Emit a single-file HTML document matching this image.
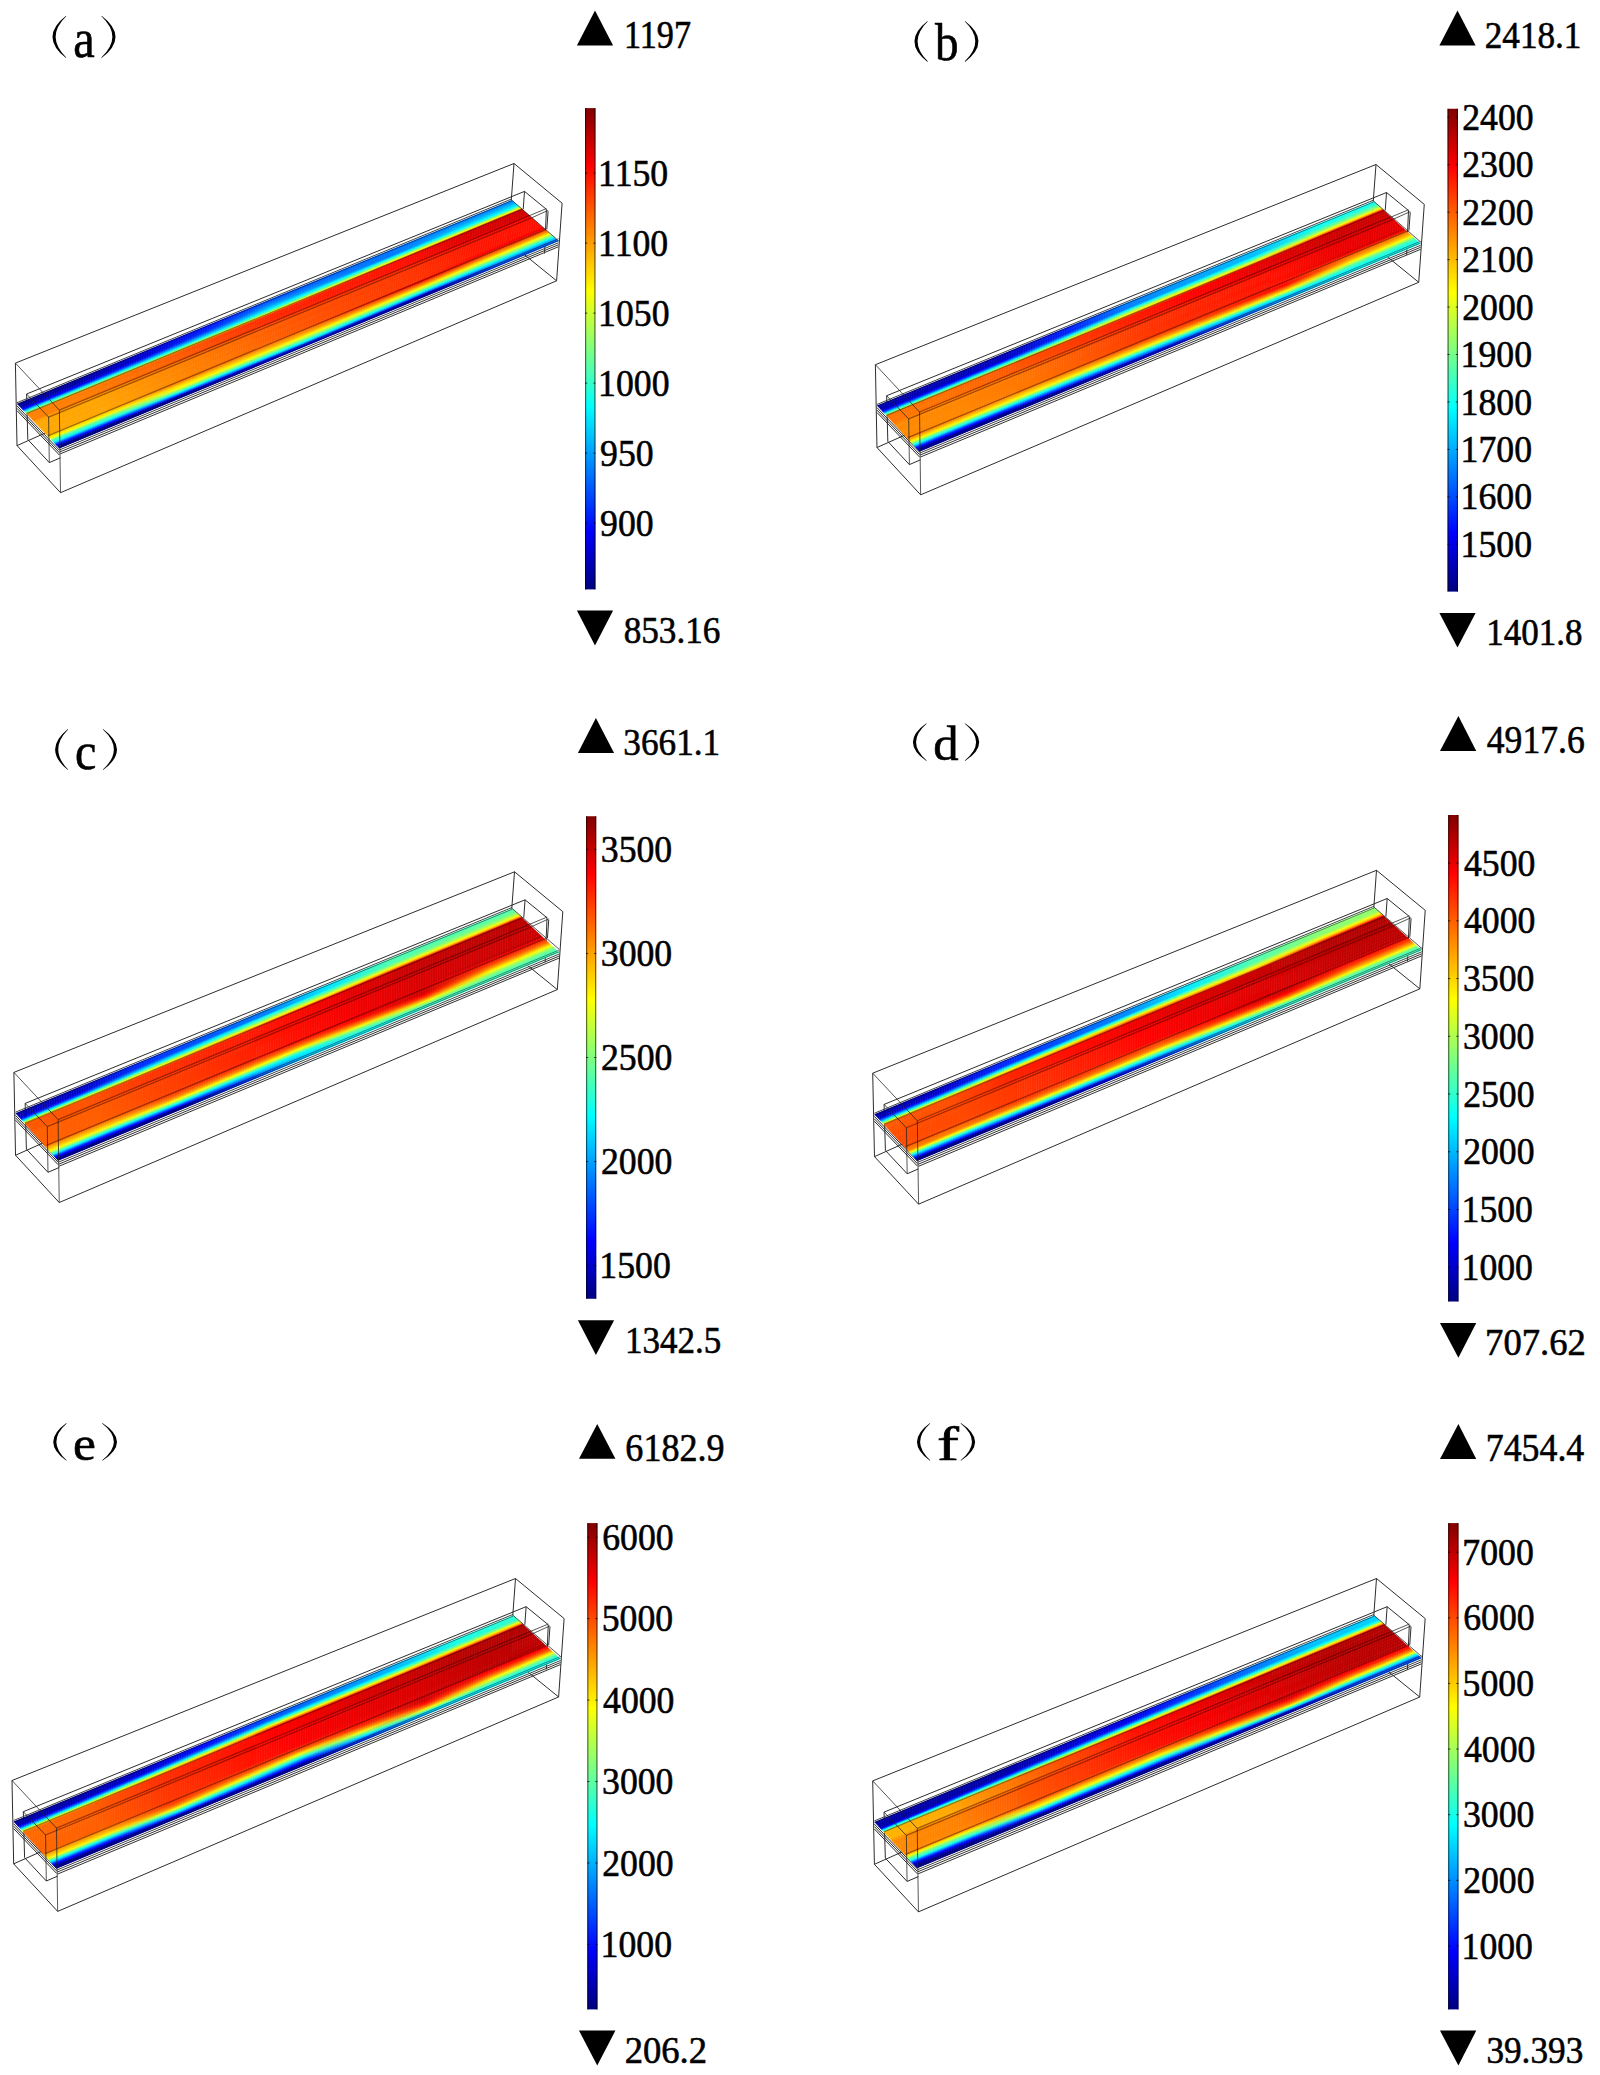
<!DOCTYPE html>
<html><head><meta charset="utf-8"><style>
html,body{margin:0;padding:0;background:#fff;}
svg{display:block;}
text{font-family:"Liberation Serif",serif;fill:#000;stroke:#000;stroke-width:0.6px;}
</style></head><body>
<svg xmlns="http://www.w3.org/2000/svg" width="1600" height="2075" viewBox="0 0 1600 2075">
<defs><linearGradient id="jetv" x1="0" y1="1" x2="0" y2="0"><stop offset="0" stop-color="#000080"/><stop offset="0.12" stop-color="#0000ff"/><stop offset="0.38" stop-color="#00ffff"/><stop offset="0.62" stop-color="#ffff00"/><stop offset="0.88" stop-color="#ff0000"/><stop offset="1" stop-color="#800000"/></linearGradient>
<linearGradient id="ga0" gradientUnits="userSpaceOnUse" x1="17.33" y1="404.05" x2="511.97" y2="200.32"><stop offset="0" stop-color="#000094"/><stop offset="0.12" stop-color="#00009e"/><stop offset="0.25" stop-color="#0000d1"/><stop offset="0.38" stop-color="#0010ff"/><stop offset="0.5" stop-color="#004eff"/><stop offset="0.62" stop-color="#0062ff"/><stop offset="0.75" stop-color="#0075ff"/><stop offset="0.88" stop-color="#007fff"/><stop offset="1" stop-color="#0081ff"/></linearGradient>
<linearGradient id="ga1" gradientUnits="userSpaceOnUse" x1="17.99" y1="404.75" x2="512.7" y2="200.97"><stop offset="0" stop-color="#000096"/><stop offset="0.12" stop-color="#0000a0"/><stop offset="0.25" stop-color="#0000d1"/><stop offset="0.38" stop-color="#0013ff"/><stop offset="0.5" stop-color="#0055ff"/><stop offset="0.62" stop-color="#0065ff"/><stop offset="0.75" stop-color="#0075ff"/><stop offset="0.88" stop-color="#0085ff"/><stop offset="1" stop-color="#0088ff"/></linearGradient>
<linearGradient id="ga2" gradientUnits="userSpaceOnUse" x1="18.66" y1="405.45" x2="513.44" y2="201.61"><stop offset="0" stop-color="#00009a"/><stop offset="0.12" stop-color="#0000a3"/><stop offset="0.25" stop-color="#0000d1"/><stop offset="0.38" stop-color="#0018ff"/><stop offset="0.5" stop-color="#005fff"/><stop offset="0.62" stop-color="#006aff"/><stop offset="0.75" stop-color="#0075ff"/><stop offset="0.88" stop-color="#008eff"/><stop offset="1" stop-color="#0092ff"/></linearGradient>
<linearGradient id="ga3" gradientUnits="userSpaceOnUse" x1="19.32" y1="406.15" x2="514.17" y2="202.26"><stop offset="0" stop-color="#00009e"/><stop offset="0.12" stop-color="#0000a6"/><stop offset="0.25" stop-color="#0000d1"/><stop offset="0.38" stop-color="#001fff"/><stop offset="0.5" stop-color="#006cff"/><stop offset="0.62" stop-color="#0070ff"/><stop offset="0.75" stop-color="#0075ff"/><stop offset="0.88" stop-color="#0099ff"/><stop offset="1" stop-color="#00a0ff"/></linearGradient>
<linearGradient id="ga4" gradientUnits="userSpaceOnUse" x1="19.98" y1="406.85" x2="514.9" y2="202.9"><stop offset="0" stop-color="#0000a2"/><stop offset="0.12" stop-color="#0000aa"/><stop offset="0.25" stop-color="#0000d1"/><stop offset="0.38" stop-color="#0027ff"/><stop offset="0.5" stop-color="#007bff"/><stop offset="0.62" stop-color="#0078ff"/><stop offset="0.75" stop-color="#0075ff"/><stop offset="0.88" stop-color="#00a6ff"/><stop offset="1" stop-color="#00b0ff"/></linearGradient>
<linearGradient id="ga5" gradientUnits="userSpaceOnUse" x1="20.64" y1="407.55" x2="515.64" y2="203.55"><stop offset="0" stop-color="#0000a8"/><stop offset="0.12" stop-color="#0000af"/><stop offset="0.25" stop-color="#0000d1"/><stop offset="0.38" stop-color="#002fff"/><stop offset="0.5" stop-color="#008dff"/><stop offset="0.62" stop-color="#0081ff"/><stop offset="0.75" stop-color="#0075ff"/><stop offset="0.88" stop-color="#00b6ff"/><stop offset="1" stop-color="#00c2ff"/></linearGradient>
<linearGradient id="ga6" gradientUnits="userSpaceOnUse" x1="21.31" y1="408.25" x2="516.37" y2="204.19"><stop offset="0" stop-color="#0000c8"/><stop offset="0.12" stop-color="#0000cd"/><stop offset="0.25" stop-color="#0000e1"/><stop offset="0.38" stop-color="#0041ff"/><stop offset="0.5" stop-color="#00a0ff"/><stop offset="0.62" stop-color="#008bff"/><stop offset="0.75" stop-color="#0075ff"/><stop offset="0.88" stop-color="#00c6ff"/><stop offset="1" stop-color="#00d6ff"/></linearGradient>
<linearGradient id="ga7" gradientUnits="userSpaceOnUse" x1="21.97" y1="408.95" x2="517.11" y2="204.84"><stop offset="0" stop-color="#0000ee"/><stop offset="0.12" stop-color="#0000f5"/><stop offset="0.25" stop-color="#001dff"/><stop offset="0.38" stop-color="#006aff"/><stop offset="0.5" stop-color="#00b6ff"/><stop offset="0.62" stop-color="#00b1ff"/><stop offset="0.75" stop-color="#00acff"/><stop offset="0.88" stop-color="#00dfff"/><stop offset="1" stop-color="#00e9ff"/></linearGradient>
<linearGradient id="ga8" gradientUnits="userSpaceOnUse" x1="22.63" y1="409.65" x2="517.84" y2="205.49"><stop offset="0" stop-color="#0017ff"/><stop offset="0.12" stop-color="#0022ff"/><stop offset="0.25" stop-color="#005aff"/><stop offset="0.38" stop-color="#0094ff"/><stop offset="0.5" stop-color="#00cdff"/><stop offset="0.62" stop-color="#00dcff"/><stop offset="0.75" stop-color="#00eaff"/><stop offset="0.88" stop-color="#00faff"/><stop offset="1" stop-color="#00feff"/></linearGradient>
<linearGradient id="ga9" gradientUnits="userSpaceOnUse" x1="23.29" y1="410.35" x2="518.58" y2="206.13"><stop offset="0" stop-color="#006cff"/><stop offset="0.12" stop-color="#0073ff"/><stop offset="0.25" stop-color="#0092ff"/><stop offset="0.38" stop-color="#00bcff"/><stop offset="0.5" stop-color="#00e6ff"/><stop offset="0.62" stop-color="#09fff6"/><stop offset="0.75" stop-color="#2affd5"/><stop offset="0.88" stop-color="#37ffc8"/><stop offset="1" stop-color="#3affc5"/></linearGradient>
<linearGradient id="ga10" gradientUnits="userSpaceOnUse" x1="23.96" y1="411.05" x2="519.31" y2="206.78"><stop offset="0" stop-color="#00cbff"/><stop offset="0.12" stop-color="#00cbff"/><stop offset="0.25" stop-color="#00cdff"/><stop offset="0.38" stop-color="#00e8ff"/><stop offset="0.5" stop-color="#05fffa"/><stop offset="0.62" stop-color="#38ffc7"/><stop offset="0.75" stop-color="#6bff94"/><stop offset="0.88" stop-color="#78ff87"/><stop offset="1" stop-color="#7bff84"/></linearGradient>
<linearGradient id="ga11" gradientUnits="userSpaceOnUse" x1="24.62" y1="411.75" x2="520.05" y2="207.42"><stop offset="0" stop-color="#1affe5"/><stop offset="0.12" stop-color="#18ffe7"/><stop offset="0.25" stop-color="#0efff1"/><stop offset="0.38" stop-color="#2affd5"/><stop offset="0.5" stop-color="#45ffba"/><stop offset="0.62" stop-color="#7bff84"/><stop offset="0.75" stop-color="#b0ff4f"/><stop offset="0.88" stop-color="#beff41"/><stop offset="1" stop-color="#c0ff3f"/></linearGradient>
<linearGradient id="ga12" gradientUnits="userSpaceOnUse" x1="25.28" y1="412.45" x2="520.78" y2="208.07"><stop offset="0" stop-color="#55ffaa"/><stop offset="0.12" stop-color="#55ffaa"/><stop offset="0.25" stop-color="#59ffa6"/><stop offset="0.38" stop-color="#72ff8d"/><stop offset="0.5" stop-color="#8bff74"/><stop offset="0.62" stop-color="#c2ff3d"/><stop offset="0.75" stop-color="#f9ff06"/><stop offset="0.88" stop-color="#fff500"/><stop offset="1" stop-color="#fff200"/></linearGradient>
<linearGradient id="ga13" gradientUnits="userSpaceOnUse" x1="25.94" y1="413.15" x2="521.51" y2="208.71"><stop offset="0" stop-color="#98ff67"/><stop offset="0.12" stop-color="#99ff66"/><stop offset="0.25" stop-color="#9fff60"/><stop offset="0.38" stop-color="#c2ff3d"/><stop offset="0.5" stop-color="#e5ff1a"/><stop offset="0.62" stop-color="#ffea00"/><stop offset="0.75" stop-color="#ffbb00"/><stop offset="0.88" stop-color="#ff9300"/><stop offset="1" stop-color="#ff8c00"/></linearGradient>
<linearGradient id="ga14" gradientUnits="userSpaceOnUse" x1="26.61" y1="413.85" x2="522.25" y2="209.36"><stop offset="0" stop-color="#ffb200"/><stop offset="0.12" stop-color="#ffb300"/><stop offset="0.25" stop-color="#ffb800"/><stop offset="0.38" stop-color="#ffb700"/><stop offset="0.5" stop-color="#ffb600"/><stop offset="0.62" stop-color="#ff6300"/><stop offset="0.75" stop-color="#ff0f00"/><stop offset="0.88" stop-color="#db0000"/><stop offset="1" stop-color="#d10000"/></linearGradient>
<linearGradient id="ga15" gradientUnits="userSpaceOnUse" x1="27.27" y1="414.55" x2="522.98" y2="210"><stop offset="0" stop-color="#ff8000"/><stop offset="0.12" stop-color="#ff7b00"/><stop offset="0.25" stop-color="#ff6600"/><stop offset="0.38" stop-color="#ff4600"/><stop offset="0.5" stop-color="#ff2600"/><stop offset="0.62" stop-color="#ff1b00"/><stop offset="0.75" stop-color="#ff0f00"/><stop offset="0.88" stop-color="#db0000"/><stop offset="1" stop-color="#d10000"/></linearGradient>
<linearGradient id="ga16" gradientUnits="userSpaceOnUse" x1="27.93" y1="415.25" x2="523.72" y2="210.65"><stop offset="0" stop-color="#ff8000"/><stop offset="0.12" stop-color="#ff7b00"/><stop offset="0.25" stop-color="#ff6600"/><stop offset="0.38" stop-color="#ff4600"/><stop offset="0.5" stop-color="#ff2600"/><stop offset="0.62" stop-color="#ff1b00"/><stop offset="0.75" stop-color="#ff0f00"/><stop offset="0.88" stop-color="#db0000"/><stop offset="1" stop-color="#d10000"/></linearGradient>
<linearGradient id="ga17" gradientUnits="userSpaceOnUse" x1="28.59" y1="415.95" x2="524.45" y2="211.29"><stop offset="0" stop-color="#ff8000"/><stop offset="0.12" stop-color="#ff7b00"/><stop offset="0.25" stop-color="#ff6600"/><stop offset="0.38" stop-color="#ff4600"/><stop offset="0.5" stop-color="#ff2600"/><stop offset="0.62" stop-color="#ff1b00"/><stop offset="0.75" stop-color="#ff0f00"/><stop offset="0.88" stop-color="#db0000"/><stop offset="1" stop-color="#d10000"/></linearGradient>
<linearGradient id="ga18" gradientUnits="userSpaceOnUse" x1="29.26" y1="416.65" x2="525.19" y2="211.94"><stop offset="0" stop-color="#ff8000"/><stop offset="0.12" stop-color="#ff7b00"/><stop offset="0.25" stop-color="#ff6600"/><stop offset="0.38" stop-color="#ff4600"/><stop offset="0.5" stop-color="#ff2600"/><stop offset="0.62" stop-color="#ff1b00"/><stop offset="0.75" stop-color="#ff0f00"/><stop offset="0.88" stop-color="#db0000"/><stop offset="1" stop-color="#d10000"/></linearGradient>
<linearGradient id="ga19" gradientUnits="userSpaceOnUse" x1="29.92" y1="417.35" x2="525.92" y2="212.58"><stop offset="0" stop-color="#ff8000"/><stop offset="0.12" stop-color="#ff7b00"/><stop offset="0.25" stop-color="#ff6600"/><stop offset="0.38" stop-color="#ff4600"/><stop offset="0.5" stop-color="#ff2600"/><stop offset="0.62" stop-color="#ff1b00"/><stop offset="0.75" stop-color="#ff0f00"/><stop offset="0.88" stop-color="#db0000"/><stop offset="1" stop-color="#d10000"/></linearGradient>
<linearGradient id="ga20" gradientUnits="userSpaceOnUse" x1="30.58" y1="418.05" x2="526.65" y2="213.23"><stop offset="0" stop-color="#ff8000"/><stop offset="0.12" stop-color="#ff7b00"/><stop offset="0.25" stop-color="#ff6600"/><stop offset="0.38" stop-color="#ff4600"/><stop offset="0.5" stop-color="#ff2600"/><stop offset="0.62" stop-color="#ff1b00"/><stop offset="0.75" stop-color="#ff0f00"/><stop offset="0.88" stop-color="#db0000"/><stop offset="1" stop-color="#d10000"/></linearGradient>
<linearGradient id="ga21" gradientUnits="userSpaceOnUse" x1="31.24" y1="418.75" x2="527.39" y2="213.87"><stop offset="0" stop-color="#ff8000"/><stop offset="0.12" stop-color="#ff7b00"/><stop offset="0.25" stop-color="#ff6600"/><stop offset="0.38" stop-color="#ff4600"/><stop offset="0.5" stop-color="#ff2600"/><stop offset="0.62" stop-color="#ff1b00"/><stop offset="0.75" stop-color="#ff0f00"/><stop offset="0.88" stop-color="#db0000"/><stop offset="1" stop-color="#d10000"/></linearGradient>
<linearGradient id="ga22" gradientUnits="userSpaceOnUse" x1="31.91" y1="419.45" x2="528.12" y2="214.52"><stop offset="0" stop-color="#ff8000"/><stop offset="0.12" stop-color="#ff7b00"/><stop offset="0.25" stop-color="#ff6600"/><stop offset="0.38" stop-color="#ff4600"/><stop offset="0.5" stop-color="#ff2600"/><stop offset="0.62" stop-color="#ff1b00"/><stop offset="0.75" stop-color="#ff0f00"/><stop offset="0.88" stop-color="#e40000"/><stop offset="1" stop-color="#dc0000"/></linearGradient>
<linearGradient id="ga23" gradientUnits="userSpaceOnUse" x1="32.57" y1="420.15" x2="528.86" y2="215.16"><stop offset="0" stop-color="#ff8000"/><stop offset="0.12" stop-color="#ff7c00"/><stop offset="0.25" stop-color="#ff6800"/><stop offset="0.38" stop-color="#ff4700"/><stop offset="0.5" stop-color="#ff2600"/><stop offset="0.62" stop-color="#ff1e00"/><stop offset="0.75" stop-color="#ff1600"/><stop offset="0.88" stop-color="#f00000"/><stop offset="1" stop-color="#e80000"/></linearGradient>
<linearGradient id="ga24" gradientUnits="userSpaceOnUse" x1="33.23" y1="420.85" x2="529.59" y2="215.81"><stop offset="0" stop-color="#ff8a00"/><stop offset="0.12" stop-color="#ff8600"/><stop offset="0.25" stop-color="#ff6f00"/><stop offset="0.38" stop-color="#ff5100"/><stop offset="0.5" stop-color="#ff3300"/><stop offset="0.62" stop-color="#ff2800"/><stop offset="0.75" stop-color="#ff1d00"/><stop offset="0.88" stop-color="#fb0000"/><stop offset="1" stop-color="#f40000"/></linearGradient>
<linearGradient id="ga25" gradientUnits="userSpaceOnUse" x1="33.89" y1="421.55" x2="530.33" y2="216.46"><stop offset="0" stop-color="#ff9500"/><stop offset="0.12" stop-color="#ff9000"/><stop offset="0.25" stop-color="#ff7700"/><stop offset="0.38" stop-color="#ff5b00"/><stop offset="0.5" stop-color="#ff4000"/><stop offset="0.62" stop-color="#ff3200"/><stop offset="0.75" stop-color="#ff2400"/><stop offset="0.88" stop-color="#ff0700"/><stop offset="1" stop-color="#ff0100"/></linearGradient>
<linearGradient id="ga26" gradientUnits="userSpaceOnUse" x1="34.56" y1="422.25" x2="531.06" y2="217.1"><stop offset="0" stop-color="#ffa000"/><stop offset="0.12" stop-color="#ff9a00"/><stop offset="0.25" stop-color="#ff7f00"/><stop offset="0.38" stop-color="#ff6600"/><stop offset="0.5" stop-color="#ff4c00"/><stop offset="0.62" stop-color="#ff3c00"/><stop offset="0.75" stop-color="#ff2b00"/><stop offset="0.88" stop-color="#ff1200"/><stop offset="1" stop-color="#ff0d00"/></linearGradient>
<linearGradient id="ga27" gradientUnits="userSpaceOnUse" x1="35.22" y1="422.95" x2="531.8" y2="217.75"><stop offset="0" stop-color="#ffa800"/><stop offset="0.12" stop-color="#ffa300"/><stop offset="0.25" stop-color="#ff8600"/><stop offset="0.38" stop-color="#ff6f00"/><stop offset="0.5" stop-color="#ff5700"/><stop offset="0.62" stop-color="#ff4400"/><stop offset="0.75" stop-color="#ff3200"/><stop offset="0.88" stop-color="#ff1500"/><stop offset="1" stop-color="#ff0f00"/></linearGradient>
<linearGradient id="ga28" gradientUnits="userSpaceOnUse" x1="35.88" y1="423.65" x2="532.53" y2="218.39"><stop offset="0" stop-color="#ffa800"/><stop offset="0.12" stop-color="#ffa300"/><stop offset="0.25" stop-color="#ff8a00"/><stop offset="0.38" stop-color="#ff7000"/><stop offset="0.5" stop-color="#ff5700"/><stop offset="0.62" stop-color="#ff4500"/><stop offset="0.75" stop-color="#ff3300"/><stop offset="0.88" stop-color="#ff1500"/><stop offset="1" stop-color="#ff0f00"/></linearGradient>
<linearGradient id="ga29" gradientUnits="userSpaceOnUse" x1="36.54" y1="424.35" x2="533.26" y2="219.04"><stop offset="0" stop-color="#ffa800"/><stop offset="0.12" stop-color="#ffa300"/><stop offset="0.25" stop-color="#ff8a00"/><stop offset="0.38" stop-color="#ff7000"/><stop offset="0.5" stop-color="#ff5700"/><stop offset="0.62" stop-color="#ff4500"/><stop offset="0.75" stop-color="#ff3300"/><stop offset="0.88" stop-color="#ff1500"/><stop offset="1" stop-color="#ff0f00"/></linearGradient>
<linearGradient id="ga30" gradientUnits="userSpaceOnUse" x1="37.21" y1="425.05" x2="534" y2="219.68"><stop offset="0" stop-color="#ffa800"/><stop offset="0.12" stop-color="#ffa300"/><stop offset="0.25" stop-color="#ff8a00"/><stop offset="0.38" stop-color="#ff7000"/><stop offset="0.5" stop-color="#ff5700"/><stop offset="0.62" stop-color="#ff4500"/><stop offset="0.75" stop-color="#ff3300"/><stop offset="0.88" stop-color="#ff1500"/><stop offset="1" stop-color="#ff0f00"/></linearGradient>
<linearGradient id="ga31" gradientUnits="userSpaceOnUse" x1="37.87" y1="425.75" x2="534.73" y2="220.33"><stop offset="0" stop-color="#ffa800"/><stop offset="0.12" stop-color="#ffa300"/><stop offset="0.25" stop-color="#ff8a00"/><stop offset="0.38" stop-color="#ff7000"/><stop offset="0.5" stop-color="#ff5700"/><stop offset="0.62" stop-color="#ff4500"/><stop offset="0.75" stop-color="#ff3300"/><stop offset="0.88" stop-color="#ff1500"/><stop offset="1" stop-color="#ff0f00"/></linearGradient>
<linearGradient id="ga32" gradientUnits="userSpaceOnUse" x1="38.53" y1="426.45" x2="535.47" y2="220.97"><stop offset="0" stop-color="#ffa800"/><stop offset="0.12" stop-color="#ffa300"/><stop offset="0.25" stop-color="#ff8a00"/><stop offset="0.38" stop-color="#ff7000"/><stop offset="0.5" stop-color="#ff5700"/><stop offset="0.62" stop-color="#ff4500"/><stop offset="0.75" stop-color="#ff3300"/><stop offset="0.88" stop-color="#ff1500"/><stop offset="1" stop-color="#ff0f00"/></linearGradient>
<linearGradient id="ga33" gradientUnits="userSpaceOnUse" x1="39.19" y1="427.15" x2="536.2" y2="221.62"><stop offset="0" stop-color="#ffa800"/><stop offset="0.12" stop-color="#ffa300"/><stop offset="0.25" stop-color="#ff8a00"/><stop offset="0.38" stop-color="#ff7000"/><stop offset="0.5" stop-color="#ff5700"/><stop offset="0.62" stop-color="#ff4500"/><stop offset="0.75" stop-color="#ff3300"/><stop offset="0.88" stop-color="#ff1500"/><stop offset="1" stop-color="#ff0f00"/></linearGradient>
<linearGradient id="ga34" gradientUnits="userSpaceOnUse" x1="39.86" y1="427.85" x2="536.94" y2="222.26"><stop offset="0" stop-color="#ffa800"/><stop offset="0.12" stop-color="#ffa300"/><stop offset="0.25" stop-color="#ff8a00"/><stop offset="0.38" stop-color="#ff7000"/><stop offset="0.5" stop-color="#ff5700"/><stop offset="0.62" stop-color="#ff4500"/><stop offset="0.75" stop-color="#ff3300"/><stop offset="0.88" stop-color="#ff1500"/><stop offset="1" stop-color="#ff0f00"/></linearGradient>
<linearGradient id="ga35" gradientUnits="userSpaceOnUse" x1="40.52" y1="428.55" x2="537.67" y2="222.91"><stop offset="0" stop-color="#ffa800"/><stop offset="0.12" stop-color="#ffa300"/><stop offset="0.25" stop-color="#ff8a00"/><stop offset="0.38" stop-color="#ff7000"/><stop offset="0.5" stop-color="#ff5700"/><stop offset="0.62" stop-color="#ff4500"/><stop offset="0.75" stop-color="#ff3300"/><stop offset="0.88" stop-color="#ff1500"/><stop offset="1" stop-color="#ff0f00"/></linearGradient>
<linearGradient id="ga36" gradientUnits="userSpaceOnUse" x1="41.18" y1="429.25" x2="538.4" y2="223.55"><stop offset="0" stop-color="#ffa800"/><stop offset="0.12" stop-color="#ffa300"/><stop offset="0.25" stop-color="#ff8a00"/><stop offset="0.38" stop-color="#ff7000"/><stop offset="0.5" stop-color="#ff5700"/><stop offset="0.62" stop-color="#ff4500"/><stop offset="0.75" stop-color="#ff3300"/><stop offset="0.88" stop-color="#ff1500"/><stop offset="1" stop-color="#ff0f00"/></linearGradient>
<linearGradient id="ga37" gradientUnits="userSpaceOnUse" x1="41.84" y1="429.95" x2="539.14" y2="224.2"><stop offset="0" stop-color="#ffa800"/><stop offset="0.12" stop-color="#ffa300"/><stop offset="0.25" stop-color="#ff8a00"/><stop offset="0.38" stop-color="#ff7000"/><stop offset="0.5" stop-color="#ff5700"/><stop offset="0.62" stop-color="#ff4500"/><stop offset="0.75" stop-color="#ff3300"/><stop offset="0.88" stop-color="#ff1500"/><stop offset="1" stop-color="#ff0f00"/></linearGradient>
<linearGradient id="ga38" gradientUnits="userSpaceOnUse" x1="42.51" y1="430.65" x2="539.87" y2="224.84"><stop offset="0" stop-color="#ffa800"/><stop offset="0.12" stop-color="#ffa300"/><stop offset="0.25" stop-color="#ff8a00"/><stop offset="0.38" stop-color="#ff7000"/><stop offset="0.5" stop-color="#ff5700"/><stop offset="0.62" stop-color="#ff4500"/><stop offset="0.75" stop-color="#ff3300"/><stop offset="0.88" stop-color="#ff1500"/><stop offset="1" stop-color="#ff0f00"/></linearGradient>
<linearGradient id="ga39" gradientUnits="userSpaceOnUse" x1="43.17" y1="431.35" x2="540.61" y2="225.49"><stop offset="0" stop-color="#ffa800"/><stop offset="0.12" stop-color="#ffa300"/><stop offset="0.25" stop-color="#ff8a00"/><stop offset="0.38" stop-color="#ff7000"/><stop offset="0.5" stop-color="#ff5700"/><stop offset="0.62" stop-color="#ff4500"/><stop offset="0.75" stop-color="#ff3300"/><stop offset="0.88" stop-color="#ff1500"/><stop offset="1" stop-color="#ff0f00"/></linearGradient>
<linearGradient id="ga40" gradientUnits="userSpaceOnUse" x1="43.83" y1="432.05" x2="541.34" y2="226.14"><stop offset="0" stop-color="#ffa800"/><stop offset="0.12" stop-color="#ffa300"/><stop offset="0.25" stop-color="#ff8a00"/><stop offset="0.38" stop-color="#ff7000"/><stop offset="0.5" stop-color="#ff5700"/><stop offset="0.62" stop-color="#ff4500"/><stop offset="0.75" stop-color="#ff3300"/><stop offset="0.88" stop-color="#ff1500"/><stop offset="1" stop-color="#ff0f00"/></linearGradient>
<linearGradient id="ga41" gradientUnits="userSpaceOnUse" x1="44.49" y1="432.75" x2="542.08" y2="226.78"><stop offset="0" stop-color="#ffa800"/><stop offset="0.12" stop-color="#ffa300"/><stop offset="0.25" stop-color="#ff8a00"/><stop offset="0.38" stop-color="#ff7000"/><stop offset="0.5" stop-color="#ff5700"/><stop offset="0.62" stop-color="#ff4500"/><stop offset="0.75" stop-color="#ff3300"/><stop offset="0.88" stop-color="#ff1500"/><stop offset="1" stop-color="#ff0f00"/></linearGradient>
<linearGradient id="ga42" gradientUnits="userSpaceOnUse" x1="45.16" y1="433.45" x2="542.81" y2="227.43"><stop offset="0" stop-color="#ffa800"/><stop offset="0.12" stop-color="#ffa300"/><stop offset="0.25" stop-color="#ff8a00"/><stop offset="0.38" stop-color="#ff7000"/><stop offset="0.5" stop-color="#ff5700"/><stop offset="0.62" stop-color="#ff4500"/><stop offset="0.75" stop-color="#ff3300"/><stop offset="0.88" stop-color="#ff0d00"/><stop offset="1" stop-color="#ff0600"/></linearGradient>
<linearGradient id="ga43" gradientUnits="userSpaceOnUse" x1="45.82" y1="434.15" x2="543.55" y2="228.07"><stop offset="0" stop-color="#ffa800"/><stop offset="0.12" stop-color="#ffa300"/><stop offset="0.25" stop-color="#ff8a00"/><stop offset="0.38" stop-color="#ff7000"/><stop offset="0.5" stop-color="#ff5700"/><stop offset="0.62" stop-color="#ff4500"/><stop offset="0.75" stop-color="#ff3300"/><stop offset="0.88" stop-color="#ff0000"/><stop offset="1" stop-color="#f50000"/></linearGradient>
<linearGradient id="ga44" gradientUnits="userSpaceOnUse" x1="46.48" y1="434.85" x2="544.28" y2="228.72"><stop offset="0" stop-color="#ffa800"/><stop offset="0.12" stop-color="#ffa300"/><stop offset="0.25" stop-color="#ff8a00"/><stop offset="0.38" stop-color="#ff7000"/><stop offset="0.5" stop-color="#ff5700"/><stop offset="0.62" stop-color="#ff4300"/><stop offset="0.75" stop-color="#ff2f00"/><stop offset="0.88" stop-color="#f40000"/><stop offset="1" stop-color="#e90000"/></linearGradient>
<linearGradient id="ga45" gradientUnits="userSpaceOnUse" x1="47.14" y1="435.55" x2="545.01" y2="229.36"><stop offset="0" stop-color="#ffba00"/><stop offset="0.12" stop-color="#ffb200"/><stop offset="0.25" stop-color="#ff8a00"/><stop offset="0.38" stop-color="#ff7700"/><stop offset="0.5" stop-color="#ff6400"/><stop offset="0.62" stop-color="#ff2900"/><stop offset="0.75" stop-color="#ec0000"/><stop offset="0.88" stop-color="#ff1c00"/><stop offset="1" stop-color="#ff2600"/></linearGradient>
<linearGradient id="ga46" gradientUnits="userSpaceOnUse" x1="47.81" y1="436.25" x2="545.75" y2="230.01"><stop offset="0" stop-color="#ffd300"/><stop offset="0.12" stop-color="#ffc700"/><stop offset="0.25" stop-color="#ff8a00"/><stop offset="0.38" stop-color="#ff8100"/><stop offset="0.5" stop-color="#ff7700"/><stop offset="0.62" stop-color="#ff4700"/><stop offset="0.75" stop-color="#ff1700"/><stop offset="0.88" stop-color="#ff4200"/><stop offset="1" stop-color="#ff4b00"/></linearGradient>
<linearGradient id="ga47" gradientUnits="userSpaceOnUse" x1="48.47" y1="436.95" x2="546.48" y2="230.65"><stop offset="0" stop-color="#ffdd00"/><stop offset="0.12" stop-color="#ffcf00"/><stop offset="0.25" stop-color="#ff8a00"/><stop offset="0.38" stop-color="#ff8500"/><stop offset="0.5" stop-color="#ff8100"/><stop offset="0.62" stop-color="#ff5700"/><stop offset="0.75" stop-color="#ff2e00"/><stop offset="0.88" stop-color="#ff5700"/><stop offset="1" stop-color="#ff5f00"/></linearGradient>
<linearGradient id="ga48" gradientUnits="userSpaceOnUse" x1="49.13" y1="437.65" x2="547.22" y2="231.3"><stop offset="0" stop-color="#ffeb00"/><stop offset="0.12" stop-color="#ffdf00"/><stop offset="0.25" stop-color="#ffa500"/><stop offset="0.38" stop-color="#ff9a00"/><stop offset="0.5" stop-color="#ff8e00"/><stop offset="0.62" stop-color="#ff6f00"/><stop offset="0.75" stop-color="#ff4f00"/><stop offset="0.88" stop-color="#ff7400"/><stop offset="1" stop-color="#ff7c00"/></linearGradient>
<linearGradient id="ga49" gradientUnits="userSpaceOnUse" x1="49.79" y1="438.35" x2="547.95" y2="231.94"><stop offset="0" stop-color="#fffc00"/><stop offset="0.12" stop-color="#fff400"/><stop offset="0.25" stop-color="#ffcb00"/><stop offset="0.38" stop-color="#ffb500"/><stop offset="0.5" stop-color="#ff9e00"/><stop offset="0.62" stop-color="#ff8b00"/><stop offset="0.75" stop-color="#ff7800"/><stop offset="0.88" stop-color="#ff9400"/><stop offset="1" stop-color="#ff9a00"/></linearGradient>
<linearGradient id="ga50" gradientUnits="userSpaceOnUse" x1="50.46" y1="439.05" x2="548.69" y2="232.59"><stop offset="0" stop-color="#c5ff3a"/><stop offset="0.12" stop-color="#d5ff2a"/><stop offset="0.25" stop-color="#ffd900"/><stop offset="0.38" stop-color="#ffc500"/><stop offset="0.5" stop-color="#ffb100"/><stop offset="0.62" stop-color="#ffa700"/><stop offset="0.75" stop-color="#ff9c00"/><stop offset="0.88" stop-color="#ffb700"/><stop offset="1" stop-color="#ffbc00"/></linearGradient>
<linearGradient id="ga51" gradientUnits="userSpaceOnUse" x1="51.12" y1="439.75" x2="549.42" y2="233.23"><stop offset="0" stop-color="#7dff82"/><stop offset="0.12" stop-color="#96ff69"/><stop offset="0.25" stop-color="#ffe800"/><stop offset="0.38" stop-color="#ffda00"/><stop offset="0.5" stop-color="#ffcc00"/><stop offset="0.62" stop-color="#ffc700"/><stop offset="0.75" stop-color="#ffc300"/><stop offset="0.88" stop-color="#ffdd00"/><stop offset="1" stop-color="#ffe300"/></linearGradient>
<linearGradient id="ga52" gradientUnits="userSpaceOnUse" x1="51.78" y1="440.45" x2="550.15" y2="233.88"><stop offset="0" stop-color="#5bffa4"/><stop offset="0.12" stop-color="#77ff88"/><stop offset="0.25" stop-color="#fff900"/><stop offset="0.38" stop-color="#fff100"/><stop offset="0.5" stop-color="#ffe900"/><stop offset="0.62" stop-color="#ffeb00"/><stop offset="0.75" stop-color="#ffed00"/><stop offset="0.88" stop-color="#f8ff07"/><stop offset="1" stop-color="#f3ff0c"/></linearGradient>
<linearGradient id="ga53" gradientUnits="userSpaceOnUse" x1="52.44" y1="441.15" x2="550.89" y2="234.52"><stop offset="0" stop-color="#36ffc9"/><stop offset="0.12" stop-color="#53ffac"/><stop offset="0.25" stop-color="#dfff20"/><stop offset="0.38" stop-color="#e9ff16"/><stop offset="0.5" stop-color="#f2ff0d"/><stop offset="0.62" stop-color="#ebff14"/><stop offset="0.75" stop-color="#e3ff1c"/><stop offset="0.88" stop-color="#ceff31"/><stop offset="1" stop-color="#caff35"/></linearGradient>
<linearGradient id="ga54" gradientUnits="userSpaceOnUse" x1="53.11" y1="441.85" x2="551.62" y2="235.17"><stop offset="0" stop-color="#0ffff0"/><stop offset="0.12" stop-color="#2affd5"/><stop offset="0.25" stop-color="#adff52"/><stop offset="0.38" stop-color="#bbff44"/><stop offset="0.5" stop-color="#c8ff37"/><stop offset="0.62" stop-color="#bdff42"/><stop offset="0.75" stop-color="#b3ff4c"/><stop offset="0.88" stop-color="#a2ff5d"/><stop offset="1" stop-color="#9fff60"/></linearGradient>
<linearGradient id="ga55" gradientUnits="userSpaceOnUse" x1="53.77" y1="442.55" x2="552.36" y2="235.81"><stop offset="0" stop-color="#00dcff"/><stop offset="0.12" stop-color="#00f6ff"/><stop offset="0.25" stop-color="#78ff87"/><stop offset="0.38" stop-color="#8aff75"/><stop offset="0.5" stop-color="#9bff64"/><stop offset="0.62" stop-color="#8dff72"/><stop offset="0.75" stop-color="#7fff80"/><stop offset="0.88" stop-color="#73ff8c"/><stop offset="1" stop-color="#71ff8e"/></linearGradient>
<linearGradient id="ga56" gradientUnits="userSpaceOnUse" x1="54.43" y1="443.25" x2="553.09" y2="236.46"><stop offset="0" stop-color="#00a0ff"/><stop offset="0.12" stop-color="#00bbff"/><stop offset="0.25" stop-color="#41ffbe"/><stop offset="0.38" stop-color="#56ffa9"/><stop offset="0.5" stop-color="#6bff94"/><stop offset="0.62" stop-color="#5affa5"/><stop offset="0.75" stop-color="#48ffb7"/><stop offset="0.88" stop-color="#42ffbd"/><stop offset="1" stop-color="#40ffbf"/></linearGradient>
<linearGradient id="ga57" gradientUnits="userSpaceOnUse" x1="55.09" y1="443.95" x2="553.83" y2="237.11"><stop offset="0" stop-color="#0061ff"/><stop offset="0.12" stop-color="#007dff"/><stop offset="0.25" stop-color="#06fff9"/><stop offset="0.38" stop-color="#1fffe0"/><stop offset="0.5" stop-color="#38ffc7"/><stop offset="0.62" stop-color="#24ffdb"/><stop offset="0.75" stop-color="#0ffff0"/><stop offset="0.88" stop-color="#0efff1"/><stop offset="1" stop-color="#0efff1"/></linearGradient>
<linearGradient id="ga58" gradientUnits="userSpaceOnUse" x1="55.76" y1="444.65" x2="554.56" y2="237.75"><stop offset="0" stop-color="#0022ff"/><stop offset="0.12" stop-color="#003aff"/><stop offset="0.25" stop-color="#00b4ff"/><stop offset="0.38" stop-color="#00dbff"/><stop offset="0.5" stop-color="#03fffc"/><stop offset="0.62" stop-color="#00e3ff"/><stop offset="0.75" stop-color="#00c5ff"/><stop offset="0.88" stop-color="#00e0ff"/><stop offset="1" stop-color="#00e6ff"/></linearGradient>
<linearGradient id="ga59" gradientUnits="userSpaceOnUse" x1="56.42" y1="445.35" x2="555.3" y2="238.4"><stop offset="0" stop-color="#0000e5"/><stop offset="0.12" stop-color="#0000f9"/><stop offset="0.25" stop-color="#005dff"/><stop offset="0.38" stop-color="#0090ff"/><stop offset="0.5" stop-color="#00c4ff"/><stop offset="0.62" stop-color="#009bff"/><stop offset="0.75" stop-color="#0073ff"/><stop offset="0.88" stop-color="#00b5ff"/><stop offset="1" stop-color="#00c2ff"/></linearGradient>
<linearGradient id="ga60" gradientUnits="userSpaceOnUse" x1="57.08" y1="446.05" x2="556.03" y2="239.04"><stop offset="0" stop-color="#0000b1"/><stop offset="0.12" stop-color="#0000c0"/><stop offset="0.25" stop-color="#000dff"/><stop offset="0.38" stop-color="#0048ff"/><stop offset="0.5" stop-color="#0083ff"/><stop offset="0.62" stop-color="#0053ff"/><stop offset="0.75" stop-color="#0023ff"/><stop offset="0.88" stop-color="#0089ff"/><stop offset="1" stop-color="#009dff"/></linearGradient>
<linearGradient id="ga61" gradientUnits="userSpaceOnUse" x1="57.74" y1="446.75" x2="556.76" y2="239.69"><stop offset="0" stop-color="#0000a9"/><stop offset="0.12" stop-color="#0000ae"/><stop offset="0.25" stop-color="#0000c5"/><stop offset="0.38" stop-color="#0002ff"/><stop offset="0.5" stop-color="#003fff"/><stop offset="0.62" stop-color="#0011ff"/><stop offset="0.75" stop-color="#0000e1"/><stop offset="0.88" stop-color="#0063ff"/><stop offset="1" stop-color="#007dff"/></linearGradient>
<linearGradient id="ga62" gradientUnits="userSpaceOnUse" x1="58.41" y1="447.45" x2="557.5" y2="240.33"><stop offset="0" stop-color="#0000a1"/><stop offset="0.12" stop-color="#0000a2"/><stop offset="0.25" stop-color="#0000a8"/><stop offset="0.38" stop-color="#0000d2"/><stop offset="0.5" stop-color="#0000fb"/><stop offset="0.62" stop-color="#0000d7"/><stop offset="0.75" stop-color="#0000b2"/><stop offset="0.88" stop-color="#0052ff"/><stop offset="1" stop-color="#0072ff"/></linearGradient>
<linearGradient id="ga63" gradientUnits="userSpaceOnUse" x1="59.07" y1="448.15" x2="558.23" y2="240.98"><stop offset="0" stop-color="#000098"/><stop offset="0.12" stop-color="#00009b"/><stop offset="0.25" stop-color="#0000a8"/><stop offset="0.38" stop-color="#0000b0"/><stop offset="0.5" stop-color="#0000b7"/><stop offset="0.62" stop-color="#0000b5"/><stop offset="0.75" stop-color="#0000b2"/><stop offset="0.88" stop-color="#0049ff"/><stop offset="1" stop-color="#0067ff"/></linearGradient>
<linearGradient id="gb0" gradientUnits="userSpaceOnUse" x1="877.32" y1="405.82" x2="1373.95" y2="201.47"><stop offset="0" stop-color="#0000b2"/><stop offset="0.12" stop-color="#0000b4"/><stop offset="0.25" stop-color="#0000bd"/><stop offset="0.38" stop-color="#001fff"/><stop offset="0.5" stop-color="#0080ff"/><stop offset="0.62" stop-color="#009eff"/><stop offset="0.75" stop-color="#00bdff"/><stop offset="0.88" stop-color="#0afff5"/><stop offset="1" stop-color="#1affe5"/></linearGradient>
<linearGradient id="gb1" gradientUnits="userSpaceOnUse" x1="877.99" y1="406.54" x2="1374.68" y2="202.14"><stop offset="0" stop-color="#0000b2"/><stop offset="0.12" stop-color="#0000b4"/><stop offset="0.25" stop-color="#0000bd"/><stop offset="0.38" stop-color="#001fff"/><stop offset="0.5" stop-color="#0080ff"/><stop offset="0.62" stop-color="#009eff"/><stop offset="0.75" stop-color="#00bdff"/><stop offset="0.88" stop-color="#0afff5"/><stop offset="1" stop-color="#1affe5"/></linearGradient>
<linearGradient id="gb2" gradientUnits="userSpaceOnUse" x1="878.65" y1="407.26" x2="1375.42" y2="202.81"><stop offset="0" stop-color="#0000b2"/><stop offset="0.12" stop-color="#0000b4"/><stop offset="0.25" stop-color="#0000bd"/><stop offset="0.38" stop-color="#001fff"/><stop offset="0.5" stop-color="#0080ff"/><stop offset="0.62" stop-color="#009eff"/><stop offset="0.75" stop-color="#00bdff"/><stop offset="0.88" stop-color="#0afff5"/><stop offset="1" stop-color="#1affe5"/></linearGradient>
<linearGradient id="gb3" gradientUnits="userSpaceOnUse" x1="879.32" y1="407.98" x2="1376.16" y2="203.47"><stop offset="0" stop-color="#0000b2"/><stop offset="0.12" stop-color="#0000b4"/><stop offset="0.25" stop-color="#0000bd"/><stop offset="0.38" stop-color="#001fff"/><stop offset="0.5" stop-color="#0080ff"/><stop offset="0.62" stop-color="#009eff"/><stop offset="0.75" stop-color="#00bdff"/><stop offset="0.88" stop-color="#11ffee"/><stop offset="1" stop-color="#21ffde"/></linearGradient>
<linearGradient id="gb4" gradientUnits="userSpaceOnUse" x1="879.98" y1="408.71" x2="1376.89" y2="204.14"><stop offset="0" stop-color="#0000b2"/><stop offset="0.12" stop-color="#0000b4"/><stop offset="0.25" stop-color="#0000bd"/><stop offset="0.38" stop-color="#001fff"/><stop offset="0.5" stop-color="#0080ff"/><stop offset="0.62" stop-color="#009eff"/><stop offset="0.75" stop-color="#00bdff"/><stop offset="0.88" stop-color="#22ffdd"/><stop offset="1" stop-color="#36ffc9"/></linearGradient>
<linearGradient id="gb5" gradientUnits="userSpaceOnUse" x1="880.65" y1="409.43" x2="1377.63" y2="204.81"><stop offset="0" stop-color="#0000b2"/><stop offset="0.12" stop-color="#0000b4"/><stop offset="0.25" stop-color="#0000bd"/><stop offset="0.38" stop-color="#001fff"/><stop offset="0.5" stop-color="#0080ff"/><stop offset="0.62" stop-color="#009fff"/><stop offset="0.75" stop-color="#00beff"/><stop offset="0.88" stop-color="#36ffc9"/><stop offset="1" stop-color="#4effb1"/></linearGradient>
<linearGradient id="gb6" gradientUnits="userSpaceOnUse" x1="881.31" y1="410.15" x2="1378.37" y2="205.47"><stop offset="0" stop-color="#0000c2"/><stop offset="0.12" stop-color="#0000c4"/><stop offset="0.25" stop-color="#0000ce"/><stop offset="0.38" stop-color="#0035ff"/><stop offset="0.5" stop-color="#009aff"/><stop offset="0.62" stop-color="#00bdff"/><stop offset="0.75" stop-color="#00e1ff"/><stop offset="0.88" stop-color="#52ffad"/><stop offset="1" stop-color="#68ff97"/></linearGradient>
<linearGradient id="gb7" gradientUnits="userSpaceOnUse" x1="881.98" y1="410.87" x2="1379.11" y2="206.14"><stop offset="0" stop-color="#0000ec"/><stop offset="0.12" stop-color="#0000ef"/><stop offset="0.25" stop-color="#0000fe"/><stop offset="0.38" stop-color="#0071ff"/><stop offset="0.5" stop-color="#00e3ff"/><stop offset="0.62" stop-color="#00f5ff"/><stop offset="0.75" stop-color="#09fff6"/><stop offset="0.88" stop-color="#72ff8d"/><stop offset="1" stop-color="#87ff78"/></linearGradient>
<linearGradient id="gb8" gradientUnits="userSpaceOnUse" x1="882.64" y1="411.59" x2="1379.84" y2="206.81"><stop offset="0" stop-color="#001aff"/><stop offset="0.12" stop-color="#001fff"/><stop offset="0.25" stop-color="#0036ff"/><stop offset="0.38" stop-color="#00adff"/><stop offset="0.5" stop-color="#26ffd9"/><stop offset="0.62" stop-color="#30ffcf"/><stop offset="0.75" stop-color="#3bffc4"/><stop offset="0.88" stop-color="#9bff64"/><stop offset="1" stop-color="#aeff51"/></linearGradient>
<linearGradient id="gb9" gradientUnits="userSpaceOnUse" x1="883.31" y1="412.31" x2="1380.58" y2="207.47"><stop offset="0" stop-color="#005fff"/><stop offset="0.12" stop-color="#0066ff"/><stop offset="0.25" stop-color="#0088ff"/><stop offset="0.38" stop-color="#00f6ff"/><stop offset="0.5" stop-color="#65ff9a"/><stop offset="0.62" stop-color="#6bff94"/><stop offset="0.75" stop-color="#71ff8e"/><stop offset="0.88" stop-color="#c7ff38"/><stop offset="1" stop-color="#d8ff27"/></linearGradient>
<linearGradient id="gb10" gradientUnits="userSpaceOnUse" x1="883.97" y1="413.04" x2="1381.32" y2="208.14"><stop offset="0" stop-color="#00b7ff"/><stop offset="0.12" stop-color="#00beff"/><stop offset="0.25" stop-color="#00e1ff"/><stop offset="0.38" stop-color="#41ffbe"/><stop offset="0.5" stop-color="#a0ff5f"/><stop offset="0.62" stop-color="#a5ff5a"/><stop offset="0.75" stop-color="#a9ff56"/><stop offset="0.88" stop-color="#f9ff06"/><stop offset="1" stop-color="#fff500"/></linearGradient>
<linearGradient id="gb11" gradientUnits="userSpaceOnUse" x1="884.64" y1="413.76" x2="1382.05" y2="208.81"><stop offset="0" stop-color="#10ffef"/><stop offset="0.12" stop-color="#16ffe9"/><stop offset="0.25" stop-color="#34ffcb"/><stop offset="0.38" stop-color="#87ff78"/><stop offset="0.5" stop-color="#d9ff26"/><stop offset="0.62" stop-color="#dfff20"/><stop offset="0.75" stop-color="#e5ff1a"/><stop offset="0.88" stop-color="#ffb700"/><stop offset="1" stop-color="#ffa300"/></linearGradient>
<linearGradient id="gb12" gradientUnits="userSpaceOnUse" x1="885.3" y1="414.48" x2="1382.79" y2="209.48"><stop offset="0" stop-color="#5cffa3"/><stop offset="0.12" stop-color="#62ff9d"/><stop offset="0.25" stop-color="#83ff7c"/><stop offset="0.38" stop-color="#c9ff36"/><stop offset="0.5" stop-color="#ffef00"/><stop offset="0.62" stop-color="#ffe100"/><stop offset="0.75" stop-color="#ffd200"/><stop offset="0.88" stop-color="#ff6000"/><stop offset="1" stop-color="#ff4900"/></linearGradient>
<linearGradient id="gb13" gradientUnits="userSpaceOnUse" x1="885.97" y1="415.2" x2="1383.53" y2="210.14"><stop offset="0" stop-color="#adff52"/><stop offset="0.12" stop-color="#afff50"/><stop offset="0.25" stop-color="#b7ff48"/><stop offset="0.38" stop-color="#f9ff06"/><stop offset="0.5" stop-color="#ffc300"/><stop offset="0.62" stop-color="#ffa200"/><stop offset="0.75" stop-color="#ff8100"/><stop offset="0.88" stop-color="#ff0100"/><stop offset="1" stop-color="#e60000"/></linearGradient>
<linearGradient id="gb14" gradientUnits="userSpaceOnUse" x1="886.63" y1="415.92" x2="1384.26" y2="210.81"><stop offset="0" stop-color="#ff7500"/><stop offset="0.12" stop-color="#ff7000"/><stop offset="0.25" stop-color="#ff5700"/><stop offset="0.38" stop-color="#ff5900"/><stop offset="0.5" stop-color="#ff5b00"/><stop offset="0.62" stop-color="#ff3700"/><stop offset="0.75" stop-color="#ff1200"/><stop offset="0.88" stop-color="#d70000"/><stop offset="1" stop-color="#cc0000"/></linearGradient>
<linearGradient id="gb15" gradientUnits="userSpaceOnUse" x1="887.3" y1="416.64" x2="1385" y2="211.48"><stop offset="0" stop-color="#ff7500"/><stop offset="0.12" stop-color="#ff7000"/><stop offset="0.25" stop-color="#ff5700"/><stop offset="0.38" stop-color="#ff3800"/><stop offset="0.5" stop-color="#ff1a00"/><stop offset="0.62" stop-color="#ff0000"/><stop offset="0.75" stop-color="#e50000"/><stop offset="0.88" stop-color="#d00000"/><stop offset="1" stop-color="#cc0000"/></linearGradient>
<linearGradient id="gb16" gradientUnits="userSpaceOnUse" x1="887.96" y1="417.37" x2="1385.74" y2="212.14"><stop offset="0" stop-color="#ff7500"/><stop offset="0.12" stop-color="#ff7000"/><stop offset="0.25" stop-color="#ff5700"/><stop offset="0.38" stop-color="#ff3800"/><stop offset="0.5" stop-color="#ff1a00"/><stop offset="0.62" stop-color="#ff0000"/><stop offset="0.75" stop-color="#e50000"/><stop offset="0.88" stop-color="#d00000"/><stop offset="1" stop-color="#cc0000"/></linearGradient>
<linearGradient id="gb17" gradientUnits="userSpaceOnUse" x1="888.63" y1="418.09" x2="1386.48" y2="212.81"><stop offset="0" stop-color="#ff7500"/><stop offset="0.12" stop-color="#ff7000"/><stop offset="0.25" stop-color="#ff5700"/><stop offset="0.38" stop-color="#ff3800"/><stop offset="0.5" stop-color="#ff1a00"/><stop offset="0.62" stop-color="#ff0000"/><stop offset="0.75" stop-color="#e50000"/><stop offset="0.88" stop-color="#d00000"/><stop offset="1" stop-color="#cc0000"/></linearGradient>
<linearGradient id="gb18" gradientUnits="userSpaceOnUse" x1="889.29" y1="418.81" x2="1387.21" y2="213.48"><stop offset="0" stop-color="#ff7500"/><stop offset="0.12" stop-color="#ff7000"/><stop offset="0.25" stop-color="#ff5700"/><stop offset="0.38" stop-color="#ff3800"/><stop offset="0.5" stop-color="#ff1a00"/><stop offset="0.62" stop-color="#ff0000"/><stop offset="0.75" stop-color="#e50000"/><stop offset="0.88" stop-color="#d00000"/><stop offset="1" stop-color="#cc0000"/></linearGradient>
<linearGradient id="gb19" gradientUnits="userSpaceOnUse" x1="889.96" y1="419.53" x2="1387.95" y2="214.14"><stop offset="0" stop-color="#ff7500"/><stop offset="0.12" stop-color="#ff7000"/><stop offset="0.25" stop-color="#ff5700"/><stop offset="0.38" stop-color="#ff3800"/><stop offset="0.5" stop-color="#ff1a00"/><stop offset="0.62" stop-color="#ff0000"/><stop offset="0.75" stop-color="#e50000"/><stop offset="0.88" stop-color="#d00000"/><stop offset="1" stop-color="#cc0000"/></linearGradient>
<linearGradient id="gb20" gradientUnits="userSpaceOnUse" x1="890.62" y1="420.25" x2="1388.69" y2="214.81"><stop offset="0" stop-color="#ff7500"/><stop offset="0.12" stop-color="#ff7000"/><stop offset="0.25" stop-color="#ff5700"/><stop offset="0.38" stop-color="#ff3800"/><stop offset="0.5" stop-color="#ff1a00"/><stop offset="0.62" stop-color="#ff0000"/><stop offset="0.75" stop-color="#e50000"/><stop offset="0.88" stop-color="#d00000"/><stop offset="1" stop-color="#cc0000"/></linearGradient>
<linearGradient id="gb21" gradientUnits="userSpaceOnUse" x1="891.29" y1="420.97" x2="1389.42" y2="215.48"><stop offset="0" stop-color="#ff7500"/><stop offset="0.12" stop-color="#ff7000"/><stop offset="0.25" stop-color="#ff5700"/><stop offset="0.38" stop-color="#ff3800"/><stop offset="0.5" stop-color="#ff1a00"/><stop offset="0.62" stop-color="#ff0000"/><stop offset="0.75" stop-color="#e50000"/><stop offset="0.88" stop-color="#d00000"/><stop offset="1" stop-color="#cc0000"/></linearGradient>
<linearGradient id="gb22" gradientUnits="userSpaceOnUse" x1="891.95" y1="421.7" x2="1390.16" y2="216.14"><stop offset="0" stop-color="#ff7500"/><stop offset="0.12" stop-color="#ff7000"/><stop offset="0.25" stop-color="#ff5700"/><stop offset="0.38" stop-color="#ff3800"/><stop offset="0.5" stop-color="#ff1a00"/><stop offset="0.62" stop-color="#ff0000"/><stop offset="0.75" stop-color="#e50000"/><stop offset="0.88" stop-color="#d40000"/><stop offset="1" stop-color="#d00000"/></linearGradient>
<linearGradient id="gb23" gradientUnits="userSpaceOnUse" x1="892.62" y1="422.42" x2="1390.9" y2="216.81"><stop offset="0" stop-color="#ff7500"/><stop offset="0.12" stop-color="#ff7100"/><stop offset="0.25" stop-color="#ff5a00"/><stop offset="0.38" stop-color="#ff3b00"/><stop offset="0.5" stop-color="#ff1c00"/><stop offset="0.62" stop-color="#ff0400"/><stop offset="0.75" stop-color="#ea0000"/><stop offset="0.88" stop-color="#d90000"/><stop offset="1" stop-color="#d60000"/></linearGradient>
<linearGradient id="gb24" gradientUnits="userSpaceOnUse" x1="893.28" y1="423.14" x2="1391.63" y2="217.48"><stop offset="0" stop-color="#ff7a00"/><stop offset="0.12" stop-color="#ff7600"/><stop offset="0.25" stop-color="#ff6300"/><stop offset="0.38" stop-color="#ff4200"/><stop offset="0.5" stop-color="#ff2200"/><stop offset="0.62" stop-color="#ff0c00"/><stop offset="0.75" stop-color="#f50000"/><stop offset="0.88" stop-color="#e00000"/><stop offset="1" stop-color="#dc0000"/></linearGradient>
<linearGradient id="gb25" gradientUnits="userSpaceOnUse" x1="893.95" y1="423.86" x2="1392.37" y2="218.14"><stop offset="0" stop-color="#ff7f00"/><stop offset="0.12" stop-color="#ff7c00"/><stop offset="0.25" stop-color="#ff6b00"/><stop offset="0.38" stop-color="#ff4900"/><stop offset="0.5" stop-color="#ff2800"/><stop offset="0.62" stop-color="#ff1400"/><stop offset="0.75" stop-color="#ff0100"/><stop offset="0.88" stop-color="#e70000"/><stop offset="1" stop-color="#e20000"/></linearGradient>
<linearGradient id="gb26" gradientUnits="userSpaceOnUse" x1="894.61" y1="424.58" x2="1393.11" y2="218.81"><stop offset="0" stop-color="#ff8500"/><stop offset="0.12" stop-color="#ff8200"/><stop offset="0.25" stop-color="#ff7300"/><stop offset="0.38" stop-color="#ff5000"/><stop offset="0.5" stop-color="#ff2e00"/><stop offset="0.62" stop-color="#ff1d00"/><stop offset="0.75" stop-color="#ff0c00"/><stop offset="0.88" stop-color="#ec0000"/><stop offset="1" stop-color="#e50000"/></linearGradient>
<linearGradient id="gb27" gradientUnits="userSpaceOnUse" x1="895.27" y1="425.3" x2="1393.85" y2="219.48"><stop offset="0" stop-color="#ff8a00"/><stop offset="0.12" stop-color="#ff8600"/><stop offset="0.25" stop-color="#ff7500"/><stop offset="0.38" stop-color="#ff5400"/><stop offset="0.5" stop-color="#ff3300"/><stop offset="0.62" stop-color="#ff2100"/><stop offset="0.75" stop-color="#ff0f00"/><stop offset="0.88" stop-color="#ec0000"/><stop offset="1" stop-color="#e50000"/></linearGradient>
<linearGradient id="gb28" gradientUnits="userSpaceOnUse" x1="895.94" y1="426.03" x2="1394.58" y2="220.14"><stop offset="0" stop-color="#ff8a00"/><stop offset="0.12" stop-color="#ff8600"/><stop offset="0.25" stop-color="#ff7500"/><stop offset="0.38" stop-color="#ff5400"/><stop offset="0.5" stop-color="#ff3300"/><stop offset="0.62" stop-color="#ff2100"/><stop offset="0.75" stop-color="#ff0f00"/><stop offset="0.88" stop-color="#ec0000"/><stop offset="1" stop-color="#e50000"/></linearGradient>
<linearGradient id="gb29" gradientUnits="userSpaceOnUse" x1="896.6" y1="426.75" x2="1395.32" y2="220.81"><stop offset="0" stop-color="#ff8a00"/><stop offset="0.12" stop-color="#ff8600"/><stop offset="0.25" stop-color="#ff7500"/><stop offset="0.38" stop-color="#ff5400"/><stop offset="0.5" stop-color="#ff3300"/><stop offset="0.62" stop-color="#ff2100"/><stop offset="0.75" stop-color="#ff0f00"/><stop offset="0.88" stop-color="#ec0000"/><stop offset="1" stop-color="#e50000"/></linearGradient>
<linearGradient id="gb30" gradientUnits="userSpaceOnUse" x1="897.27" y1="427.47" x2="1396.06" y2="221.48"><stop offset="0" stop-color="#ff8a00"/><stop offset="0.12" stop-color="#ff8600"/><stop offset="0.25" stop-color="#ff7500"/><stop offset="0.38" stop-color="#ff5400"/><stop offset="0.5" stop-color="#ff3300"/><stop offset="0.62" stop-color="#ff2100"/><stop offset="0.75" stop-color="#ff0f00"/><stop offset="0.88" stop-color="#ec0000"/><stop offset="1" stop-color="#e50000"/></linearGradient>
<linearGradient id="gb31" gradientUnits="userSpaceOnUse" x1="897.93" y1="428.19" x2="1396.79" y2="222.14"><stop offset="0" stop-color="#ff8a00"/><stop offset="0.12" stop-color="#ff8600"/><stop offset="0.25" stop-color="#ff7500"/><stop offset="0.38" stop-color="#ff5400"/><stop offset="0.5" stop-color="#ff3300"/><stop offset="0.62" stop-color="#ff2100"/><stop offset="0.75" stop-color="#ff0f00"/><stop offset="0.88" stop-color="#ec0000"/><stop offset="1" stop-color="#e50000"/></linearGradient>
<linearGradient id="gb32" gradientUnits="userSpaceOnUse" x1="898.6" y1="428.91" x2="1397.53" y2="222.81"><stop offset="0" stop-color="#ff8a00"/><stop offset="0.12" stop-color="#ff8600"/><stop offset="0.25" stop-color="#ff7500"/><stop offset="0.38" stop-color="#ff5400"/><stop offset="0.5" stop-color="#ff3300"/><stop offset="0.62" stop-color="#ff2100"/><stop offset="0.75" stop-color="#ff0f00"/><stop offset="0.88" stop-color="#ec0000"/><stop offset="1" stop-color="#e50000"/></linearGradient>
<linearGradient id="gb33" gradientUnits="userSpaceOnUse" x1="899.26" y1="429.63" x2="1398.27" y2="223.48"><stop offset="0" stop-color="#ff8a00"/><stop offset="0.12" stop-color="#ff8600"/><stop offset="0.25" stop-color="#ff7500"/><stop offset="0.38" stop-color="#ff5400"/><stop offset="0.5" stop-color="#ff3300"/><stop offset="0.62" stop-color="#ff2100"/><stop offset="0.75" stop-color="#ff0f00"/><stop offset="0.88" stop-color="#ec0000"/><stop offset="1" stop-color="#e50000"/></linearGradient>
<linearGradient id="gb34" gradientUnits="userSpaceOnUse" x1="899.93" y1="430.36" x2="1399" y2="224.14"><stop offset="0" stop-color="#ff8a00"/><stop offset="0.12" stop-color="#ff8600"/><stop offset="0.25" stop-color="#ff7500"/><stop offset="0.38" stop-color="#ff5400"/><stop offset="0.5" stop-color="#ff3300"/><stop offset="0.62" stop-color="#ff2100"/><stop offset="0.75" stop-color="#ff0f00"/><stop offset="0.88" stop-color="#ec0000"/><stop offset="1" stop-color="#e50000"/></linearGradient>
<linearGradient id="gb35" gradientUnits="userSpaceOnUse" x1="900.59" y1="431.08" x2="1399.74" y2="224.81"><stop offset="0" stop-color="#ff8a00"/><stop offset="0.12" stop-color="#ff8600"/><stop offset="0.25" stop-color="#ff7500"/><stop offset="0.38" stop-color="#ff5400"/><stop offset="0.5" stop-color="#ff3300"/><stop offset="0.62" stop-color="#ff2100"/><stop offset="0.75" stop-color="#ff0f00"/><stop offset="0.88" stop-color="#ec0000"/><stop offset="1" stop-color="#e50000"/></linearGradient>
<linearGradient id="gb36" gradientUnits="userSpaceOnUse" x1="901.26" y1="431.8" x2="1400.48" y2="225.48"><stop offset="0" stop-color="#ff8a00"/><stop offset="0.12" stop-color="#ff8600"/><stop offset="0.25" stop-color="#ff7500"/><stop offset="0.38" stop-color="#ff5400"/><stop offset="0.5" stop-color="#ff3300"/><stop offset="0.62" stop-color="#ff2100"/><stop offset="0.75" stop-color="#ff0f00"/><stop offset="0.88" stop-color="#ec0000"/><stop offset="1" stop-color="#e50000"/></linearGradient>
<linearGradient id="gb37" gradientUnits="userSpaceOnUse" x1="901.92" y1="432.52" x2="1401.22" y2="226.14"><stop offset="0" stop-color="#ff8a00"/><stop offset="0.12" stop-color="#ff8600"/><stop offset="0.25" stop-color="#ff7500"/><stop offset="0.38" stop-color="#ff5400"/><stop offset="0.5" stop-color="#ff3300"/><stop offset="0.62" stop-color="#ff2100"/><stop offset="0.75" stop-color="#ff0f00"/><stop offset="0.88" stop-color="#ec0000"/><stop offset="1" stop-color="#e50000"/></linearGradient>
<linearGradient id="gb38" gradientUnits="userSpaceOnUse" x1="902.59" y1="433.24" x2="1401.95" y2="226.81"><stop offset="0" stop-color="#ff8a00"/><stop offset="0.12" stop-color="#ff8600"/><stop offset="0.25" stop-color="#ff7500"/><stop offset="0.38" stop-color="#ff5400"/><stop offset="0.5" stop-color="#ff3300"/><stop offset="0.62" stop-color="#ff2100"/><stop offset="0.75" stop-color="#ff0f00"/><stop offset="0.88" stop-color="#ec0000"/><stop offset="1" stop-color="#e50000"/></linearGradient>
<linearGradient id="gb39" gradientUnits="userSpaceOnUse" x1="903.25" y1="433.96" x2="1402.69" y2="227.48"><stop offset="0" stop-color="#ff8a00"/><stop offset="0.12" stop-color="#ff8600"/><stop offset="0.25" stop-color="#ff7500"/><stop offset="0.38" stop-color="#ff5400"/><stop offset="0.5" stop-color="#ff3300"/><stop offset="0.62" stop-color="#ff2100"/><stop offset="0.75" stop-color="#ff0f00"/><stop offset="0.88" stop-color="#ec0000"/><stop offset="1" stop-color="#e50000"/></linearGradient>
<linearGradient id="gb40" gradientUnits="userSpaceOnUse" x1="903.92" y1="434.69" x2="1403.43" y2="228.15"><stop offset="0" stop-color="#ff8a00"/><stop offset="0.12" stop-color="#ff8600"/><stop offset="0.25" stop-color="#ff7500"/><stop offset="0.38" stop-color="#ff5400"/><stop offset="0.5" stop-color="#ff3300"/><stop offset="0.62" stop-color="#ff2100"/><stop offset="0.75" stop-color="#ff0f00"/><stop offset="0.88" stop-color="#e60000"/><stop offset="1" stop-color="#de0000"/></linearGradient>
<linearGradient id="gb41" gradientUnits="userSpaceOnUse" x1="904.58" y1="435.41" x2="1404.16" y2="228.81"><stop offset="0" stop-color="#ff8a00"/><stop offset="0.12" stop-color="#ff8600"/><stop offset="0.25" stop-color="#ff7500"/><stop offset="0.38" stop-color="#ff5400"/><stop offset="0.5" stop-color="#ff3300"/><stop offset="0.62" stop-color="#ff2100"/><stop offset="0.75" stop-color="#ff0f00"/><stop offset="0.88" stop-color="#dc0000"/><stop offset="1" stop-color="#d20000"/></linearGradient>
<linearGradient id="gb42" gradientUnits="userSpaceOnUse" x1="905.25" y1="436.13" x2="1404.9" y2="229.48"><stop offset="0" stop-color="#ff8a00"/><stop offset="0.12" stop-color="#ff8600"/><stop offset="0.25" stop-color="#ff7500"/><stop offset="0.38" stop-color="#ff5400"/><stop offset="0.5" stop-color="#ff3300"/><stop offset="0.62" stop-color="#ff2100"/><stop offset="0.75" stop-color="#ff0f00"/><stop offset="0.88" stop-color="#d90000"/><stop offset="1" stop-color="#ce0000"/></linearGradient>
<linearGradient id="gb43" gradientUnits="userSpaceOnUse" x1="905.91" y1="436.85" x2="1405.64" y2="230.15"><stop offset="0" stop-color="#ff8a00"/><stop offset="0.12" stop-color="#ff8600"/><stop offset="0.25" stop-color="#ff7500"/><stop offset="0.38" stop-color="#ff5400"/><stop offset="0.5" stop-color="#ff3300"/><stop offset="0.62" stop-color="#ff2100"/><stop offset="0.75" stop-color="#ff0f00"/><stop offset="0.88" stop-color="#ff0b00"/><stop offset="1" stop-color="#ff0a00"/></linearGradient>
<linearGradient id="gb44" gradientUnits="userSpaceOnUse" x1="906.58" y1="437.57" x2="1406.37" y2="230.81"><stop offset="0" stop-color="#ff8a00"/><stop offset="0.12" stop-color="#ff8600"/><stop offset="0.25" stop-color="#ff7500"/><stop offset="0.38" stop-color="#ff5400"/><stop offset="0.5" stop-color="#ff3300"/><stop offset="0.62" stop-color="#ff2100"/><stop offset="0.75" stop-color="#ff0f00"/><stop offset="0.88" stop-color="#ff3c00"/><stop offset="1" stop-color="#ff4500"/></linearGradient>
<linearGradient id="gb45" gradientUnits="userSpaceOnUse" x1="907.24" y1="438.29" x2="1407.11" y2="231.48"><stop offset="0" stop-color="#ff8a00"/><stop offset="0.12" stop-color="#ff8a00"/><stop offset="0.25" stop-color="#ff8e00"/><stop offset="0.38" stop-color="#ff6800"/><stop offset="0.5" stop-color="#ff4100"/><stop offset="0.62" stop-color="#ff2800"/><stop offset="0.75" stop-color="#ff0f00"/><stop offset="0.88" stop-color="#ff5f00"/><stop offset="1" stop-color="#ff6f00"/></linearGradient>
<linearGradient id="gb46" gradientUnits="userSpaceOnUse" x1="907.91" y1="439.01" x2="1407.85" y2="232.15"><stop offset="0" stop-color="#ff8a00"/><stop offset="0.12" stop-color="#ff8d00"/><stop offset="0.25" stop-color="#ff9900"/><stop offset="0.38" stop-color="#ff7300"/><stop offset="0.5" stop-color="#ff4d00"/><stop offset="0.62" stop-color="#ff2e00"/><stop offset="0.75" stop-color="#ff0f00"/><stop offset="0.88" stop-color="#ff6d00"/><stop offset="1" stop-color="#ff8000"/></linearGradient>
<linearGradient id="gb47" gradientUnits="userSpaceOnUse" x1="908.57" y1="439.74" x2="1408.59" y2="232.81"><stop offset="0" stop-color="#ffa600"/><stop offset="0.12" stop-color="#ffa700"/><stop offset="0.25" stop-color="#ffab00"/><stop offset="0.38" stop-color="#ff8400"/><stop offset="0.5" stop-color="#ff5e00"/><stop offset="0.62" stop-color="#ff3200"/><stop offset="0.75" stop-color="#ff0600"/><stop offset="0.88" stop-color="#ff7700"/><stop offset="1" stop-color="#ff8e00"/></linearGradient>
<linearGradient id="gb48" gradientUnits="userSpaceOnUse" x1="909.24" y1="440.46" x2="1409.32" y2="233.48"><stop offset="0" stop-color="#ffc800"/><stop offset="0.12" stop-color="#ffc600"/><stop offset="0.25" stop-color="#ffbe00"/><stop offset="0.38" stop-color="#ff9900"/><stop offset="0.5" stop-color="#ff7400"/><stop offset="0.62" stop-color="#ff3800"/><stop offset="0.75" stop-color="#fb0000"/><stop offset="0.88" stop-color="#ff8500"/><stop offset="1" stop-color="#ffa000"/></linearGradient>
<linearGradient id="gb49" gradientUnits="userSpaceOnUse" x1="909.9" y1="441.18" x2="1410.06" y2="234.15"><stop offset="0" stop-color="#ffde00"/><stop offset="0.12" stop-color="#ffdc00"/><stop offset="0.25" stop-color="#ffd300"/><stop offset="0.38" stop-color="#ffb000"/><stop offset="0.5" stop-color="#ff8d00"/><stop offset="0.62" stop-color="#ff5300"/><stop offset="0.75" stop-color="#ff1900"/><stop offset="0.88" stop-color="#ff9b00"/><stop offset="1" stop-color="#ffb500"/></linearGradient>
<linearGradient id="gb50" gradientUnits="userSpaceOnUse" x1="910.57" y1="441.9" x2="1410.8" y2="234.81"><stop offset="0" stop-color="#fff700"/><stop offset="0.12" stop-color="#fff500"/><stop offset="0.25" stop-color="#ffea00"/><stop offset="0.38" stop-color="#ffca00"/><stop offset="0.5" stop-color="#ffa900"/><stop offset="0.62" stop-color="#ff7100"/><stop offset="0.75" stop-color="#ff3a00"/><stop offset="0.88" stop-color="#ffb400"/><stop offset="1" stop-color="#ffcd00"/></linearGradient>
<linearGradient id="gb51" gradientUnits="userSpaceOnUse" x1="911.23" y1="442.62" x2="1411.53" y2="235.48"><stop offset="0" stop-color="#c9ff36"/><stop offset="0.12" stop-color="#d0ff2f"/><stop offset="0.25" stop-color="#f4ff0b"/><stop offset="0.38" stop-color="#ffe900"/><stop offset="0.5" stop-color="#ffc800"/><stop offset="0.62" stop-color="#ff9300"/><stop offset="0.75" stop-color="#ff5e00"/><stop offset="0.88" stop-color="#ffd000"/><stop offset="1" stop-color="#ffe700"/></linearGradient>
<linearGradient id="gb52" gradientUnits="userSpaceOnUse" x1="911.9" y1="443.34" x2="1412.27" y2="236.15"><stop offset="0" stop-color="#7aff85"/><stop offset="0.12" stop-color="#85ff7a"/><stop offset="0.25" stop-color="#bcff43"/><stop offset="0.38" stop-color="#e8ff17"/><stop offset="0.5" stop-color="#ffea00"/><stop offset="0.62" stop-color="#ffb700"/><stop offset="0.75" stop-color="#ff8500"/><stop offset="0.88" stop-color="#ffef00"/><stop offset="1" stop-color="#faff05"/></linearGradient>
<linearGradient id="gb53" gradientUnits="userSpaceOnUse" x1="912.56" y1="444.07" x2="1413.01" y2="236.81"><stop offset="0" stop-color="#4dffb2"/><stop offset="0.12" stop-color="#56ffa9"/><stop offset="0.25" stop-color="#80ff7f"/><stop offset="0.38" stop-color="#b3ff4c"/><stop offset="0.5" stop-color="#e6ff19"/><stop offset="0.62" stop-color="#ffe500"/><stop offset="0.75" stop-color="#ffb200"/><stop offset="0.88" stop-color="#e5ff1a"/><stop offset="1" stop-color="#d0ff2f"/></linearGradient>
<linearGradient id="gb54" gradientUnits="userSpaceOnUse" x1="913.23" y1="444.79" x2="1413.74" y2="237.48"><stop offset="0" stop-color="#1dffe2"/><stop offset="0.12" stop-color="#23ffdc"/><stop offset="0.25" stop-color="#40ffbf"/><stop offset="0.38" stop-color="#73ff8c"/><stop offset="0.5" stop-color="#a6ff59"/><stop offset="0.62" stop-color="#e1ff1e"/><stop offset="0.75" stop-color="#ffe200"/><stop offset="0.88" stop-color="#b7ff48"/><stop offset="1" stop-color="#a3ff5c"/></linearGradient>
<linearGradient id="gb55" gradientUnits="userSpaceOnUse" x1="913.89" y1="445.51" x2="1414.48" y2="238.15"><stop offset="0" stop-color="#00e3ff"/><stop offset="0.12" stop-color="#00e7ff"/><stop offset="0.25" stop-color="#00fdff"/><stop offset="0.38" stop-color="#31ffce"/><stop offset="0.5" stop-color="#63ff9c"/><stop offset="0.62" stop-color="#a5ff5a"/><stop offset="0.75" stop-color="#e7ff18"/><stop offset="0.88" stop-color="#87ff78"/><stop offset="1" stop-color="#74ff8b"/></linearGradient>
<linearGradient id="gb56" gradientUnits="userSpaceOnUse" x1="914.55" y1="446.23" x2="1415.22" y2="238.81"><stop offset="0" stop-color="#009eff"/><stop offset="0.12" stop-color="#00a4ff"/><stop offset="0.25" stop-color="#00c7ff"/><stop offset="0.38" stop-color="#00f1ff"/><stop offset="0.5" stop-color="#1dffe2"/><stop offset="0.62" stop-color="#63ff9c"/><stop offset="0.75" stop-color="#aaff55"/><stop offset="0.88" stop-color="#59ffa6"/><stop offset="1" stop-color="#49ffb6"/></linearGradient>
<linearGradient id="gb57" gradientUnits="userSpaceOnUse" x1="915.22" y1="446.95" x2="1415.96" y2="239.48"><stop offset="0" stop-color="#0055ff"/><stop offset="0.12" stop-color="#005eff"/><stop offset="0.25" stop-color="#008eff"/><stop offset="0.38" stop-color="#00b9ff"/><stop offset="0.5" stop-color="#00e4ff"/><stop offset="0.62" stop-color="#28ffd7"/><stop offset="0.75" stop-color="#6bff94"/><stop offset="0.88" stop-color="#40ffbf"/><stop offset="1" stop-color="#37ffc8"/></linearGradient>
<linearGradient id="gb58" gradientUnits="userSpaceOnUse" x1="915.88" y1="447.67" x2="1416.69" y2="240.15"><stop offset="0" stop-color="#0019ff"/><stop offset="0.12" stop-color="#0022ff"/><stop offset="0.25" stop-color="#0053ff"/><stop offset="0.38" stop-color="#0084ff"/><stop offset="0.5" stop-color="#00b6ff"/><stop offset="0.62" stop-color="#00efff"/><stop offset="0.75" stop-color="#29ffd6"/><stop offset="0.88" stop-color="#26ffd9"/><stop offset="1" stop-color="#25ffda"/></linearGradient>
<linearGradient id="gb59" gradientUnits="userSpaceOnUse" x1="916.55" y1="448.4" x2="1417.43" y2="240.81"><stop offset="0" stop-color="#0000ea"/><stop offset="0.12" stop-color="#0000f1"/><stop offset="0.25" stop-color="#001aff"/><stop offset="0.38" stop-color="#0050ff"/><stop offset="0.5" stop-color="#0086ff"/><stop offset="0.62" stop-color="#00bdff"/><stop offset="0.75" stop-color="#00f3ff"/><stop offset="0.88" stop-color="#13ffec"/><stop offset="1" stop-color="#1affe5"/></linearGradient>
<linearGradient id="gb60" gradientUnits="userSpaceOnUse" x1="917.21" y1="449.12" x2="1418.17" y2="241.48"><stop offset="0" stop-color="#0000ba"/><stop offset="0.12" stop-color="#0000c1"/><stop offset="0.25" stop-color="#0000e5"/><stop offset="0.38" stop-color="#001dff"/><stop offset="0.5" stop-color="#0054ff"/><stop offset="0.62" stop-color="#0095ff"/><stop offset="0.75" stop-color="#00d6ff"/><stop offset="0.88" stop-color="#0efff1"/><stop offset="1" stop-color="#1affe5"/></linearGradient>
<linearGradient id="gb61" gradientUnits="userSpaceOnUse" x1="917.88" y1="449.84" x2="1418.9" y2="242.15"><stop offset="0" stop-color="#0000b2"/><stop offset="0.12" stop-color="#0000b2"/><stop offset="0.25" stop-color="#0000b0"/><stop offset="0.38" stop-color="#0000e9"/><stop offset="0.5" stop-color="#0023ff"/><stop offset="0.62" stop-color="#006dff"/><stop offset="0.75" stop-color="#00b7ff"/><stop offset="0.88" stop-color="#09fff6"/><stop offset="1" stop-color="#1affe5"/></linearGradient>
<linearGradient id="gb62" gradientUnits="userSpaceOnUse" x1="918.54" y1="450.56" x2="1419.64" y2="242.81"><stop offset="0" stop-color="#0000b2"/><stop offset="0.12" stop-color="#0000b1"/><stop offset="0.25" stop-color="#0000a8"/><stop offset="0.38" stop-color="#0000cc"/><stop offset="0.5" stop-color="#0000ef"/><stop offset="0.62" stop-color="#0051ff"/><stop offset="0.75" stop-color="#00b2ff"/><stop offset="0.88" stop-color="#08fff7"/><stop offset="1" stop-color="#1affe5"/></linearGradient>
<linearGradient id="gb63" gradientUnits="userSpaceOnUse" x1="919.21" y1="451.28" x2="1420.38" y2="243.48"><stop offset="0" stop-color="#0000b2"/><stop offset="0.12" stop-color="#0000b1"/><stop offset="0.25" stop-color="#0000a8"/><stop offset="0.38" stop-color="#0000bd"/><stop offset="0.5" stop-color="#0000d1"/><stop offset="0.62" stop-color="#0042ff"/><stop offset="0.75" stop-color="#00b2ff"/><stop offset="0.88" stop-color="#08fff7"/><stop offset="1" stop-color="#1affe5"/></linearGradient>
<linearGradient id="gc0" gradientUnits="userSpaceOnUse" x1="15.85" y1="1113.54" x2="512.47" y2="908.8"><stop offset="0" stop-color="#0000b2"/><stop offset="0.12" stop-color="#0000c7"/><stop offset="0.25" stop-color="#002eff"/><stop offset="0.38" stop-color="#0057ff"/><stop offset="0.5" stop-color="#0080ff"/><stop offset="0.62" stop-color="#00e5ff"/><stop offset="0.75" stop-color="#4dffb2"/><stop offset="0.88" stop-color="#4dffb2"/><stop offset="1" stop-color="#4dffb2"/></linearGradient>
<linearGradient id="gc1" gradientUnits="userSpaceOnUse" x1="16.52" y1="1114.29" x2="513.21" y2="909.49"><stop offset="0" stop-color="#0000b2"/><stop offset="0.12" stop-color="#0000c7"/><stop offset="0.25" stop-color="#002eff"/><stop offset="0.38" stop-color="#0057ff"/><stop offset="0.5" stop-color="#0080ff"/><stop offset="0.62" stop-color="#00e5ff"/><stop offset="0.75" stop-color="#4dffb2"/><stop offset="0.88" stop-color="#51ffae"/><stop offset="1" stop-color="#52ffad"/></linearGradient>
<linearGradient id="gc2" gradientUnits="userSpaceOnUse" x1="17.18" y1="1115.03" x2="513.95" y2="910.18"><stop offset="0" stop-color="#0000b2"/><stop offset="0.12" stop-color="#0000c7"/><stop offset="0.25" stop-color="#002eff"/><stop offset="0.38" stop-color="#0057ff"/><stop offset="0.5" stop-color="#0080ff"/><stop offset="0.62" stop-color="#00e5ff"/><stop offset="0.75" stop-color="#4dffb2"/><stop offset="0.88" stop-color="#57ffa8"/><stop offset="1" stop-color="#59ffa6"/></linearGradient>
<linearGradient id="gc3" gradientUnits="userSpaceOnUse" x1="17.85" y1="1115.77" x2="514.68" y2="910.87"><stop offset="0" stop-color="#0000b2"/><stop offset="0.12" stop-color="#0000c7"/><stop offset="0.25" stop-color="#002eff"/><stop offset="0.38" stop-color="#0057ff"/><stop offset="0.5" stop-color="#0080ff"/><stop offset="0.62" stop-color="#00e5ff"/><stop offset="0.75" stop-color="#4dffb2"/><stop offset="0.88" stop-color="#5fffa0"/><stop offset="1" stop-color="#62ff9d"/></linearGradient>
<linearGradient id="gc4" gradientUnits="userSpaceOnUse" x1="18.52" y1="1116.52" x2="515.42" y2="911.56"><stop offset="0" stop-color="#0000b2"/><stop offset="0.12" stop-color="#0000c7"/><stop offset="0.25" stop-color="#002eff"/><stop offset="0.38" stop-color="#0057ff"/><stop offset="0.5" stop-color="#0080ff"/><stop offset="0.62" stop-color="#00e5ff"/><stop offset="0.75" stop-color="#4dffb2"/><stop offset="0.88" stop-color="#68ff97"/><stop offset="1" stop-color="#6dff92"/></linearGradient>
<linearGradient id="gc5" gradientUnits="userSpaceOnUse" x1="19.18" y1="1117.26" x2="516.16" y2="912.25"><stop offset="0" stop-color="#0000b9"/><stop offset="0.12" stop-color="#0000d0"/><stop offset="0.25" stop-color="#0044ff"/><stop offset="0.38" stop-color="#008aff"/><stop offset="0.5" stop-color="#00d0ff"/><stop offset="0.62" stop-color="#11ffee"/><stop offset="0.75" stop-color="#51ffae"/><stop offset="0.88" stop-color="#73ff8c"/><stop offset="1" stop-color="#79ff86"/></linearGradient>
<linearGradient id="gc6" gradientUnits="userSpaceOnUse" x1="19.85" y1="1118.01" x2="516.9" y2="912.94"><stop offset="0" stop-color="#0000e0"/><stop offset="0.12" stop-color="#0000f9"/><stop offset="0.25" stop-color="#0074ff"/><stop offset="0.38" stop-color="#00c4ff"/><stop offset="0.5" stop-color="#14ffeb"/><stop offset="0.62" stop-color="#40ffbf"/><stop offset="0.75" stop-color="#6cff93"/><stop offset="0.88" stop-color="#88ff77"/><stop offset="1" stop-color="#8dff72"/></linearGradient>
<linearGradient id="gc7" gradientUnits="userSpaceOnUse" x1="20.51" y1="1118.75" x2="517.63" y2="913.63"><stop offset="0" stop-color="#000dff"/><stop offset="0.12" stop-color="#0027ff"/><stop offset="0.25" stop-color="#00a8ff"/><stop offset="0.38" stop-color="#00f2ff"/><stop offset="0.5" stop-color="#3dffc2"/><stop offset="0.62" stop-color="#66ff99"/><stop offset="0.75" stop-color="#8eff71"/><stop offset="0.88" stop-color="#a5ff5a"/><stop offset="1" stop-color="#aaff55"/></linearGradient>
<linearGradient id="gc8" gradientUnits="userSpaceOnUse" x1="21.18" y1="1119.5" x2="518.37" y2="914.32"><stop offset="0" stop-color="#0045ff"/><stop offset="0.12" stop-color="#005eff"/><stop offset="0.25" stop-color="#00daff"/><stop offset="0.38" stop-color="#23ffdc"/><stop offset="0.5" stop-color="#6aff95"/><stop offset="0.62" stop-color="#92ff6d"/><stop offset="0.75" stop-color="#bbff44"/><stop offset="0.88" stop-color="#c6ff39"/><stop offset="1" stop-color="#c8ff37"/></linearGradient>
<linearGradient id="gc9" gradientUnits="userSpaceOnUse" x1="21.84" y1="1120.24" x2="519.11" y2="915.01"><stop offset="0" stop-color="#009cff"/><stop offset="0.12" stop-color="#00b0ff"/><stop offset="0.25" stop-color="#1affe5"/><stop offset="0.38" stop-color="#5affa5"/><stop offset="0.5" stop-color="#99ff66"/><stop offset="0.62" stop-color="#c2ff3d"/><stop offset="0.75" stop-color="#ebff14"/><stop offset="0.88" stop-color="#e9ff16"/><stop offset="1" stop-color="#e9ff16"/></linearGradient>
<linearGradient id="gc10" gradientUnits="userSpaceOnUse" x1="22.51" y1="1120.99" x2="519.85" y2="915.7"><stop offset="0" stop-color="#00f7ff"/><stop offset="0.12" stop-color="#0dfff2"/><stop offset="0.25" stop-color="#78ff87"/><stop offset="0.38" stop-color="#a2ff5d"/><stop offset="0.5" stop-color="#ccff33"/><stop offset="0.62" stop-color="#f8ff07"/><stop offset="0.75" stop-color="#ffda00"/><stop offset="0.88" stop-color="#ffe300"/><stop offset="1" stop-color="#ffe500"/></linearGradient>
<linearGradient id="gc11" gradientUnits="userSpaceOnUse" x1="23.17" y1="1121.73" x2="520.59" y2="916.39"><stop offset="0" stop-color="#5fffa0"/><stop offset="0.12" stop-color="#6fff90"/><stop offset="0.25" stop-color="#bcff43"/><stop offset="0.38" stop-color="#e0ff1f"/><stop offset="0.5" stop-color="#fff900"/><stop offset="0.62" stop-color="#ffc900"/><stop offset="0.75" stop-color="#ff9800"/><stop offset="0.88" stop-color="#ff9b00"/><stop offset="1" stop-color="#ff9b00"/></linearGradient>
<linearGradient id="gc12" gradientUnits="userSpaceOnUse" x1="23.84" y1="1122.48" x2="521.32" y2="917.08"><stop offset="0" stop-color="#bcff43"/><stop offset="0.12" stop-color="#c8ff37"/><stop offset="0.25" stop-color="#fffe00"/><stop offset="0.38" stop-color="#ffc700"/><stop offset="0.5" stop-color="#ff9100"/><stop offset="0.62" stop-color="#ff6500"/><stop offset="0.75" stop-color="#ff3900"/><stop offset="0.88" stop-color="#ff4100"/><stop offset="1" stop-color="#ff4200"/></linearGradient>
<linearGradient id="gc13" gradientUnits="userSpaceOnUse" x1="24.5" y1="1123.22" x2="522.06" y2="917.77"><stop offset="0" stop-color="#f8ff07"/><stop offset="0.12" stop-color="#fffd00"/><stop offset="0.25" stop-color="#ffcf00"/><stop offset="0.38" stop-color="#ff7e00"/><stop offset="0.5" stop-color="#ff2c00"/><stop offset="0.62" stop-color="#fc0000"/><stop offset="0.75" stop-color="#cc0000"/><stop offset="0.88" stop-color="#db0000"/><stop offset="1" stop-color="#de0000"/></linearGradient>
<linearGradient id="gc14" gradientUnits="userSpaceOnUse" x1="25.17" y1="1123.97" x2="522.8" y2="918.46"><stop offset="0" stop-color="#ff5700"/><stop offset="0.12" stop-color="#ff5400"/><stop offset="0.25" stop-color="#ff4700"/><stop offset="0.38" stop-color="#ff2b00"/><stop offset="0.5" stop-color="#ff0f00"/><stop offset="0.62" stop-color="#ed0000"/><stop offset="0.75" stop-color="#cc0000"/><stop offset="0.88" stop-color="#bf0000"/><stop offset="1" stop-color="#bd0000"/></linearGradient>
<linearGradient id="gc15" gradientUnits="userSpaceOnUse" x1="25.84" y1="1124.71" x2="523.54" y2="919.15"><stop offset="0" stop-color="#ff5700"/><stop offset="0.12" stop-color="#ff5100"/><stop offset="0.25" stop-color="#ff3300"/><stop offset="0.38" stop-color="#ff2100"/><stop offset="0.5" stop-color="#ff0f00"/><stop offset="0.62" stop-color="#ed0000"/><stop offset="0.75" stop-color="#cc0000"/><stop offset="0.88" stop-color="#bf0000"/><stop offset="1" stop-color="#bd0000"/></linearGradient>
<linearGradient id="gc16" gradientUnits="userSpaceOnUse" x1="26.5" y1="1125.46" x2="524.27" y2="919.84"><stop offset="0" stop-color="#ff5700"/><stop offset="0.12" stop-color="#ff5100"/><stop offset="0.25" stop-color="#ff3300"/><stop offset="0.38" stop-color="#ff2100"/><stop offset="0.5" stop-color="#ff0f00"/><stop offset="0.62" stop-color="#ed0000"/><stop offset="0.75" stop-color="#cc0000"/><stop offset="0.88" stop-color="#bf0000"/><stop offset="1" stop-color="#bd0000"/></linearGradient>
<linearGradient id="gc17" gradientUnits="userSpaceOnUse" x1="27.17" y1="1126.2" x2="525.01" y2="920.53"><stop offset="0" stop-color="#ff5700"/><stop offset="0.12" stop-color="#ff5100"/><stop offset="0.25" stop-color="#ff3300"/><stop offset="0.38" stop-color="#ff2100"/><stop offset="0.5" stop-color="#ff0f00"/><stop offset="0.62" stop-color="#ed0000"/><stop offset="0.75" stop-color="#cc0000"/><stop offset="0.88" stop-color="#bf0000"/><stop offset="1" stop-color="#bd0000"/></linearGradient>
<linearGradient id="gc18" gradientUnits="userSpaceOnUse" x1="27.83" y1="1126.95" x2="525.75" y2="921.22"><stop offset="0" stop-color="#ff5700"/><stop offset="0.12" stop-color="#ff5100"/><stop offset="0.25" stop-color="#ff3300"/><stop offset="0.38" stop-color="#ff2100"/><stop offset="0.5" stop-color="#ff0f00"/><stop offset="0.62" stop-color="#ed0000"/><stop offset="0.75" stop-color="#cc0000"/><stop offset="0.88" stop-color="#bf0000"/><stop offset="1" stop-color="#bd0000"/></linearGradient>
<linearGradient id="gc19" gradientUnits="userSpaceOnUse" x1="28.5" y1="1127.69" x2="526.49" y2="921.91"><stop offset="0" stop-color="#ff5700"/><stop offset="0.12" stop-color="#ff5100"/><stop offset="0.25" stop-color="#ff3300"/><stop offset="0.38" stop-color="#ff2100"/><stop offset="0.5" stop-color="#ff0f00"/><stop offset="0.62" stop-color="#ed0000"/><stop offset="0.75" stop-color="#cc0000"/><stop offset="0.88" stop-color="#bf0000"/><stop offset="1" stop-color="#bd0000"/></linearGradient>
<linearGradient id="gc20" gradientUnits="userSpaceOnUse" x1="29.16" y1="1128.44" x2="527.22" y2="922.6"><stop offset="0" stop-color="#ff5700"/><stop offset="0.12" stop-color="#ff5100"/><stop offset="0.25" stop-color="#ff3300"/><stop offset="0.38" stop-color="#ff2100"/><stop offset="0.5" stop-color="#ff0f00"/><stop offset="0.62" stop-color="#ed0000"/><stop offset="0.75" stop-color="#cc0000"/><stop offset="0.88" stop-color="#bf0000"/><stop offset="1" stop-color="#bd0000"/></linearGradient>
<linearGradient id="gc21" gradientUnits="userSpaceOnUse" x1="29.83" y1="1129.18" x2="527.96" y2="923.28"><stop offset="0" stop-color="#ff5700"/><stop offset="0.12" stop-color="#ff5100"/><stop offset="0.25" stop-color="#ff3300"/><stop offset="0.38" stop-color="#ff2100"/><stop offset="0.5" stop-color="#ff0f00"/><stop offset="0.62" stop-color="#ed0000"/><stop offset="0.75" stop-color="#cc0000"/><stop offset="0.88" stop-color="#bf0000"/><stop offset="1" stop-color="#bd0000"/></linearGradient>
<linearGradient id="gc22" gradientUnits="userSpaceOnUse" x1="30.49" y1="1129.93" x2="528.7" y2="923.97"><stop offset="0" stop-color="#ff5700"/><stop offset="0.12" stop-color="#ff5100"/><stop offset="0.25" stop-color="#ff3300"/><stop offset="0.38" stop-color="#ff2100"/><stop offset="0.5" stop-color="#ff0f00"/><stop offset="0.62" stop-color="#ed0000"/><stop offset="0.75" stop-color="#cc0000"/><stop offset="0.88" stop-color="#c10000"/><stop offset="1" stop-color="#bf0000"/></linearGradient>
<linearGradient id="gc23" gradientUnits="userSpaceOnUse" x1="31.16" y1="1130.67" x2="529.44" y2="924.66"><stop offset="0" stop-color="#ff5900"/><stop offset="0.12" stop-color="#ff5400"/><stop offset="0.25" stop-color="#ff3700"/><stop offset="0.38" stop-color="#ff2300"/><stop offset="0.5" stop-color="#ff0f00"/><stop offset="0.62" stop-color="#ef0000"/><stop offset="0.75" stop-color="#d00000"/><stop offset="0.88" stop-color="#c50000"/><stop offset="1" stop-color="#c20000"/></linearGradient>
<linearGradient id="gc24" gradientUnits="userSpaceOnUse" x1="31.83" y1="1131.42" x2="530.17" y2="925.35"><stop offset="0" stop-color="#ff5c00"/><stop offset="0.12" stop-color="#ff5700"/><stop offset="0.25" stop-color="#ff3b00"/><stop offset="0.38" stop-color="#ff2500"/><stop offset="0.5" stop-color="#ff0f00"/><stop offset="0.62" stop-color="#f10000"/><stop offset="0.75" stop-color="#d40000"/><stop offset="0.88" stop-color="#c80000"/><stop offset="1" stop-color="#c60000"/></linearGradient>
<linearGradient id="gc25" gradientUnits="userSpaceOnUse" x1="32.49" y1="1132.16" x2="530.91" y2="926.04"><stop offset="0" stop-color="#ff5f00"/><stop offset="0.12" stop-color="#ff5a00"/><stop offset="0.25" stop-color="#ff3f00"/><stop offset="0.38" stop-color="#ff2700"/><stop offset="0.5" stop-color="#ff0f00"/><stop offset="0.62" stop-color="#f30000"/><stop offset="0.75" stop-color="#d80000"/><stop offset="0.88" stop-color="#cc0000"/><stop offset="1" stop-color="#ca0000"/></linearGradient>
<linearGradient id="gc26" gradientUnits="userSpaceOnUse" x1="33.16" y1="1132.91" x2="531.65" y2="926.73"><stop offset="0" stop-color="#ff6100"/><stop offset="0.12" stop-color="#ff5c00"/><stop offset="0.25" stop-color="#ff4200"/><stop offset="0.38" stop-color="#ff2900"/><stop offset="0.5" stop-color="#ff0f00"/><stop offset="0.62" stop-color="#f50000"/><stop offset="0.75" stop-color="#db0000"/><stop offset="0.88" stop-color="#cf0000"/><stop offset="1" stop-color="#cc0000"/></linearGradient>
<linearGradient id="gc27" gradientUnits="userSpaceOnUse" x1="33.82" y1="1133.65" x2="532.39" y2="927.42"><stop offset="0" stop-color="#ff6100"/><stop offset="0.12" stop-color="#ff5c00"/><stop offset="0.25" stop-color="#ff4200"/><stop offset="0.38" stop-color="#ff2900"/><stop offset="0.5" stop-color="#ff0f00"/><stop offset="0.62" stop-color="#f50000"/><stop offset="0.75" stop-color="#db0000"/><stop offset="0.88" stop-color="#cf0000"/><stop offset="1" stop-color="#cc0000"/></linearGradient>
<linearGradient id="gc28" gradientUnits="userSpaceOnUse" x1="34.49" y1="1134.4" x2="533.13" y2="928.11"><stop offset="0" stop-color="#ff6100"/><stop offset="0.12" stop-color="#ff5c00"/><stop offset="0.25" stop-color="#ff4200"/><stop offset="0.38" stop-color="#ff2900"/><stop offset="0.5" stop-color="#ff0f00"/><stop offset="0.62" stop-color="#f50000"/><stop offset="0.75" stop-color="#db0000"/><stop offset="0.88" stop-color="#cf0000"/><stop offset="1" stop-color="#cc0000"/></linearGradient>
<linearGradient id="gc29" gradientUnits="userSpaceOnUse" x1="35.15" y1="1135.14" x2="533.86" y2="928.8"><stop offset="0" stop-color="#ff6100"/><stop offset="0.12" stop-color="#ff5c00"/><stop offset="0.25" stop-color="#ff4200"/><stop offset="0.38" stop-color="#ff2900"/><stop offset="0.5" stop-color="#ff0f00"/><stop offset="0.62" stop-color="#f50000"/><stop offset="0.75" stop-color="#db0000"/><stop offset="0.88" stop-color="#cf0000"/><stop offset="1" stop-color="#cc0000"/></linearGradient>
<linearGradient id="gc30" gradientUnits="userSpaceOnUse" x1="35.82" y1="1135.89" x2="534.6" y2="929.49"><stop offset="0" stop-color="#ff6100"/><stop offset="0.12" stop-color="#ff5c00"/><stop offset="0.25" stop-color="#ff4200"/><stop offset="0.38" stop-color="#ff2900"/><stop offset="0.5" stop-color="#ff0f00"/><stop offset="0.62" stop-color="#f50000"/><stop offset="0.75" stop-color="#db0000"/><stop offset="0.88" stop-color="#cf0000"/><stop offset="1" stop-color="#cc0000"/></linearGradient>
<linearGradient id="gc31" gradientUnits="userSpaceOnUse" x1="36.48" y1="1136.63" x2="535.34" y2="930.18"><stop offset="0" stop-color="#ff6100"/><stop offset="0.12" stop-color="#ff5c00"/><stop offset="0.25" stop-color="#ff4200"/><stop offset="0.38" stop-color="#ff2900"/><stop offset="0.5" stop-color="#ff0f00"/><stop offset="0.62" stop-color="#f50000"/><stop offset="0.75" stop-color="#db0000"/><stop offset="0.88" stop-color="#cf0000"/><stop offset="1" stop-color="#cc0000"/></linearGradient>
<linearGradient id="gc32" gradientUnits="userSpaceOnUse" x1="37.15" y1="1137.37" x2="536.08" y2="930.87"><stop offset="0" stop-color="#ff6100"/><stop offset="0.12" stop-color="#ff5c00"/><stop offset="0.25" stop-color="#ff4200"/><stop offset="0.38" stop-color="#ff2900"/><stop offset="0.5" stop-color="#ff0f00"/><stop offset="0.62" stop-color="#f50000"/><stop offset="0.75" stop-color="#db0000"/><stop offset="0.88" stop-color="#cf0000"/><stop offset="1" stop-color="#cc0000"/></linearGradient>
<linearGradient id="gc33" gradientUnits="userSpaceOnUse" x1="37.81" y1="1138.12" x2="536.81" y2="931.56"><stop offset="0" stop-color="#ff6100"/><stop offset="0.12" stop-color="#ff5c00"/><stop offset="0.25" stop-color="#ff4200"/><stop offset="0.38" stop-color="#ff2900"/><stop offset="0.5" stop-color="#ff0f00"/><stop offset="0.62" stop-color="#f50000"/><stop offset="0.75" stop-color="#db0000"/><stop offset="0.88" stop-color="#cf0000"/><stop offset="1" stop-color="#cc0000"/></linearGradient>
<linearGradient id="gc34" gradientUnits="userSpaceOnUse" x1="38.48" y1="1138.86" x2="537.55" y2="932.25"><stop offset="0" stop-color="#ff6100"/><stop offset="0.12" stop-color="#ff5c00"/><stop offset="0.25" stop-color="#ff4200"/><stop offset="0.38" stop-color="#ff2900"/><stop offset="0.5" stop-color="#ff0f00"/><stop offset="0.62" stop-color="#f50000"/><stop offset="0.75" stop-color="#db0000"/><stop offset="0.88" stop-color="#cf0000"/><stop offset="1" stop-color="#cc0000"/></linearGradient>
<linearGradient id="gc35" gradientUnits="userSpaceOnUse" x1="39.15" y1="1139.61" x2="538.29" y2="932.94"><stop offset="0" stop-color="#ff6100"/><stop offset="0.12" stop-color="#ff5c00"/><stop offset="0.25" stop-color="#ff4200"/><stop offset="0.38" stop-color="#ff2900"/><stop offset="0.5" stop-color="#ff0f00"/><stop offset="0.62" stop-color="#f50000"/><stop offset="0.75" stop-color="#db0000"/><stop offset="0.88" stop-color="#cf0000"/><stop offset="1" stop-color="#cc0000"/></linearGradient>
<linearGradient id="gc36" gradientUnits="userSpaceOnUse" x1="39.81" y1="1140.35" x2="539.03" y2="933.63"><stop offset="0" stop-color="#ff6100"/><stop offset="0.12" stop-color="#ff5c00"/><stop offset="0.25" stop-color="#ff4200"/><stop offset="0.38" stop-color="#ff2900"/><stop offset="0.5" stop-color="#ff0f00"/><stop offset="0.62" stop-color="#f50000"/><stop offset="0.75" stop-color="#db0000"/><stop offset="0.88" stop-color="#cf0000"/><stop offset="1" stop-color="#cc0000"/></linearGradient>
<linearGradient id="gc37" gradientUnits="userSpaceOnUse" x1="40.48" y1="1141.1" x2="539.76" y2="934.32"><stop offset="0" stop-color="#ff6100"/><stop offset="0.12" stop-color="#ff5c00"/><stop offset="0.25" stop-color="#ff4200"/><stop offset="0.38" stop-color="#ff2900"/><stop offset="0.5" stop-color="#ff0f00"/><stop offset="0.62" stop-color="#f50000"/><stop offset="0.75" stop-color="#db0000"/><stop offset="0.88" stop-color="#cf0000"/><stop offset="1" stop-color="#cc0000"/></linearGradient>
<linearGradient id="gc38" gradientUnits="userSpaceOnUse" x1="41.14" y1="1141.84" x2="540.5" y2="935.01"><stop offset="0" stop-color="#ff6100"/><stop offset="0.12" stop-color="#ff5c00"/><stop offset="0.25" stop-color="#ff4200"/><stop offset="0.38" stop-color="#ff2900"/><stop offset="0.5" stop-color="#ff0f00"/><stop offset="0.62" stop-color="#f50000"/><stop offset="0.75" stop-color="#db0000"/><stop offset="0.88" stop-color="#cf0000"/><stop offset="1" stop-color="#cc0000"/></linearGradient>
<linearGradient id="gc39" gradientUnits="userSpaceOnUse" x1="41.81" y1="1142.59" x2="541.24" y2="935.7"><stop offset="0" stop-color="#ff6100"/><stop offset="0.12" stop-color="#ff5c00"/><stop offset="0.25" stop-color="#ff4200"/><stop offset="0.38" stop-color="#ff2900"/><stop offset="0.5" stop-color="#ff0f00"/><stop offset="0.62" stop-color="#f50000"/><stop offset="0.75" stop-color="#db0000"/><stop offset="0.88" stop-color="#c20000"/><stop offset="1" stop-color="#bd0000"/></linearGradient>
<linearGradient id="gc40" gradientUnits="userSpaceOnUse" x1="42.47" y1="1143.33" x2="541.98" y2="936.39"><stop offset="0" stop-color="#ff6100"/><stop offset="0.12" stop-color="#ff5c00"/><stop offset="0.25" stop-color="#ff4200"/><stop offset="0.38" stop-color="#ff2900"/><stop offset="0.5" stop-color="#ff0f00"/><stop offset="0.62" stop-color="#f50000"/><stop offset="0.75" stop-color="#db0000"/><stop offset="0.88" stop-color="#b90000"/><stop offset="1" stop-color="#b20000"/></linearGradient>
<linearGradient id="gc41" gradientUnits="userSpaceOnUse" x1="43.14" y1="1144.08" x2="542.71" y2="937.08"><stop offset="0" stop-color="#ff6100"/><stop offset="0.12" stop-color="#ff5c00"/><stop offset="0.25" stop-color="#ff4200"/><stop offset="0.38" stop-color="#ff2900"/><stop offset="0.5" stop-color="#ff0f00"/><stop offset="0.62" stop-color="#f50000"/><stop offset="0.75" stop-color="#db0000"/><stop offset="0.88" stop-color="#d20000"/><stop offset="1" stop-color="#d00000"/></linearGradient>
<linearGradient id="gc42" gradientUnits="userSpaceOnUse" x1="43.8" y1="1144.82" x2="543.45" y2="937.77"><stop offset="0" stop-color="#ff6100"/><stop offset="0.12" stop-color="#ff5c00"/><stop offset="0.25" stop-color="#ff4200"/><stop offset="0.38" stop-color="#ff2900"/><stop offset="0.5" stop-color="#ff0f00"/><stop offset="0.62" stop-color="#f50000"/><stop offset="0.75" stop-color="#db0000"/><stop offset="0.88" stop-color="#ec0000"/><stop offset="1" stop-color="#ef0000"/></linearGradient>
<linearGradient id="gc43" gradientUnits="userSpaceOnUse" x1="44.47" y1="1145.57" x2="544.19" y2="938.46"><stop offset="0" stop-color="#ff6100"/><stop offset="0.12" stop-color="#ff5c00"/><stop offset="0.25" stop-color="#ff4200"/><stop offset="0.38" stop-color="#ff1b00"/><stop offset="0.5" stop-color="#f20000"/><stop offset="0.62" stop-color="#e70000"/><stop offset="0.75" stop-color="#db0000"/><stop offset="0.88" stop-color="#ff0600"/><stop offset="1" stop-color="#ff0f00"/></linearGradient>
<linearGradient id="gc44" gradientUnits="userSpaceOnUse" x1="45.13" y1="1146.31" x2="544.93" y2="939.15"><stop offset="0" stop-color="#ff7800"/><stop offset="0.12" stop-color="#ff6f00"/><stop offset="0.25" stop-color="#ff4200"/><stop offset="0.38" stop-color="#ff2c00"/><stop offset="0.5" stop-color="#ff1600"/><stop offset="0.62" stop-color="#f80000"/><stop offset="0.75" stop-color="#db0000"/><stop offset="0.88" stop-color="#ff1b00"/><stop offset="1" stop-color="#ff2800"/></linearGradient>
<linearGradient id="gc45" gradientUnits="userSpaceOnUse" x1="45.8" y1="1147.06" x2="545.67" y2="939.84"><stop offset="0" stop-color="#ff8900"/><stop offset="0.12" stop-color="#ff7d00"/><stop offset="0.25" stop-color="#ff4200"/><stop offset="0.38" stop-color="#ff3300"/><stop offset="0.5" stop-color="#ff2300"/><stop offset="0.62" stop-color="#ff0000"/><stop offset="0.75" stop-color="#db0000"/><stop offset="0.88" stop-color="#ff2400"/><stop offset="1" stop-color="#ff3300"/></linearGradient>
<linearGradient id="gc46" gradientUnits="userSpaceOnUse" x1="46.47" y1="1147.8" x2="546.4" y2="940.53"><stop offset="0" stop-color="#ffa100"/><stop offset="0.12" stop-color="#ff9300"/><stop offset="0.25" stop-color="#ff4f00"/><stop offset="0.38" stop-color="#ff4300"/><stop offset="0.5" stop-color="#ff3700"/><stop offset="0.62" stop-color="#ff0500"/><stop offset="0.75" stop-color="#d30000"/><stop offset="0.88" stop-color="#ff3000"/><stop offset="1" stop-color="#ff4300"/></linearGradient>
<linearGradient id="gc47" gradientUnits="userSpaceOnUse" x1="47.13" y1="1148.55" x2="547.14" y2="941.22"><stop offset="0" stop-color="#ffb200"/><stop offset="0.12" stop-color="#ffa400"/><stop offset="0.25" stop-color="#ff5f00"/><stop offset="0.38" stop-color="#ff5700"/><stop offset="0.5" stop-color="#ff4f00"/><stop offset="0.62" stop-color="#ff0c00"/><stop offset="0.75" stop-color="#c80000"/><stop offset="0.88" stop-color="#ff3f00"/><stop offset="1" stop-color="#ff5700"/></linearGradient>
<linearGradient id="gc48" gradientUnits="userSpaceOnUse" x1="47.8" y1="1149.29" x2="547.88" y2="941.91"><stop offset="0" stop-color="#ffc500"/><stop offset="0.12" stop-color="#ffb700"/><stop offset="0.25" stop-color="#ff7200"/><stop offset="0.38" stop-color="#ff6e00"/><stop offset="0.5" stop-color="#ff6b00"/><stop offset="0.62" stop-color="#ff2100"/><stop offset="0.75" stop-color="#d60000"/><stop offset="0.88" stop-color="#ff5500"/><stop offset="1" stop-color="#ff6e00"/></linearGradient>
<linearGradient id="gc49" gradientUnits="userSpaceOnUse" x1="48.46" y1="1150.04" x2="548.62" y2="942.6"><stop offset="0" stop-color="#ffdb00"/><stop offset="0.12" stop-color="#ffce00"/><stop offset="0.25" stop-color="#ff8a00"/><stop offset="0.38" stop-color="#ff8a00"/><stop offset="0.5" stop-color="#ff8a00"/><stop offset="0.62" stop-color="#ff3a00"/><stop offset="0.75" stop-color="#e80000"/><stop offset="0.88" stop-color="#ff6e00"/><stop offset="1" stop-color="#ff8800"/></linearGradient>
<linearGradient id="gc50" gradientUnits="userSpaceOnUse" x1="49.13" y1="1150.78" x2="549.35" y2="943.29"><stop offset="0" stop-color="#fff400"/><stop offset="0.12" stop-color="#ffe800"/><stop offset="0.25" stop-color="#ffae00"/><stop offset="0.38" stop-color="#ffae00"/><stop offset="0.5" stop-color="#ffae00"/><stop offset="0.62" stop-color="#ff5600"/><stop offset="0.75" stop-color="#fd0000"/><stop offset="0.88" stop-color="#ff8900"/><stop offset="1" stop-color="#ffa500"/></linearGradient>
<linearGradient id="gc51" gradientUnits="userSpaceOnUse" x1="49.79" y1="1151.53" x2="550.09" y2="943.98"><stop offset="0" stop-color="#e2ff1d"/><stop offset="0.12" stop-color="#eeff11"/><stop offset="0.25" stop-color="#ffd500"/><stop offset="0.38" stop-color="#ffd500"/><stop offset="0.5" stop-color="#ffd500"/><stop offset="0.62" stop-color="#ff7500"/><stop offset="0.75" stop-color="#ff1400"/><stop offset="0.88" stop-color="#ffa700"/><stop offset="1" stop-color="#ffc400"/></linearGradient>
<linearGradient id="gc52" gradientUnits="userSpaceOnUse" x1="50.46" y1="1152.27" x2="550.83" y2="944.67"><stop offset="0" stop-color="#aaff55"/><stop offset="0.12" stop-color="#b8ff47"/><stop offset="0.25" stop-color="#ffff00"/><stop offset="0.38" stop-color="#ffff00"/><stop offset="0.5" stop-color="#ffff00"/><stop offset="0.62" stop-color="#ff9900"/><stop offset="0.75" stop-color="#ff3300"/><stop offset="0.88" stop-color="#ffc800"/><stop offset="1" stop-color="#ffe500"/></linearGradient>
<linearGradient id="gc53" gradientUnits="userSpaceOnUse" x1="51.12" y1="1153.02" x2="551.57" y2="945.36"><stop offset="0" stop-color="#6fff90"/><stop offset="0.12" stop-color="#7dff82"/><stop offset="0.25" stop-color="#c4ff3b"/><stop offset="0.38" stop-color="#c8ff37"/><stop offset="0.5" stop-color="#cdff32"/><stop offset="0.62" stop-color="#ffc400"/><stop offset="0.75" stop-color="#ff5600"/><stop offset="0.88" stop-color="#ffea00"/><stop offset="1" stop-color="#f7ff08"/></linearGradient>
<linearGradient id="gc54" gradientUnits="userSpaceOnUse" x1="51.79" y1="1153.76" x2="552.3" y2="946.05"><stop offset="0" stop-color="#31ffce"/><stop offset="0.12" stop-color="#3fffc0"/><stop offset="0.25" stop-color="#86ff79"/><stop offset="0.38" stop-color="#8fff70"/><stop offset="0.5" stop-color="#97ff68"/><stop offset="0.62" stop-color="#fff100"/><stop offset="0.75" stop-color="#ff7c00"/><stop offset="0.88" stop-color="#f4ff0b"/><stop offset="1" stop-color="#d8ff27"/></linearGradient>
<linearGradient id="gc55" gradientUnits="userSpaceOnUse" x1="52.46" y1="1154.51" x2="553.04" y2="946.74"><stop offset="0" stop-color="#00efff"/><stop offset="0.12" stop-color="#00fdff"/><stop offset="0.25" stop-color="#45ffba"/><stop offset="0.38" stop-color="#52ffad"/><stop offset="0.5" stop-color="#5fffa0"/><stop offset="0.62" stop-color="#d9ff26"/><stop offset="0.75" stop-color="#ffac00"/><stop offset="0.88" stop-color="#d1ff2e"/><stop offset="1" stop-color="#b7ff48"/></linearGradient>
<linearGradient id="gc56" gradientUnits="userSpaceOnUse" x1="53.12" y1="1155.25" x2="553.78" y2="947.43"><stop offset="0" stop-color="#00acff"/><stop offset="0.12" stop-color="#00baff"/><stop offset="0.25" stop-color="#00ffff"/><stop offset="0.38" stop-color="#13ffec"/><stop offset="0.5" stop-color="#25ffda"/><stop offset="0.62" stop-color="#a2ff5d"/><stop offset="0.75" stop-color="#ffdf00"/><stop offset="0.88" stop-color="#acff53"/><stop offset="1" stop-color="#95ff6a"/></linearGradient>
<linearGradient id="gc57" gradientUnits="userSpaceOnUse" x1="53.79" y1="1156" x2="554.52" y2="948.12"><stop offset="0" stop-color="#0066ff"/><stop offset="0.12" stop-color="#0074ff"/><stop offset="0.25" stop-color="#00b9ff"/><stop offset="0.38" stop-color="#00daff"/><stop offset="0.5" stop-color="#00fbff"/><stop offset="0.62" stop-color="#75ff8a"/><stop offset="0.75" stop-color="#eeff11"/><stop offset="0.88" stop-color="#8cff73"/><stop offset="1" stop-color="#79ff86"/></linearGradient>
<linearGradient id="gc58" gradientUnits="userSpaceOnUse" x1="54.45" y1="1156.74" x2="555.25" y2="948.81"><stop offset="0" stop-color="#0024ff"/><stop offset="0.12" stop-color="#0031ff"/><stop offset="0.25" stop-color="#0071ff"/><stop offset="0.38" stop-color="#00b1ff"/><stop offset="0.5" stop-color="#00f1ff"/><stop offset="0.62" stop-color="#5affa5"/><stop offset="0.75" stop-color="#c2ff3d"/><stop offset="0.88" stop-color="#76ff89"/><stop offset="1" stop-color="#67ff98"/></linearGradient>
<linearGradient id="gc59" gradientUnits="userSpaceOnUse" x1="55.12" y1="1157.49" x2="555.99" y2="949.5"><stop offset="0" stop-color="#0000f7"/><stop offset="0.12" stop-color="#0000ff"/><stop offset="0.25" stop-color="#0027ff"/><stop offset="0.38" stop-color="#0087ff"/><stop offset="0.5" stop-color="#00e6ff"/><stop offset="0.62" stop-color="#3dffc2"/><stop offset="0.75" stop-color="#94ff6b"/><stop offset="0.88" stop-color="#5fffa0"/><stop offset="1" stop-color="#55ffaa"/></linearGradient>
<linearGradient id="gc60" gradientUnits="userSpaceOnUse" x1="55.78" y1="1158.23" x2="556.73" y2="950.19"><stop offset="0" stop-color="#0000ca"/><stop offset="0.12" stop-color="#0000cf"/><stop offset="0.25" stop-color="#0000e9"/><stop offset="0.38" stop-color="#0062ff"/><stop offset="0.5" stop-color="#00dbff"/><stop offset="0.62" stop-color="#20ffdf"/><stop offset="0.75" stop-color="#65ff9a"/><stop offset="0.88" stop-color="#51ffae"/><stop offset="1" stop-color="#4dffb2"/></linearGradient>
<linearGradient id="gc61" gradientUnits="userSpaceOnUse" x1="56.45" y1="1158.98" x2="557.47" y2="950.88"><stop offset="0" stop-color="#0000b2"/><stop offset="0.12" stop-color="#0000b1"/><stop offset="0.25" stop-color="#0000a9"/><stop offset="0.38" stop-color="#0040ff"/><stop offset="0.5" stop-color="#00d6ff"/><stop offset="0.62" stop-color="#0ffff0"/><stop offset="0.75" stop-color="#48ffb7"/><stop offset="0.88" stop-color="#4cffb3"/><stop offset="1" stop-color="#4dffb2"/></linearGradient>
<linearGradient id="gc62" gradientUnits="userSpaceOnUse" x1="57.11" y1="1159.72" x2="558.21" y2="951.57"><stop offset="0" stop-color="#0000b2"/><stop offset="0.12" stop-color="#0000b1"/><stop offset="0.25" stop-color="#0000a8"/><stop offset="0.38" stop-color="#003dff"/><stop offset="0.5" stop-color="#00d0ff"/><stop offset="0.62" stop-color="#07fff8"/><stop offset="0.75" stop-color="#3dffc2"/><stop offset="0.88" stop-color="#4affb5"/><stop offset="1" stop-color="#4dffb2"/></linearGradient>
<linearGradient id="gc63" gradientUnits="userSpaceOnUse" x1="57.78" y1="1160.46" x2="558.94" y2="952.26"><stop offset="0" stop-color="#0000b2"/><stop offset="0.12" stop-color="#0000b1"/><stop offset="0.25" stop-color="#0000a8"/><stop offset="0.38" stop-color="#003aff"/><stop offset="0.5" stop-color="#00caff"/><stop offset="0.62" stop-color="#00feff"/><stop offset="0.75" stop-color="#33ffcc"/><stop offset="0.88" stop-color="#48ffb7"/><stop offset="1" stop-color="#4dffb2"/></linearGradient>
<linearGradient id="gd0" gradientUnits="userSpaceOnUse" x1="874.74" y1="1114.62" x2="1374.52" y2="907.55"><stop offset="0" stop-color="#0000b2"/><stop offset="0.12" stop-color="#0000c5"/><stop offset="0.25" stop-color="#0024ff"/><stop offset="0.38" stop-color="#0057ff"/><stop offset="0.5" stop-color="#008aff"/><stop offset="0.62" stop-color="#00ebff"/><stop offset="0.75" stop-color="#4dffb2"/><stop offset="0.88" stop-color="#88ff77"/><stop offset="1" stop-color="#94ff6b"/></linearGradient>
<linearGradient id="gd1" gradientUnits="userSpaceOnUse" x1="875.41" y1="1115.35" x2="1375.27" y2="908.23"><stop offset="0" stop-color="#0000b2"/><stop offset="0.12" stop-color="#0000c5"/><stop offset="0.25" stop-color="#0024ff"/><stop offset="0.38" stop-color="#0057ff"/><stop offset="0.5" stop-color="#008aff"/><stop offset="0.62" stop-color="#00ebff"/><stop offset="0.75" stop-color="#4dffb2"/><stop offset="0.88" stop-color="#88ff77"/><stop offset="1" stop-color="#94ff6b"/></linearGradient>
<linearGradient id="gd2" gradientUnits="userSpaceOnUse" x1="876.08" y1="1116.08" x2="1376.01" y2="908.9"><stop offset="0" stop-color="#0000b2"/><stop offset="0.12" stop-color="#0000c5"/><stop offset="0.25" stop-color="#0024ff"/><stop offset="0.38" stop-color="#0057ff"/><stop offset="0.5" stop-color="#008aff"/><stop offset="0.62" stop-color="#00ebff"/><stop offset="0.75" stop-color="#4dffb2"/><stop offset="0.88" stop-color="#88ff77"/><stop offset="1" stop-color="#94ff6b"/></linearGradient>
<linearGradient id="gd3" gradientUnits="userSpaceOnUse" x1="876.75" y1="1116.81" x2="1376.75" y2="909.58"><stop offset="0" stop-color="#0000b2"/><stop offset="0.12" stop-color="#0000c5"/><stop offset="0.25" stop-color="#0024ff"/><stop offset="0.38" stop-color="#0057ff"/><stop offset="0.5" stop-color="#008aff"/><stop offset="0.62" stop-color="#00ebff"/><stop offset="0.75" stop-color="#4dffb2"/><stop offset="0.88" stop-color="#88ff77"/><stop offset="1" stop-color="#94ff6b"/></linearGradient>
<linearGradient id="gd4" gradientUnits="userSpaceOnUse" x1="877.42" y1="1117.54" x2="1377.5" y2="910.25"><stop offset="0" stop-color="#0000b2"/><stop offset="0.12" stop-color="#0000c5"/><stop offset="0.25" stop-color="#0024ff"/><stop offset="0.38" stop-color="#0057ff"/><stop offset="0.5" stop-color="#008aff"/><stop offset="0.62" stop-color="#00ebff"/><stop offset="0.75" stop-color="#4dffb2"/><stop offset="0.88" stop-color="#88ff77"/><stop offset="1" stop-color="#94ff6b"/></linearGradient>
<linearGradient id="gd5" gradientUnits="userSpaceOnUse" x1="878.1" y1="1118.27" x2="1378.24" y2="910.93"><stop offset="0" stop-color="#0000b6"/><stop offset="0.12" stop-color="#0000c9"/><stop offset="0.25" stop-color="#0028ff"/><stop offset="0.38" stop-color="#005cff"/><stop offset="0.5" stop-color="#008fff"/><stop offset="0.62" stop-color="#00eeff"/><stop offset="0.75" stop-color="#4fffb0"/><stop offset="0.88" stop-color="#8aff75"/><stop offset="1" stop-color="#96ff69"/></linearGradient>
<linearGradient id="gd6" gradientUnits="userSpaceOnUse" x1="878.77" y1="1119" x2="1378.99" y2="911.6"><stop offset="0" stop-color="#0000ec"/><stop offset="0.12" stop-color="#0001ff"/><stop offset="0.25" stop-color="#0067ff"/><stop offset="0.38" stop-color="#00a0ff"/><stop offset="0.5" stop-color="#00d8ff"/><stop offset="0.62" stop-color="#22ffdd"/><stop offset="0.75" stop-color="#6aff95"/><stop offset="0.88" stop-color="#a6ff59"/><stop offset="1" stop-color="#b2ff4d"/></linearGradient>
<linearGradient id="gd7" gradientUnits="userSpaceOnUse" x1="879.44" y1="1119.73" x2="1379.73" y2="912.27"><stop offset="0" stop-color="#0029ff"/><stop offset="0.12" stop-color="#003eff"/><stop offset="0.25" stop-color="#00abff"/><stop offset="0.38" stop-color="#00e8ff"/><stop offset="0.5" stop-color="#26ffd9"/><stop offset="0.62" stop-color="#58ffa7"/><stop offset="0.75" stop-color="#89ff76"/><stop offset="0.88" stop-color="#c5ff3a"/><stop offset="1" stop-color="#d1ff2e"/></linearGradient>
<linearGradient id="gd8" gradientUnits="userSpaceOnUse" x1="880.11" y1="1120.46" x2="1380.47" y2="912.95"><stop offset="0" stop-color="#0070ff"/><stop offset="0.12" stop-color="#0086ff"/><stop offset="0.25" stop-color="#00f5ff"/><stop offset="0.38" stop-color="#36ffc9"/><stop offset="0.5" stop-color="#75ff8a"/><stop offset="0.62" stop-color="#90ff6f"/><stop offset="0.75" stop-color="#aaff55"/><stop offset="0.88" stop-color="#e6ff19"/><stop offset="1" stop-color="#f2ff0d"/></linearGradient>
<linearGradient id="gd9" gradientUnits="userSpaceOnUse" x1="880.78" y1="1121.19" x2="1381.22" y2="913.62"><stop offset="0" stop-color="#00bcff"/><stop offset="0.12" stop-color="#00d4ff"/><stop offset="0.25" stop-color="#4bffb4"/><stop offset="0.38" stop-color="#8aff75"/><stop offset="0.5" stop-color="#caff35"/><stop offset="0.62" stop-color="#ccff33"/><stop offset="0.75" stop-color="#ceff31"/><stop offset="0.88" stop-color="#ffec00"/><stop offset="1" stop-color="#ffdf00"/></linearGradient>
<linearGradient id="gd10" gradientUnits="userSpaceOnUse" x1="881.45" y1="1121.92" x2="1381.96" y2="914.3"><stop offset="0" stop-color="#10ffef"/><stop offset="0.12" stop-color="#28ffd7"/><stop offset="0.25" stop-color="#a0ff5f"/><stop offset="0.38" stop-color="#dcff23"/><stop offset="0.5" stop-color="#ffe600"/><stop offset="0.62" stop-color="#fff800"/><stop offset="0.75" stop-color="#f4ff0b"/><stop offset="0.88" stop-color="#ffb900"/><stop offset="1" stop-color="#ffa900"/></linearGradient>
<linearGradient id="gd11" gradientUnits="userSpaceOnUse" x1="882.12" y1="1122.65" x2="1382.71" y2="914.97"><stop offset="0" stop-color="#6eff91"/><stop offset="0.12" stop-color="#84ff7b"/><stop offset="0.25" stop-color="#f2ff0d"/><stop offset="0.38" stop-color="#ffd900"/><stop offset="0.5" stop-color="#ffa600"/><stop offset="0.62" stop-color="#ffc100"/><stop offset="0.75" stop-color="#ffdc00"/><stop offset="0.88" stop-color="#ff7d00"/><stop offset="1" stop-color="#ff6a00"/></linearGradient>
<linearGradient id="gd12" gradientUnits="userSpaceOnUse" x1="882.8" y1="1123.38" x2="1383.45" y2="915.65"><stop offset="0" stop-color="#d1ff2e"/><stop offset="0.12" stop-color="#dfff20"/><stop offset="0.25" stop-color="#ffd800"/><stop offset="0.38" stop-color="#ffa300"/><stop offset="0.5" stop-color="#ff6e00"/><stop offset="0.62" stop-color="#ff8c00"/><stop offset="0.75" stop-color="#ffaa00"/><stop offset="0.88" stop-color="#ff3100"/><stop offset="1" stop-color="#ff1900"/></linearGradient>
<linearGradient id="gd13" gradientUnits="userSpaceOnUse" x1="883.47" y1="1124.11" x2="1384.19" y2="916.32"><stop offset="0" stop-color="#fbff04"/><stop offset="0.12" stop-color="#ffee00"/><stop offset="0.25" stop-color="#ff8200"/><stop offset="0.38" stop-color="#ff5800"/><stop offset="0.5" stop-color="#ff2e00"/><stop offset="0.62" stop-color="#ff4700"/><stop offset="0.75" stop-color="#ff6100"/><stop offset="0.88" stop-color="#dd0000"/><stop offset="1" stop-color="#c30000"/></linearGradient>
<linearGradient id="gd14" gradientUnits="userSpaceOnUse" x1="884.14" y1="1124.84" x2="1384.94" y2="917"><stop offset="0" stop-color="#ff5700"/><stop offset="0.12" stop-color="#ff4e00"/><stop offset="0.25" stop-color="#ff2400"/><stop offset="0.38" stop-color="#ff0a00"/><stop offset="0.5" stop-color="#f00000"/><stop offset="0.62" stop-color="#ee0000"/><stop offset="0.75" stop-color="#ed0000"/><stop offset="0.88" stop-color="#bc0000"/><stop offset="1" stop-color="#b30000"/></linearGradient>
<linearGradient id="gd15" gradientUnits="userSpaceOnUse" x1="884.81" y1="1125.57" x2="1385.68" y2="917.67"><stop offset="0" stop-color="#ff5700"/><stop offset="0.12" stop-color="#ff4e00"/><stop offset="0.25" stop-color="#ff2400"/><stop offset="0.38" stop-color="#ff0a00"/><stop offset="0.5" stop-color="#f00000"/><stop offset="0.62" stop-color="#db0000"/><stop offset="0.75" stop-color="#c70000"/><stop offset="0.88" stop-color="#b60000"/><stop offset="1" stop-color="#b30000"/></linearGradient>
<linearGradient id="gd16" gradientUnits="userSpaceOnUse" x1="885.48" y1="1126.3" x2="1386.43" y2="918.34"><stop offset="0" stop-color="#ff5700"/><stop offset="0.12" stop-color="#ff4e00"/><stop offset="0.25" stop-color="#ff2400"/><stop offset="0.38" stop-color="#ff0a00"/><stop offset="0.5" stop-color="#f00000"/><stop offset="0.62" stop-color="#db0000"/><stop offset="0.75" stop-color="#c70000"/><stop offset="0.88" stop-color="#b60000"/><stop offset="1" stop-color="#b30000"/></linearGradient>
<linearGradient id="gd17" gradientUnits="userSpaceOnUse" x1="886.15" y1="1127.03" x2="1387.17" y2="919.02"><stop offset="0" stop-color="#ff5700"/><stop offset="0.12" stop-color="#ff4e00"/><stop offset="0.25" stop-color="#ff2400"/><stop offset="0.38" stop-color="#ff0a00"/><stop offset="0.5" stop-color="#f00000"/><stop offset="0.62" stop-color="#db0000"/><stop offset="0.75" stop-color="#c70000"/><stop offset="0.88" stop-color="#b60000"/><stop offset="1" stop-color="#b30000"/></linearGradient>
<linearGradient id="gd18" gradientUnits="userSpaceOnUse" x1="886.82" y1="1127.76" x2="1387.91" y2="919.69"><stop offset="0" stop-color="#ff5700"/><stop offset="0.12" stop-color="#ff4e00"/><stop offset="0.25" stop-color="#ff2400"/><stop offset="0.38" stop-color="#ff0a00"/><stop offset="0.5" stop-color="#f00000"/><stop offset="0.62" stop-color="#db0000"/><stop offset="0.75" stop-color="#c70000"/><stop offset="0.88" stop-color="#b60000"/><stop offset="1" stop-color="#b30000"/></linearGradient>
<linearGradient id="gd19" gradientUnits="userSpaceOnUse" x1="887.5" y1="1128.49" x2="1388.66" y2="920.37"><stop offset="0" stop-color="#ff5700"/><stop offset="0.12" stop-color="#ff4e00"/><stop offset="0.25" stop-color="#ff2400"/><stop offset="0.38" stop-color="#ff0a00"/><stop offset="0.5" stop-color="#f00000"/><stop offset="0.62" stop-color="#db0000"/><stop offset="0.75" stop-color="#c70000"/><stop offset="0.88" stop-color="#b60000"/><stop offset="1" stop-color="#b30000"/></linearGradient>
<linearGradient id="gd20" gradientUnits="userSpaceOnUse" x1="888.17" y1="1129.22" x2="1389.4" y2="921.04"><stop offset="0" stop-color="#ff5700"/><stop offset="0.12" stop-color="#ff4e00"/><stop offset="0.25" stop-color="#ff2400"/><stop offset="0.38" stop-color="#ff0a00"/><stop offset="0.5" stop-color="#f00000"/><stop offset="0.62" stop-color="#db0000"/><stop offset="0.75" stop-color="#c70000"/><stop offset="0.88" stop-color="#b60000"/><stop offset="1" stop-color="#b30000"/></linearGradient>
<linearGradient id="gd21" gradientUnits="userSpaceOnUse" x1="888.84" y1="1129.95" x2="1390.15" y2="921.72"><stop offset="0" stop-color="#ff5700"/><stop offset="0.12" stop-color="#ff4e00"/><stop offset="0.25" stop-color="#ff2400"/><stop offset="0.38" stop-color="#ff0a00"/><stop offset="0.5" stop-color="#f00000"/><stop offset="0.62" stop-color="#db0000"/><stop offset="0.75" stop-color="#c70000"/><stop offset="0.88" stop-color="#b60000"/><stop offset="1" stop-color="#b30000"/></linearGradient>
<linearGradient id="gd22" gradientUnits="userSpaceOnUse" x1="889.51" y1="1130.68" x2="1390.89" y2="922.39"><stop offset="0" stop-color="#ff5700"/><stop offset="0.12" stop-color="#ff4e00"/><stop offset="0.25" stop-color="#ff2400"/><stop offset="0.38" stop-color="#ff0a00"/><stop offset="0.5" stop-color="#f00000"/><stop offset="0.62" stop-color="#dc0000"/><stop offset="0.75" stop-color="#c70000"/><stop offset="0.88" stop-color="#b60000"/><stop offset="1" stop-color="#b30000"/></linearGradient>
<linearGradient id="gd23" gradientUnits="userSpaceOnUse" x1="890.18" y1="1131.41" x2="1391.63" y2="923.06"><stop offset="0" stop-color="#ff5500"/><stop offset="0.12" stop-color="#ff4e00"/><stop offset="0.25" stop-color="#ff2600"/><stop offset="0.38" stop-color="#ff0d00"/><stop offset="0.5" stop-color="#f30000"/><stop offset="0.62" stop-color="#df0000"/><stop offset="0.75" stop-color="#ca0000"/><stop offset="0.88" stop-color="#b90000"/><stop offset="1" stop-color="#b50000"/></linearGradient>
<linearGradient id="gd24" gradientUnits="userSpaceOnUse" x1="890.85" y1="1132.14" x2="1392.38" y2="923.74"><stop offset="0" stop-color="#ff5300"/><stop offset="0.12" stop-color="#ff4c00"/><stop offset="0.25" stop-color="#ff2a00"/><stop offset="0.38" stop-color="#ff1100"/><stop offset="0.5" stop-color="#f60000"/><stop offset="0.62" stop-color="#e30000"/><stop offset="0.75" stop-color="#cf0000"/><stop offset="0.88" stop-color="#bc0000"/><stop offset="1" stop-color="#b80000"/></linearGradient>
<linearGradient id="gd25" gradientUnits="userSpaceOnUse" x1="891.52" y1="1132.87" x2="1393.12" y2="924.41"><stop offset="0" stop-color="#ff5100"/><stop offset="0.12" stop-color="#ff4b00"/><stop offset="0.25" stop-color="#ff2e00"/><stop offset="0.38" stop-color="#ff1400"/><stop offset="0.5" stop-color="#f90000"/><stop offset="0.62" stop-color="#e70000"/><stop offset="0.75" stop-color="#d50000"/><stop offset="0.88" stop-color="#be0000"/><stop offset="1" stop-color="#ba0000"/></linearGradient>
<linearGradient id="gd26" gradientUnits="userSpaceOnUse" x1="892.2" y1="1133.6" x2="1393.87" y2="925.09"><stop offset="0" stop-color="#ff4e00"/><stop offset="0.12" stop-color="#ff4a00"/><stop offset="0.25" stop-color="#ff3200"/><stop offset="0.38" stop-color="#ff1800"/><stop offset="0.5" stop-color="#fd0000"/><stop offset="0.62" stop-color="#eb0000"/><stop offset="0.75" stop-color="#da0000"/><stop offset="0.88" stop-color="#c10000"/><stop offset="1" stop-color="#bc0000"/></linearGradient>
<linearGradient id="gd27" gradientUnits="userSpaceOnUse" x1="892.87" y1="1134.33" x2="1394.61" y2="925.76"><stop offset="0" stop-color="#ff4c00"/><stop offset="0.12" stop-color="#ff4800"/><stop offset="0.25" stop-color="#ff3300"/><stop offset="0.38" stop-color="#ff1a00"/><stop offset="0.5" stop-color="#ff0000"/><stop offset="0.62" stop-color="#ed0000"/><stop offset="0.75" stop-color="#db0000"/><stop offset="0.88" stop-color="#c20000"/><stop offset="1" stop-color="#bd0000"/></linearGradient>
<linearGradient id="gd28" gradientUnits="userSpaceOnUse" x1="893.54" y1="1135.05" x2="1395.35" y2="926.44"><stop offset="0" stop-color="#ff4c00"/><stop offset="0.12" stop-color="#ff4800"/><stop offset="0.25" stop-color="#ff3300"/><stop offset="0.38" stop-color="#ff1a00"/><stop offset="0.5" stop-color="#ff0000"/><stop offset="0.62" stop-color="#ed0000"/><stop offset="0.75" stop-color="#db0000"/><stop offset="0.88" stop-color="#c20000"/><stop offset="1" stop-color="#bd0000"/></linearGradient>
<linearGradient id="gd29" gradientUnits="userSpaceOnUse" x1="894.21" y1="1135.78" x2="1396.1" y2="927.11"><stop offset="0" stop-color="#ff4c00"/><stop offset="0.12" stop-color="#ff4800"/><stop offset="0.25" stop-color="#ff3300"/><stop offset="0.38" stop-color="#ff1a00"/><stop offset="0.5" stop-color="#ff0000"/><stop offset="0.62" stop-color="#ed0000"/><stop offset="0.75" stop-color="#db0000"/><stop offset="0.88" stop-color="#c20000"/><stop offset="1" stop-color="#bd0000"/></linearGradient>
<linearGradient id="gd30" gradientUnits="userSpaceOnUse" x1="894.88" y1="1136.51" x2="1396.84" y2="927.79"><stop offset="0" stop-color="#ff4c00"/><stop offset="0.12" stop-color="#ff4800"/><stop offset="0.25" stop-color="#ff3300"/><stop offset="0.38" stop-color="#ff1a00"/><stop offset="0.5" stop-color="#ff0000"/><stop offset="0.62" stop-color="#ed0000"/><stop offset="0.75" stop-color="#db0000"/><stop offset="0.88" stop-color="#c20000"/><stop offset="1" stop-color="#bd0000"/></linearGradient>
<linearGradient id="gd31" gradientUnits="userSpaceOnUse" x1="895.55" y1="1137.24" x2="1397.59" y2="928.46"><stop offset="0" stop-color="#ff4c00"/><stop offset="0.12" stop-color="#ff4800"/><stop offset="0.25" stop-color="#ff3300"/><stop offset="0.38" stop-color="#ff1a00"/><stop offset="0.5" stop-color="#ff0000"/><stop offset="0.62" stop-color="#ed0000"/><stop offset="0.75" stop-color="#db0000"/><stop offset="0.88" stop-color="#c20000"/><stop offset="1" stop-color="#bd0000"/></linearGradient>
<linearGradient id="gd32" gradientUnits="userSpaceOnUse" x1="896.22" y1="1137.97" x2="1398.33" y2="929.13"><stop offset="0" stop-color="#ff4c00"/><stop offset="0.12" stop-color="#ff4800"/><stop offset="0.25" stop-color="#ff3300"/><stop offset="0.38" stop-color="#ff1a00"/><stop offset="0.5" stop-color="#ff0000"/><stop offset="0.62" stop-color="#ed0000"/><stop offset="0.75" stop-color="#db0000"/><stop offset="0.88" stop-color="#c20000"/><stop offset="1" stop-color="#bd0000"/></linearGradient>
<linearGradient id="gd33" gradientUnits="userSpaceOnUse" x1="896.9" y1="1138.7" x2="1399.07" y2="929.81"><stop offset="0" stop-color="#ff4c00"/><stop offset="0.12" stop-color="#ff4800"/><stop offset="0.25" stop-color="#ff3300"/><stop offset="0.38" stop-color="#ff1a00"/><stop offset="0.5" stop-color="#ff0000"/><stop offset="0.62" stop-color="#ed0000"/><stop offset="0.75" stop-color="#db0000"/><stop offset="0.88" stop-color="#c20000"/><stop offset="1" stop-color="#bd0000"/></linearGradient>
<linearGradient id="gd34" gradientUnits="userSpaceOnUse" x1="897.57" y1="1139.43" x2="1399.82" y2="930.48"><stop offset="0" stop-color="#ff4c00"/><stop offset="0.12" stop-color="#ff4800"/><stop offset="0.25" stop-color="#ff3300"/><stop offset="0.38" stop-color="#ff1a00"/><stop offset="0.5" stop-color="#ff0000"/><stop offset="0.62" stop-color="#ed0000"/><stop offset="0.75" stop-color="#db0000"/><stop offset="0.88" stop-color="#c20000"/><stop offset="1" stop-color="#bd0000"/></linearGradient>
<linearGradient id="gd35" gradientUnits="userSpaceOnUse" x1="898.24" y1="1140.16" x2="1400.56" y2="931.16"><stop offset="0" stop-color="#ff4c00"/><stop offset="0.12" stop-color="#ff4800"/><stop offset="0.25" stop-color="#ff3300"/><stop offset="0.38" stop-color="#ff1a00"/><stop offset="0.5" stop-color="#ff0000"/><stop offset="0.62" stop-color="#ed0000"/><stop offset="0.75" stop-color="#db0000"/><stop offset="0.88" stop-color="#c20000"/><stop offset="1" stop-color="#bd0000"/></linearGradient>
<linearGradient id="gd36" gradientUnits="userSpaceOnUse" x1="898.91" y1="1140.89" x2="1401.31" y2="931.83"><stop offset="0" stop-color="#ff4c00"/><stop offset="0.12" stop-color="#ff4800"/><stop offset="0.25" stop-color="#ff3300"/><stop offset="0.38" stop-color="#ff1a00"/><stop offset="0.5" stop-color="#ff0000"/><stop offset="0.62" stop-color="#ed0000"/><stop offset="0.75" stop-color="#db0000"/><stop offset="0.88" stop-color="#c20000"/><stop offset="1" stop-color="#bd0000"/></linearGradient>
<linearGradient id="gd37" gradientUnits="userSpaceOnUse" x1="899.58" y1="1141.62" x2="1402.05" y2="932.51"><stop offset="0" stop-color="#ff4c00"/><stop offset="0.12" stop-color="#ff4800"/><stop offset="0.25" stop-color="#ff3300"/><stop offset="0.38" stop-color="#ff1a00"/><stop offset="0.5" stop-color="#ff0000"/><stop offset="0.62" stop-color="#ed0000"/><stop offset="0.75" stop-color="#db0000"/><stop offset="0.88" stop-color="#c20000"/><stop offset="1" stop-color="#bd0000"/></linearGradient>
<linearGradient id="gd38" gradientUnits="userSpaceOnUse" x1="900.25" y1="1142.35" x2="1402.79" y2="933.18"><stop offset="0" stop-color="#ff4c00"/><stop offset="0.12" stop-color="#ff4800"/><stop offset="0.25" stop-color="#ff3300"/><stop offset="0.38" stop-color="#ff1a00"/><stop offset="0.5" stop-color="#ff0000"/><stop offset="0.62" stop-color="#ed0000"/><stop offset="0.75" stop-color="#db0000"/><stop offset="0.88" stop-color="#c20000"/><stop offset="1" stop-color="#bd0000"/></linearGradient>
<linearGradient id="gd39" gradientUnits="userSpaceOnUse" x1="900.92" y1="1143.08" x2="1403.54" y2="933.85"><stop offset="0" stop-color="#ff4c00"/><stop offset="0.12" stop-color="#ff4800"/><stop offset="0.25" stop-color="#ff3300"/><stop offset="0.38" stop-color="#ff1a00"/><stop offset="0.5" stop-color="#ff0000"/><stop offset="0.62" stop-color="#ed0000"/><stop offset="0.75" stop-color="#db0000"/><stop offset="0.88" stop-color="#c20000"/><stop offset="1" stop-color="#bd0000"/></linearGradient>
<linearGradient id="gd40" gradientUnits="userSpaceOnUse" x1="901.6" y1="1143.81" x2="1404.28" y2="934.53"><stop offset="0" stop-color="#ff4c00"/><stop offset="0.12" stop-color="#ff4800"/><stop offset="0.25" stop-color="#ff3300"/><stop offset="0.38" stop-color="#ff1a00"/><stop offset="0.5" stop-color="#ff0000"/><stop offset="0.62" stop-color="#ed0000"/><stop offset="0.75" stop-color="#db0000"/><stop offset="0.88" stop-color="#c20000"/><stop offset="1" stop-color="#bd0000"/></linearGradient>
<linearGradient id="gd41" gradientUnits="userSpaceOnUse" x1="902.27" y1="1144.54" x2="1405.03" y2="935.2"><stop offset="0" stop-color="#ff4c00"/><stop offset="0.12" stop-color="#ff4800"/><stop offset="0.25" stop-color="#ff3300"/><stop offset="0.38" stop-color="#ff1a00"/><stop offset="0.5" stop-color="#ff0000"/><stop offset="0.62" stop-color="#ed0000"/><stop offset="0.75" stop-color="#db0000"/><stop offset="0.88" stop-color="#c20000"/><stop offset="1" stop-color="#bd0000"/></linearGradient>
<linearGradient id="gd42" gradientUnits="userSpaceOnUse" x1="902.94" y1="1145.27" x2="1405.77" y2="935.88"><stop offset="0" stop-color="#ff4c00"/><stop offset="0.12" stop-color="#ff4800"/><stop offset="0.25" stop-color="#ff3300"/><stop offset="0.38" stop-color="#ff1a00"/><stop offset="0.5" stop-color="#ff0000"/><stop offset="0.62" stop-color="#ed0000"/><stop offset="0.75" stop-color="#db0000"/><stop offset="0.88" stop-color="#b30000"/><stop offset="1" stop-color="#ab0000"/></linearGradient>
<linearGradient id="gd43" gradientUnits="userSpaceOnUse" x1="903.61" y1="1146" x2="1406.51" y2="936.55"><stop offset="0" stop-color="#ff4c00"/><stop offset="0.12" stop-color="#ff4800"/><stop offset="0.25" stop-color="#ff3300"/><stop offset="0.38" stop-color="#ff2200"/><stop offset="0.5" stop-color="#ff1100"/><stop offset="0.62" stop-color="#f50000"/><stop offset="0.75" stop-color="#d90000"/><stop offset="0.88" stop-color="#d30000"/><stop offset="1" stop-color="#d20000"/></linearGradient>
<linearGradient id="gd44" gradientUnits="userSpaceOnUse" x1="904.28" y1="1146.73" x2="1407.26" y2="937.23"><stop offset="0" stop-color="#ff4c00"/><stop offset="0.12" stop-color="#ff4800"/><stop offset="0.25" stop-color="#ff3300"/><stop offset="0.38" stop-color="#ff2f00"/><stop offset="0.5" stop-color="#ff2b00"/><stop offset="0.62" stop-color="#f50000"/><stop offset="0.75" stop-color="#c10000"/><stop offset="0.88" stop-color="#f00000"/><stop offset="1" stop-color="#fa0000"/></linearGradient>
<linearGradient id="gd45" gradientUnits="userSpaceOnUse" x1="904.95" y1="1147.46" x2="1408" y2="937.9"><stop offset="0" stop-color="#ff5e00"/><stop offset="0.12" stop-color="#ff5600"/><stop offset="0.25" stop-color="#ff3300"/><stop offset="0.38" stop-color="#ff3600"/><stop offset="0.5" stop-color="#ff3900"/><stop offset="0.62" stop-color="#ff0000"/><stop offset="0.75" stop-color="#c60000"/><stop offset="0.88" stop-color="#ff0400"/><stop offset="1" stop-color="#ff1000"/></linearGradient>
<linearGradient id="gd46" gradientUnits="userSpaceOnUse" x1="905.62" y1="1148.19" x2="1408.75" y2="938.58"><stop offset="0" stop-color="#ff6b00"/><stop offset="0.12" stop-color="#ff6200"/><stop offset="0.25" stop-color="#ff3500"/><stop offset="0.38" stop-color="#ff3b00"/><stop offset="0.5" stop-color="#ff4100"/><stop offset="0.62" stop-color="#ff0800"/><stop offset="0.75" stop-color="#cd0000"/><stop offset="0.88" stop-color="#ff0f00"/><stop offset="1" stop-color="#ff1c00"/></linearGradient>
<linearGradient id="gd47" gradientUnits="userSpaceOnUse" x1="906.3" y1="1148.92" x2="1409.49" y2="939.25"><stop offset="0" stop-color="#ff7700"/><stop offset="0.12" stop-color="#ff6e00"/><stop offset="0.25" stop-color="#ff4300"/><stop offset="0.38" stop-color="#ff4800"/><stop offset="0.5" stop-color="#ff4d00"/><stop offset="0.62" stop-color="#ff1200"/><stop offset="0.75" stop-color="#d70000"/><stop offset="0.88" stop-color="#ff1d00"/><stop offset="1" stop-color="#ff2a00"/></linearGradient>
<linearGradient id="gd48" gradientUnits="userSpaceOnUse" x1="906.97" y1="1149.65" x2="1410.23" y2="939.92"><stop offset="0" stop-color="#ff7a00"/><stop offset="0.12" stop-color="#ff7400"/><stop offset="0.25" stop-color="#ff5300"/><stop offset="0.38" stop-color="#ff5700"/><stop offset="0.5" stop-color="#ff5b00"/><stop offset="0.62" stop-color="#ff1f00"/><stop offset="0.75" stop-color="#e30000"/><stop offset="0.88" stop-color="#ff2d00"/><stop offset="1" stop-color="#ff3c00"/></linearGradient>
<linearGradient id="gd49" gradientUnits="userSpaceOnUse" x1="907.64" y1="1150.38" x2="1410.98" y2="940.6"><stop offset="0" stop-color="#ff7e00"/><stop offset="0.12" stop-color="#ff7a00"/><stop offset="0.25" stop-color="#ff6600"/><stop offset="0.38" stop-color="#ff6900"/><stop offset="0.5" stop-color="#ff6b00"/><stop offset="0.62" stop-color="#ff2e00"/><stop offset="0.75" stop-color="#f10000"/><stop offset="0.88" stop-color="#ff4100"/><stop offset="1" stop-color="#ff5000"/></linearGradient>
<linearGradient id="gd50" gradientUnits="userSpaceOnUse" x1="908.31" y1="1151.11" x2="1411.72" y2="941.27"><stop offset="0" stop-color="#ffa200"/><stop offset="0.12" stop-color="#ff9b00"/><stop offset="0.25" stop-color="#ff7c00"/><stop offset="0.38" stop-color="#ff7c00"/><stop offset="0.5" stop-color="#ff7c00"/><stop offset="0.62" stop-color="#ff3f00"/><stop offset="0.75" stop-color="#ff0200"/><stop offset="0.88" stop-color="#ff5600"/><stop offset="1" stop-color="#ff6700"/></linearGradient>
<linearGradient id="gd51" gradientUnits="userSpaceOnUse" x1="908.98" y1="1151.84" x2="1412.47" y2="941.95"><stop offset="0" stop-color="#ffd600"/><stop offset="0.12" stop-color="#ffcd00"/><stop offset="0.25" stop-color="#ffa000"/><stop offset="0.38" stop-color="#ffa000"/><stop offset="0.5" stop-color="#ffa000"/><stop offset="0.62" stop-color="#ff5f00"/><stop offset="0.75" stop-color="#ff1e00"/><stop offset="0.88" stop-color="#ff7000"/><stop offset="1" stop-color="#ff8000"/></linearGradient>
<linearGradient id="gd52" gradientUnits="userSpaceOnUse" x1="909.65" y1="1152.57" x2="1413.21" y2="942.62"><stop offset="0" stop-color="#eeff11"/><stop offset="0.12" stop-color="#f9ff06"/><stop offset="0.25" stop-color="#ffca00"/><stop offset="0.38" stop-color="#ffca00"/><stop offset="0.5" stop-color="#ffca00"/><stop offset="0.62" stop-color="#ff8400"/><stop offset="0.75" stop-color="#ff3e00"/><stop offset="0.88" stop-color="#ff8c00"/><stop offset="1" stop-color="#ff9c00"/></linearGradient>
<linearGradient id="gd53" gradientUnits="userSpaceOnUse" x1="910.32" y1="1153.3" x2="1413.95" y2="943.3"><stop offset="0" stop-color="#a6ff59"/><stop offset="0.12" stop-color="#b6ff49"/><stop offset="0.25" stop-color="#fff700"/><stop offset="0.38" stop-color="#fff700"/><stop offset="0.5" stop-color="#fff700"/><stop offset="0.62" stop-color="#ffac00"/><stop offset="0.75" stop-color="#ff6100"/><stop offset="0.88" stop-color="#ffab00"/><stop offset="1" stop-color="#ffba00"/></linearGradient>
<linearGradient id="gd54" gradientUnits="userSpaceOnUse" x1="911" y1="1154.03" x2="1414.7" y2="943.97"><stop offset="0" stop-color="#5affa5"/><stop offset="0.12" stop-color="#6cff93"/><stop offset="0.25" stop-color="#c5ff3a"/><stop offset="0.38" stop-color="#cdff32"/><stop offset="0.5" stop-color="#d5ff2a"/><stop offset="0.62" stop-color="#ffd800"/><stop offset="0.75" stop-color="#ff8700"/><stop offset="0.88" stop-color="#ffcc00"/><stop offset="1" stop-color="#ffda00"/></linearGradient>
<linearGradient id="gd55" gradientUnits="userSpaceOnUse" x1="911.67" y1="1154.76" x2="1415.44" y2="944.65"><stop offset="0" stop-color="#09fff6"/><stop offset="0.12" stop-color="#1cffe3"/><stop offset="0.25" stop-color="#7cff83"/><stop offset="0.38" stop-color="#8eff71"/><stop offset="0.5" stop-color="#9fff60"/><stop offset="0.62" stop-color="#f2ff0d"/><stop offset="0.75" stop-color="#ffb900"/><stop offset="0.88" stop-color="#fff000"/><stop offset="1" stop-color="#fffb00"/></linearGradient>
<linearGradient id="gd56" gradientUnits="userSpaceOnUse" x1="912.34" y1="1155.49" x2="1416.19" y2="945.32"><stop offset="0" stop-color="#00ccff"/><stop offset="0.12" stop-color="#00dcff"/><stop offset="0.25" stop-color="#30ffcf"/><stop offset="0.38" stop-color="#4bffb4"/><stop offset="0.5" stop-color="#67ff98"/><stop offset="0.62" stop-color="#bcff43"/><stop offset="0.75" stop-color="#ffee00"/><stop offset="0.88" stop-color="#dbff24"/><stop offset="1" stop-color="#d0ff2f"/></linearGradient>
<linearGradient id="gd57" gradientUnits="userSpaceOnUse" x1="913.01" y1="1156.22" x2="1416.93" y2="945.99"><stop offset="0" stop-color="#0090ff"/><stop offset="0.12" stop-color="#009eff"/><stop offset="0.25" stop-color="#00e5ff"/><stop offset="0.38" stop-color="#09fff6"/><stop offset="0.5" stop-color="#2cffd3"/><stop offset="0.62" stop-color="#84ff7b"/><stop offset="0.75" stop-color="#dcff23"/><stop offset="0.88" stop-color="#a4ff5b"/><stop offset="1" stop-color="#99ff66"/></linearGradient>
<linearGradient id="gd58" gradientUnits="userSpaceOnUse" x1="913.68" y1="1156.95" x2="1417.67" y2="946.67"><stop offset="0" stop-color="#0051ff"/><stop offset="0.12" stop-color="#005eff"/><stop offset="0.25" stop-color="#00a1ff"/><stop offset="0.38" stop-color="#00c9ff"/><stop offset="0.5" stop-color="#00f1ff"/><stop offset="0.62" stop-color="#4cffb3"/><stop offset="0.75" stop-color="#a6ff59"/><stop offset="0.88" stop-color="#7bff84"/><stop offset="1" stop-color="#73ff8c"/></linearGradient>
<linearGradient id="gd59" gradientUnits="userSpaceOnUse" x1="914.35" y1="1157.68" x2="1418.42" y2="947.34"><stop offset="0" stop-color="#0012ff"/><stop offset="0.12" stop-color="#001eff"/><stop offset="0.25" stop-color="#005aff"/><stop offset="0.38" stop-color="#008bff"/><stop offset="0.5" stop-color="#00bdff"/><stop offset="0.62" stop-color="#16ffe9"/><stop offset="0.75" stop-color="#6fff90"/><stop offset="0.88" stop-color="#5effa1"/><stop offset="1" stop-color="#5bffa4"/></linearGradient>
<linearGradient id="gd60" gradientUnits="userSpaceOnUse" x1="915.02" y1="1158.41" x2="1419.16" y2="948.02"><stop offset="0" stop-color="#0000d1"/><stop offset="0.12" stop-color="#0000dc"/><stop offset="0.25" stop-color="#0014ff"/><stop offset="0.38" stop-color="#004dff"/><stop offset="0.5" stop-color="#0086ff"/><stop offset="0.62" stop-color="#00e7ff"/><stop offset="0.75" stop-color="#4affb5"/><stop offset="0.88" stop-color="#4cffb3"/><stop offset="1" stop-color="#4dffb2"/></linearGradient>
<linearGradient id="gd61" gradientUnits="userSpaceOnUse" x1="915.7" y1="1159.14" x2="1419.91" y2="948.69"><stop offset="0" stop-color="#0000a8"/><stop offset="0.12" stop-color="#0000af"/><stop offset="0.25" stop-color="#0000d1"/><stop offset="0.38" stop-color="#001dff"/><stop offset="0.5" stop-color="#0068ff"/><stop offset="0.62" stop-color="#00d5ff"/><stop offset="0.75" stop-color="#42ffbd"/><stop offset="0.88" stop-color="#4bffb4"/><stop offset="1" stop-color="#4dffb2"/></linearGradient>
<linearGradient id="gd62" gradientUnits="userSpaceOnUse" x1="916.37" y1="1159.87" x2="1420.65" y2="949.37"><stop offset="0" stop-color="#0000a8"/><stop offset="0.12" stop-color="#0000a8"/><stop offset="0.25" stop-color="#0000a8"/><stop offset="0.38" stop-color="#0000fa"/><stop offset="0.5" stop-color="#004dff"/><stop offset="0.62" stop-color="#00c3ff"/><stop offset="0.75" stop-color="#3affc5"/><stop offset="0.88" stop-color="#49ffb6"/><stop offset="1" stop-color="#4dffb2"/></linearGradient>
<linearGradient id="gd63" gradientUnits="userSpaceOnUse" x1="917.04" y1="1160.6" x2="1421.39" y2="950.04"><stop offset="0" stop-color="#0000a8"/><stop offset="0.12" stop-color="#0000a8"/><stop offset="0.25" stop-color="#0000a8"/><stop offset="0.38" stop-color="#0000ed"/><stop offset="0.5" stop-color="#0032ff"/><stop offset="0.62" stop-color="#00b1ff"/><stop offset="0.75" stop-color="#32ffcd"/><stop offset="0.88" stop-color="#48ffb7"/><stop offset="1" stop-color="#4dffb2"/></linearGradient>
<linearGradient id="ge0" gradientUnits="userSpaceOnUse" x1="13.98" y1="1821.88" x2="513.47" y2="1615.71"><stop offset="0" stop-color="#0000a8"/><stop offset="0.12" stop-color="#0000ad"/><stop offset="0.25" stop-color="#0000c7"/><stop offset="0.38" stop-color="#000aff"/><stop offset="0.5" stop-color="#004dff"/><stop offset="0.62" stop-color="#0080ff"/><stop offset="0.75" stop-color="#00b2ff"/><stop offset="0.88" stop-color="#19ffe6"/><stop offset="1" stop-color="#2effd1"/></linearGradient>
<linearGradient id="ge1" gradientUnits="userSpaceOnUse" x1="14.65" y1="1822.62" x2="514.22" y2="1616.4"><stop offset="0" stop-color="#0000a8"/><stop offset="0.12" stop-color="#0000ad"/><stop offset="0.25" stop-color="#0000c7"/><stop offset="0.38" stop-color="#000aff"/><stop offset="0.5" stop-color="#004dff"/><stop offset="0.62" stop-color="#0080ff"/><stop offset="0.75" stop-color="#00b2ff"/><stop offset="0.88" stop-color="#19ffe6"/><stop offset="1" stop-color="#2effd1"/></linearGradient>
<linearGradient id="ge2" gradientUnits="userSpaceOnUse" x1="15.32" y1="1823.35" x2="514.96" y2="1617.08"><stop offset="0" stop-color="#0000a8"/><stop offset="0.12" stop-color="#0000ad"/><stop offset="0.25" stop-color="#0000c7"/><stop offset="0.38" stop-color="#000aff"/><stop offset="0.5" stop-color="#004dff"/><stop offset="0.62" stop-color="#0080ff"/><stop offset="0.75" stop-color="#00b2ff"/><stop offset="0.88" stop-color="#19ffe6"/><stop offset="1" stop-color="#2effd1"/></linearGradient>
<linearGradient id="ge3" gradientUnits="userSpaceOnUse" x1="15.99" y1="1824.09" x2="515.7" y2="1617.76"><stop offset="0" stop-color="#0000a8"/><stop offset="0.12" stop-color="#0000ad"/><stop offset="0.25" stop-color="#0000c7"/><stop offset="0.38" stop-color="#000aff"/><stop offset="0.5" stop-color="#004dff"/><stop offset="0.62" stop-color="#0080ff"/><stop offset="0.75" stop-color="#00b2ff"/><stop offset="0.88" stop-color="#19ffe6"/><stop offset="1" stop-color="#2effd1"/></linearGradient>
<linearGradient id="ge4" gradientUnits="userSpaceOnUse" x1="16.66" y1="1824.83" x2="516.44" y2="1618.44"><stop offset="0" stop-color="#0000a8"/><stop offset="0.12" stop-color="#0000ad"/><stop offset="0.25" stop-color="#0000c7"/><stop offset="0.38" stop-color="#0019ff"/><stop offset="0.5" stop-color="#006aff"/><stop offset="0.62" stop-color="#008eff"/><stop offset="0.75" stop-color="#00b2ff"/><stop offset="0.88" stop-color="#19ffe6"/><stop offset="1" stop-color="#2effd1"/></linearGradient>
<linearGradient id="ge5" gradientUnits="userSpaceOnUse" x1="17.33" y1="1825.57" x2="517.19" y2="1619.13"><stop offset="0" stop-color="#0000ad"/><stop offset="0.12" stop-color="#0000b7"/><stop offset="0.25" stop-color="#0000e9"/><stop offset="0.38" stop-color="#0046ff"/><stop offset="0.5" stop-color="#00a1ff"/><stop offset="0.62" stop-color="#00b9ff"/><stop offset="0.75" stop-color="#00d0ff"/><stop offset="0.88" stop-color="#21ffde"/><stop offset="1" stop-color="#31ffce"/></linearGradient>
<linearGradient id="ge6" gradientUnits="userSpaceOnUse" x1="18" y1="1826.31" x2="517.93" y2="1619.81"><stop offset="0" stop-color="#0000dc"/><stop offset="0.12" stop-color="#0000e6"/><stop offset="0.25" stop-color="#0018ff"/><stop offset="0.38" stop-color="#007bff"/><stop offset="0.5" stop-color="#00deff"/><stop offset="0.62" stop-color="#00ecff"/><stop offset="0.75" stop-color="#00f9ff"/><stop offset="0.88" stop-color="#43ffbc"/><stop offset="1" stop-color="#52ffad"/></linearGradient>
<linearGradient id="ge7" gradientUnits="userSpaceOnUse" x1="18.67" y1="1827.04" x2="518.67" y2="1620.49"><stop offset="0" stop-color="#0010ff"/><stop offset="0.12" stop-color="#001dff"/><stop offset="0.25" stop-color="#005cff"/><stop offset="0.38" stop-color="#00c0ff"/><stop offset="0.5" stop-color="#25ffda"/><stop offset="0.62" stop-color="#2affd5"/><stop offset="0.75" stop-color="#30ffcf"/><stop offset="0.88" stop-color="#6aff95"/><stop offset="1" stop-color="#75ff8a"/></linearGradient>
<linearGradient id="ge8" gradientUnits="userSpaceOnUse" x1="19.34" y1="1827.78" x2="519.41" y2="1621.17"><stop offset="0" stop-color="#0052ff"/><stop offset="0.12" stop-color="#0062ff"/><stop offset="0.25" stop-color="#00b4ff"/><stop offset="0.38" stop-color="#14ffeb"/><stop offset="0.5" stop-color="#73ff8c"/><stop offset="0.62" stop-color="#6fff90"/><stop offset="0.75" stop-color="#6cff93"/><stop offset="0.88" stop-color="#a1ff5e"/><stop offset="1" stop-color="#acff53"/></linearGradient>
<linearGradient id="ge9" gradientUnits="userSpaceOnUse" x1="20.01" y1="1828.52" x2="520.16" y2="1621.86"><stop offset="0" stop-color="#00a5ff"/><stop offset="0.12" stop-color="#00b7ff"/><stop offset="0.25" stop-color="#11ffee"/><stop offset="0.38" stop-color="#65ff9a"/><stop offset="0.5" stop-color="#b9ff46"/><stop offset="0.62" stop-color="#b3ff4c"/><stop offset="0.75" stop-color="#acff53"/><stop offset="0.88" stop-color="#e2ff1d"/><stop offset="1" stop-color="#ecff13"/></linearGradient>
<linearGradient id="ge10" gradientUnits="userSpaceOnUse" x1="20.68" y1="1829.26" x2="520.9" y2="1622.54"><stop offset="0" stop-color="#00fdff"/><stop offset="0.12" stop-color="#11ffee"/><stop offset="0.25" stop-color="#6dff92"/><stop offset="0.38" stop-color="#b7ff48"/><stop offset="0.5" stop-color="#fffc00"/><stop offset="0.62" stop-color="#f9ff06"/><stop offset="0.75" stop-color="#f1ff0e"/><stop offset="0.88" stop-color="#ffde00"/><stop offset="1" stop-color="#ffd500"/></linearGradient>
<linearGradient id="ge11" gradientUnits="userSpaceOnUse" x1="21.35" y1="1829.99" x2="521.64" y2="1623.22"><stop offset="0" stop-color="#54ffab"/><stop offset="0.12" stop-color="#65ff9a"/><stop offset="0.25" stop-color="#baff45"/><stop offset="0.38" stop-color="#fff000"/><stop offset="0.5" stop-color="#ff9b00"/><stop offset="0.62" stop-color="#ffb000"/><stop offset="0.75" stop-color="#ffc400"/><stop offset="0.88" stop-color="#ff9e00"/><stop offset="1" stop-color="#ff9700"/></linearGradient>
<linearGradient id="ge12" gradientUnits="userSpaceOnUse" x1="22.02" y1="1830.73" x2="522.38" y2="1623.9"><stop offset="0" stop-color="#bfff40"/><stop offset="0.12" stop-color="#cbff34"/><stop offset="0.25" stop-color="#fffa00"/><stop offset="0.38" stop-color="#ffae00"/><stop offset="0.5" stop-color="#ff6300"/><stop offset="0.62" stop-color="#ff6b00"/><stop offset="0.75" stop-color="#ff7300"/><stop offset="0.88" stop-color="#ff4000"/><stop offset="1" stop-color="#ff3600"/></linearGradient>
<linearGradient id="ge13" gradientUnits="userSpaceOnUse" x1="22.69" y1="1831.47" x2="523.12" y2="1624.58"><stop offset="0" stop-color="#f3ff0c"/><stop offset="0.12" stop-color="#ffff00"/><stop offset="0.25" stop-color="#ffc700"/><stop offset="0.38" stop-color="#ff6a00"/><stop offset="0.5" stop-color="#ff0d00"/><stop offset="0.62" stop-color="#fe0000"/><stop offset="0.75" stop-color="#f10000"/><stop offset="0.88" stop-color="#c60000"/><stop offset="1" stop-color="#bd0000"/></linearGradient>
<linearGradient id="ge14" gradientUnits="userSpaceOnUse" x1="23.36" y1="1832.21" x2="523.87" y2="1625.27"><stop offset="0" stop-color="#ff9c00"/><stop offset="0.12" stop-color="#ff8a00"/><stop offset="0.25" stop-color="#ff3300"/><stop offset="0.38" stop-color="#ff1a00"/><stop offset="0.5" stop-color="#ff0000"/><stop offset="0.62" stop-color="#e50000"/><stop offset="0.75" stop-color="#cc0000"/><stop offset="0.88" stop-color="#b70000"/><stop offset="1" stop-color="#b30000"/></linearGradient>
<linearGradient id="ge15" gradientUnits="userSpaceOnUse" x1="24.03" y1="1832.95" x2="524.61" y2="1625.95"><stop offset="0" stop-color="#ff6b00"/><stop offset="0.12" stop-color="#ff6200"/><stop offset="0.25" stop-color="#ff3300"/><stop offset="0.38" stop-color="#ff1a00"/><stop offset="0.5" stop-color="#ff0000"/><stop offset="0.62" stop-color="#e50000"/><stop offset="0.75" stop-color="#cc0000"/><stop offset="0.88" stop-color="#b70000"/><stop offset="1" stop-color="#b30000"/></linearGradient>
<linearGradient id="ge16" gradientUnits="userSpaceOnUse" x1="24.7" y1="1833.68" x2="525.35" y2="1626.63"><stop offset="0" stop-color="#ff6b00"/><stop offset="0.12" stop-color="#ff6200"/><stop offset="0.25" stop-color="#ff3300"/><stop offset="0.38" stop-color="#ff1a00"/><stop offset="0.5" stop-color="#ff0000"/><stop offset="0.62" stop-color="#e50000"/><stop offset="0.75" stop-color="#cc0000"/><stop offset="0.88" stop-color="#b70000"/><stop offset="1" stop-color="#b30000"/></linearGradient>
<linearGradient id="ge17" gradientUnits="userSpaceOnUse" x1="25.37" y1="1834.42" x2="526.09" y2="1627.31"><stop offset="0" stop-color="#ff6b00"/><stop offset="0.12" stop-color="#ff6200"/><stop offset="0.25" stop-color="#ff3300"/><stop offset="0.38" stop-color="#ff1a00"/><stop offset="0.5" stop-color="#ff0000"/><stop offset="0.62" stop-color="#e50000"/><stop offset="0.75" stop-color="#cc0000"/><stop offset="0.88" stop-color="#b70000"/><stop offset="1" stop-color="#b30000"/></linearGradient>
<linearGradient id="ge18" gradientUnits="userSpaceOnUse" x1="26.04" y1="1835.16" x2="526.84" y2="1628"><stop offset="0" stop-color="#ff6b00"/><stop offset="0.12" stop-color="#ff6200"/><stop offset="0.25" stop-color="#ff3300"/><stop offset="0.38" stop-color="#ff1a00"/><stop offset="0.5" stop-color="#ff0000"/><stop offset="0.62" stop-color="#e50000"/><stop offset="0.75" stop-color="#cc0000"/><stop offset="0.88" stop-color="#b70000"/><stop offset="1" stop-color="#b30000"/></linearGradient>
<linearGradient id="ge19" gradientUnits="userSpaceOnUse" x1="26.71" y1="1835.9" x2="527.58" y2="1628.68"><stop offset="0" stop-color="#ff6b00"/><stop offset="0.12" stop-color="#ff6200"/><stop offset="0.25" stop-color="#ff3300"/><stop offset="0.38" stop-color="#ff1a00"/><stop offset="0.5" stop-color="#ff0000"/><stop offset="0.62" stop-color="#e50000"/><stop offset="0.75" stop-color="#cc0000"/><stop offset="0.88" stop-color="#b70000"/><stop offset="1" stop-color="#b30000"/></linearGradient>
<linearGradient id="ge20" gradientUnits="userSpaceOnUse" x1="27.38" y1="1836.63" x2="528.32" y2="1629.36"><stop offset="0" stop-color="#ff6b00"/><stop offset="0.12" stop-color="#ff6200"/><stop offset="0.25" stop-color="#ff3300"/><stop offset="0.38" stop-color="#ff1a00"/><stop offset="0.5" stop-color="#ff0000"/><stop offset="0.62" stop-color="#e50000"/><stop offset="0.75" stop-color="#cc0000"/><stop offset="0.88" stop-color="#b70000"/><stop offset="1" stop-color="#b30000"/></linearGradient>
<linearGradient id="ge21" gradientUnits="userSpaceOnUse" x1="28.05" y1="1837.37" x2="529.06" y2="1630.04"><stop offset="0" stop-color="#ff6b00"/><stop offset="0.12" stop-color="#ff6200"/><stop offset="0.25" stop-color="#ff3300"/><stop offset="0.38" stop-color="#ff1a00"/><stop offset="0.5" stop-color="#ff0000"/><stop offset="0.62" stop-color="#e50000"/><stop offset="0.75" stop-color="#cc0000"/><stop offset="0.88" stop-color="#b70000"/><stop offset="1" stop-color="#b30000"/></linearGradient>
<linearGradient id="ge22" gradientUnits="userSpaceOnUse" x1="28.72" y1="1838.11" x2="529.81" y2="1630.73"><stop offset="0" stop-color="#ff6b00"/><stop offset="0.12" stop-color="#ff6200"/><stop offset="0.25" stop-color="#ff3300"/><stop offset="0.38" stop-color="#ff1a00"/><stop offset="0.5" stop-color="#ff0000"/><stop offset="0.62" stop-color="#e50000"/><stop offset="0.75" stop-color="#cc0000"/><stop offset="0.88" stop-color="#b70000"/><stop offset="1" stop-color="#b30000"/></linearGradient>
<linearGradient id="ge23" gradientUnits="userSpaceOnUse" x1="29.39" y1="1838.85" x2="530.55" y2="1631.41"><stop offset="0" stop-color="#ff6a00"/><stop offset="0.12" stop-color="#ff6100"/><stop offset="0.25" stop-color="#ff3400"/><stop offset="0.38" stop-color="#ff1a00"/><stop offset="0.5" stop-color="#ff0000"/><stop offset="0.62" stop-color="#e70000"/><stop offset="0.75" stop-color="#cf0000"/><stop offset="0.88" stop-color="#b90000"/><stop offset="1" stop-color="#b40000"/></linearGradient>
<linearGradient id="ge24" gradientUnits="userSpaceOnUse" x1="30.06" y1="1839.59" x2="531.29" y2="1632.09"><stop offset="0" stop-color="#ff6900"/><stop offset="0.12" stop-color="#ff6000"/><stop offset="0.25" stop-color="#ff3500"/><stop offset="0.38" stop-color="#ff1b00"/><stop offset="0.5" stop-color="#ff0000"/><stop offset="0.62" stop-color="#e90000"/><stop offset="0.75" stop-color="#d30000"/><stop offset="0.88" stop-color="#bc0000"/><stop offset="1" stop-color="#b70000"/></linearGradient>
<linearGradient id="ge25" gradientUnits="userSpaceOnUse" x1="30.73" y1="1840.32" x2="532.03" y2="1632.77"><stop offset="0" stop-color="#ff6700"/><stop offset="0.12" stop-color="#ff5f00"/><stop offset="0.25" stop-color="#ff3700"/><stop offset="0.38" stop-color="#ff1b00"/><stop offset="0.5" stop-color="#ff0000"/><stop offset="0.62" stop-color="#eb0000"/><stop offset="0.75" stop-color="#d70000"/><stop offset="0.88" stop-color="#bf0000"/><stop offset="1" stop-color="#ba0000"/></linearGradient>
<linearGradient id="ge26" gradientUnits="userSpaceOnUse" x1="31.39" y1="1841.06" x2="532.77" y2="1633.46"><stop offset="0" stop-color="#ff6600"/><stop offset="0.12" stop-color="#ff5e00"/><stop offset="0.25" stop-color="#ff3800"/><stop offset="0.38" stop-color="#ff1c00"/><stop offset="0.5" stop-color="#ff0000"/><stop offset="0.62" stop-color="#ed0000"/><stop offset="0.75" stop-color="#db0000"/><stop offset="0.88" stop-color="#c20000"/><stop offset="1" stop-color="#bd0000"/></linearGradient>
<linearGradient id="ge27" gradientUnits="userSpaceOnUse" x1="32.06" y1="1841.8" x2="533.52" y2="1634.14"><stop offset="0" stop-color="#ff6600"/><stop offset="0.12" stop-color="#ff5e00"/><stop offset="0.25" stop-color="#ff3800"/><stop offset="0.38" stop-color="#ff1c00"/><stop offset="0.5" stop-color="#ff0000"/><stop offset="0.62" stop-color="#ed0000"/><stop offset="0.75" stop-color="#db0000"/><stop offset="0.88" stop-color="#c20000"/><stop offset="1" stop-color="#bd0000"/></linearGradient>
<linearGradient id="ge28" gradientUnits="userSpaceOnUse" x1="32.73" y1="1842.54" x2="534.26" y2="1634.82"><stop offset="0" stop-color="#ff6600"/><stop offset="0.12" stop-color="#ff5e00"/><stop offset="0.25" stop-color="#ff3800"/><stop offset="0.38" stop-color="#ff1c00"/><stop offset="0.5" stop-color="#ff0000"/><stop offset="0.62" stop-color="#ed0000"/><stop offset="0.75" stop-color="#db0000"/><stop offset="0.88" stop-color="#c20000"/><stop offset="1" stop-color="#bd0000"/></linearGradient>
<linearGradient id="ge29" gradientUnits="userSpaceOnUse" x1="33.4" y1="1843.27" x2="535" y2="1635.5"><stop offset="0" stop-color="#ff6600"/><stop offset="0.12" stop-color="#ff5e00"/><stop offset="0.25" stop-color="#ff3800"/><stop offset="0.38" stop-color="#ff1c00"/><stop offset="0.5" stop-color="#ff0000"/><stop offset="0.62" stop-color="#ed0000"/><stop offset="0.75" stop-color="#db0000"/><stop offset="0.88" stop-color="#c20000"/><stop offset="1" stop-color="#bd0000"/></linearGradient>
<linearGradient id="ge30" gradientUnits="userSpaceOnUse" x1="34.07" y1="1844.01" x2="535.74" y2="1636.19"><stop offset="0" stop-color="#ff6600"/><stop offset="0.12" stop-color="#ff5e00"/><stop offset="0.25" stop-color="#ff3800"/><stop offset="0.38" stop-color="#ff1c00"/><stop offset="0.5" stop-color="#ff0000"/><stop offset="0.62" stop-color="#ed0000"/><stop offset="0.75" stop-color="#db0000"/><stop offset="0.88" stop-color="#c20000"/><stop offset="1" stop-color="#bd0000"/></linearGradient>
<linearGradient id="ge31" gradientUnits="userSpaceOnUse" x1="34.74" y1="1844.75" x2="536.49" y2="1636.87"><stop offset="0" stop-color="#ff6600"/><stop offset="0.12" stop-color="#ff5e00"/><stop offset="0.25" stop-color="#ff3800"/><stop offset="0.38" stop-color="#ff1c00"/><stop offset="0.5" stop-color="#ff0000"/><stop offset="0.62" stop-color="#ed0000"/><stop offset="0.75" stop-color="#db0000"/><stop offset="0.88" stop-color="#c20000"/><stop offset="1" stop-color="#bd0000"/></linearGradient>
<linearGradient id="ge32" gradientUnits="userSpaceOnUse" x1="35.41" y1="1845.49" x2="537.23" y2="1637.55"><stop offset="0" stop-color="#ff6600"/><stop offset="0.12" stop-color="#ff5e00"/><stop offset="0.25" stop-color="#ff3800"/><stop offset="0.38" stop-color="#ff1c00"/><stop offset="0.5" stop-color="#ff0000"/><stop offset="0.62" stop-color="#ed0000"/><stop offset="0.75" stop-color="#db0000"/><stop offset="0.88" stop-color="#c20000"/><stop offset="1" stop-color="#bd0000"/></linearGradient>
<linearGradient id="ge33" gradientUnits="userSpaceOnUse" x1="36.08" y1="1846.23" x2="537.97" y2="1638.23"><stop offset="0" stop-color="#ff6600"/><stop offset="0.12" stop-color="#ff5e00"/><stop offset="0.25" stop-color="#ff3800"/><stop offset="0.38" stop-color="#ff1c00"/><stop offset="0.5" stop-color="#ff0000"/><stop offset="0.62" stop-color="#ed0000"/><stop offset="0.75" stop-color="#db0000"/><stop offset="0.88" stop-color="#c20000"/><stop offset="1" stop-color="#bd0000"/></linearGradient>
<linearGradient id="ge34" gradientUnits="userSpaceOnUse" x1="36.75" y1="1846.96" x2="538.71" y2="1638.92"><stop offset="0" stop-color="#ff6600"/><stop offset="0.12" stop-color="#ff5e00"/><stop offset="0.25" stop-color="#ff3800"/><stop offset="0.38" stop-color="#ff1c00"/><stop offset="0.5" stop-color="#ff0000"/><stop offset="0.62" stop-color="#ed0000"/><stop offset="0.75" stop-color="#db0000"/><stop offset="0.88" stop-color="#c20000"/><stop offset="1" stop-color="#bd0000"/></linearGradient>
<linearGradient id="ge35" gradientUnits="userSpaceOnUse" x1="37.42" y1="1847.7" x2="539.45" y2="1639.6"><stop offset="0" stop-color="#ff6600"/><stop offset="0.12" stop-color="#ff5e00"/><stop offset="0.25" stop-color="#ff3800"/><stop offset="0.38" stop-color="#ff1c00"/><stop offset="0.5" stop-color="#ff0000"/><stop offset="0.62" stop-color="#ed0000"/><stop offset="0.75" stop-color="#db0000"/><stop offset="0.88" stop-color="#c20000"/><stop offset="1" stop-color="#bd0000"/></linearGradient>
<linearGradient id="ge36" gradientUnits="userSpaceOnUse" x1="38.09" y1="1848.44" x2="540.2" y2="1640.28"><stop offset="0" stop-color="#ff6600"/><stop offset="0.12" stop-color="#ff5e00"/><stop offset="0.25" stop-color="#ff3800"/><stop offset="0.38" stop-color="#ff1c00"/><stop offset="0.5" stop-color="#ff0000"/><stop offset="0.62" stop-color="#ed0000"/><stop offset="0.75" stop-color="#db0000"/><stop offset="0.88" stop-color="#c20000"/><stop offset="1" stop-color="#bd0000"/></linearGradient>
<linearGradient id="ge37" gradientUnits="userSpaceOnUse" x1="38.76" y1="1849.18" x2="540.94" y2="1640.96"><stop offset="0" stop-color="#ff6600"/><stop offset="0.12" stop-color="#ff5e00"/><stop offset="0.25" stop-color="#ff3800"/><stop offset="0.38" stop-color="#ff1c00"/><stop offset="0.5" stop-color="#ff0000"/><stop offset="0.62" stop-color="#ed0000"/><stop offset="0.75" stop-color="#db0000"/><stop offset="0.88" stop-color="#c20000"/><stop offset="1" stop-color="#bd0000"/></linearGradient>
<linearGradient id="ge38" gradientUnits="userSpaceOnUse" x1="39.43" y1="1849.91" x2="541.68" y2="1641.65"><stop offset="0" stop-color="#ff6600"/><stop offset="0.12" stop-color="#ff5e00"/><stop offset="0.25" stop-color="#ff3800"/><stop offset="0.38" stop-color="#ff1c00"/><stop offset="0.5" stop-color="#ff0000"/><stop offset="0.62" stop-color="#ed0000"/><stop offset="0.75" stop-color="#db0000"/><stop offset="0.88" stop-color="#c20000"/><stop offset="1" stop-color="#bd0000"/></linearGradient>
<linearGradient id="ge39" gradientUnits="userSpaceOnUse" x1="40.1" y1="1850.65" x2="542.42" y2="1642.33"><stop offset="0" stop-color="#ff6600"/><stop offset="0.12" stop-color="#ff5e00"/><stop offset="0.25" stop-color="#ff3800"/><stop offset="0.38" stop-color="#ff1c00"/><stop offset="0.5" stop-color="#ff0000"/><stop offset="0.62" stop-color="#ed0000"/><stop offset="0.75" stop-color="#db0000"/><stop offset="0.88" stop-color="#c20000"/><stop offset="1" stop-color="#bd0000"/></linearGradient>
<linearGradient id="ge40" gradientUnits="userSpaceOnUse" x1="40.77" y1="1851.39" x2="543.17" y2="1643.01"><stop offset="0" stop-color="#ff6600"/><stop offset="0.12" stop-color="#ff5e00"/><stop offset="0.25" stop-color="#ff3800"/><stop offset="0.38" stop-color="#ff1c00"/><stop offset="0.5" stop-color="#ff0000"/><stop offset="0.62" stop-color="#ed0000"/><stop offset="0.75" stop-color="#db0000"/><stop offset="0.88" stop-color="#c20000"/><stop offset="1" stop-color="#bd0000"/></linearGradient>
<linearGradient id="ge41" gradientUnits="userSpaceOnUse" x1="41.44" y1="1852.13" x2="543.91" y2="1643.69"><stop offset="0" stop-color="#ff6600"/><stop offset="0.12" stop-color="#ff5e00"/><stop offset="0.25" stop-color="#ff3800"/><stop offset="0.38" stop-color="#ff1c00"/><stop offset="0.5" stop-color="#ff0000"/><stop offset="0.62" stop-color="#ed0000"/><stop offset="0.75" stop-color="#db0000"/><stop offset="0.88" stop-color="#bc0000"/><stop offset="1" stop-color="#b60000"/></linearGradient>
<linearGradient id="ge42" gradientUnits="userSpaceOnUse" x1="42.11" y1="1852.86" x2="544.65" y2="1644.38"><stop offset="0" stop-color="#ff6600"/><stop offset="0.12" stop-color="#ff5e00"/><stop offset="0.25" stop-color="#ff3800"/><stop offset="0.38" stop-color="#ff2400"/><stop offset="0.5" stop-color="#ff1000"/><stop offset="0.62" stop-color="#f50000"/><stop offset="0.75" stop-color="#db0000"/><stop offset="0.88" stop-color="#a90000"/><stop offset="1" stop-color="#9f0000"/></linearGradient>
<linearGradient id="ge43" gradientUnits="userSpaceOnUse" x1="42.78" y1="1853.6" x2="545.39" y2="1645.06"><stop offset="0" stop-color="#ff6600"/><stop offset="0.12" stop-color="#ff5e00"/><stop offset="0.25" stop-color="#ff3800"/><stop offset="0.38" stop-color="#ff3000"/><stop offset="0.5" stop-color="#ff2900"/><stop offset="0.62" stop-color="#ff0300"/><stop offset="0.75" stop-color="#db0000"/><stop offset="0.88" stop-color="#ca0000"/><stop offset="1" stop-color="#c70000"/></linearGradient>
<linearGradient id="ge44" gradientUnits="userSpaceOnUse" x1="43.45" y1="1854.34" x2="546.14" y2="1645.74"><stop offset="0" stop-color="#ff9a00"/><stop offset="0.12" stop-color="#ff8a00"/><stop offset="0.25" stop-color="#ff3800"/><stop offset="0.38" stop-color="#ff3d00"/><stop offset="0.5" stop-color="#ff4200"/><stop offset="0.62" stop-color="#ff0f00"/><stop offset="0.75" stop-color="#db0000"/><stop offset="0.88" stop-color="#eb0000"/><stop offset="1" stop-color="#ef0000"/></linearGradient>
<linearGradient id="ge45" gradientUnits="userSpaceOnUse" x1="44.12" y1="1855.08" x2="546.88" y2="1646.42"><stop offset="0" stop-color="#ffa400"/><stop offset="0.12" stop-color="#ff9200"/><stop offset="0.25" stop-color="#ff3800"/><stop offset="0.38" stop-color="#ff4000"/><stop offset="0.5" stop-color="#ff4900"/><stop offset="0.62" stop-color="#ff1300"/><stop offset="0.75" stop-color="#db0000"/><stop offset="0.88" stop-color="#f50000"/><stop offset="1" stop-color="#fa0000"/></linearGradient>
<linearGradient id="ge46" gradientUnits="userSpaceOnUse" x1="44.79" y1="1855.82" x2="547.62" y2="1647.11"><stop offset="0" stop-color="#ffb000"/><stop offset="0.12" stop-color="#ff9c00"/><stop offset="0.25" stop-color="#ff3800"/><stop offset="0.38" stop-color="#ff4a00"/><stop offset="0.5" stop-color="#ff5b00"/><stop offset="0.62" stop-color="#ff1900"/><stop offset="0.75" stop-color="#d70000"/><stop offset="0.88" stop-color="#ff0100"/><stop offset="1" stop-color="#ff0900"/></linearGradient>
<linearGradient id="ge47" gradientUnits="userSpaceOnUse" x1="45.46" y1="1856.55" x2="548.36" y2="1647.79"><stop offset="0" stop-color="#ffc000"/><stop offset="0.12" stop-color="#ffab00"/><stop offset="0.25" stop-color="#ff3f00"/><stop offset="0.38" stop-color="#ff5e00"/><stop offset="0.5" stop-color="#ff7c00"/><stop offset="0.62" stop-color="#ff2500"/><stop offset="0.75" stop-color="#cd0000"/><stop offset="0.88" stop-color="#ff0e00"/><stop offset="1" stop-color="#ff1b00"/></linearGradient>
<linearGradient id="ge48" gradientUnits="userSpaceOnUse" x1="46.13" y1="1857.29" x2="549.1" y2="1648.47"><stop offset="0" stop-color="#ffd300"/><stop offset="0.12" stop-color="#ffbd00"/><stop offset="0.25" stop-color="#ff5000"/><stop offset="0.38" stop-color="#ff7a00"/><stop offset="0.5" stop-color="#ffa400"/><stop offset="0.62" stop-color="#ff3900"/><stop offset="0.75" stop-color="#ce0000"/><stop offset="0.88" stop-color="#ff2100"/><stop offset="1" stop-color="#ff3200"/></linearGradient>
<linearGradient id="ge49" gradientUnits="userSpaceOnUse" x1="46.8" y1="1858.03" x2="549.85" y2="1649.15"><stop offset="0" stop-color="#ffe900"/><stop offset="0.12" stop-color="#ffd300"/><stop offset="0.25" stop-color="#ff6300"/><stop offset="0.38" stop-color="#ff9a00"/><stop offset="0.5" stop-color="#ffd100"/><stop offset="0.62" stop-color="#ff5700"/><stop offset="0.75" stop-color="#dd0000"/><stop offset="0.88" stop-color="#ff3900"/><stop offset="1" stop-color="#ff4c00"/></linearGradient>
<linearGradient id="ge50" gradientUnits="userSpaceOnUse" x1="47.47" y1="1858.77" x2="550.59" y2="1649.84"><stop offset="0" stop-color="#fbff04"/><stop offset="0.12" stop-color="#ffec00"/><stop offset="0.25" stop-color="#ff7800"/><stop offset="0.38" stop-color="#ffbd00"/><stop offset="0.5" stop-color="#fbff04"/><stop offset="0.62" stop-color="#ff7900"/><stop offset="0.75" stop-color="#ed0000"/><stop offset="0.88" stop-color="#ff5400"/><stop offset="1" stop-color="#ff6800"/></linearGradient>
<linearGradient id="ge51" gradientUnits="userSpaceOnUse" x1="48.14" y1="1859.5" x2="551.33" y2="1650.52"><stop offset="0" stop-color="#c2ff3d"/><stop offset="0.12" stop-color="#ddff22"/><stop offset="0.25" stop-color="#ff9d00"/><stop offset="0.38" stop-color="#ffea00"/><stop offset="0.5" stop-color="#c7ff38"/><stop offset="0.62" stop-color="#ff9c00"/><stop offset="0.75" stop-color="#ff0000"/><stop offset="0.88" stop-color="#ff7300"/><stop offset="1" stop-color="#ff8900"/></linearGradient>
<linearGradient id="ge52" gradientUnits="userSpaceOnUse" x1="48.81" y1="1860.24" x2="552.07" y2="1651.2"><stop offset="0" stop-color="#85ff7a"/><stop offset="0.12" stop-color="#a2ff5d"/><stop offset="0.25" stop-color="#ffcd00"/><stop offset="0.38" stop-color="#e0ff1f"/><stop offset="0.5" stop-color="#90ff6f"/><stop offset="0.62" stop-color="#ffc100"/><stop offset="0.75" stop-color="#ff1400"/><stop offset="0.88" stop-color="#ff9900"/><stop offset="1" stop-color="#ffb300"/></linearGradient>
<linearGradient id="ge53" gradientUnits="userSpaceOnUse" x1="49.48" y1="1860.98" x2="552.82" y2="1651.88"><stop offset="0" stop-color="#45ffba"/><stop offset="0.12" stop-color="#63ff9c"/><stop offset="0.25" stop-color="#feff01"/><stop offset="0.38" stop-color="#a9ff56"/><stop offset="0.5" stop-color="#54ffab"/><stop offset="0.62" stop-color="#ffef00"/><stop offset="0.75" stop-color="#ff3400"/><stop offset="0.88" stop-color="#ffc300"/><stop offset="1" stop-color="#ffe000"/></linearGradient>
<linearGradient id="ge54" gradientUnits="userSpaceOnUse" x1="50.15" y1="1861.72" x2="553.56" y2="1652.57"><stop offset="0" stop-color="#00ffff"/><stop offset="0.12" stop-color="#20ffdf"/><stop offset="0.25" stop-color="#bfff40"/><stop offset="0.38" stop-color="#6aff95"/><stop offset="0.5" stop-color="#15ffea"/><stop offset="0.62" stop-color="#ddff22"/><stop offset="0.75" stop-color="#ff5900"/><stop offset="0.88" stop-color="#ffef00"/><stop offset="1" stop-color="#f1ff0e"/></linearGradient>
<linearGradient id="ge55" gradientUnits="userSpaceOnUse" x1="50.82" y1="1862.46" x2="554.3" y2="1653.25"><stop offset="0" stop-color="#00bfff"/><stop offset="0.12" stop-color="#00deff"/><stop offset="0.25" stop-color="#7dff82"/><stop offset="0.38" stop-color="#2cffd3"/><stop offset="0.5" stop-color="#00daff"/><stop offset="0.62" stop-color="#acff53"/><stop offset="0.75" stop-color="#ff8100"/><stop offset="0.88" stop-color="#e5ff1a"/><stop offset="1" stop-color="#c6ff39"/></linearGradient>
<linearGradient id="ge56" gradientUnits="userSpaceOnUse" x1="51.49" y1="1863.19" x2="555.04" y2="1653.93"><stop offset="0" stop-color="#007cff"/><stop offset="0.12" stop-color="#009bff"/><stop offset="0.25" stop-color="#38ffc7"/><stop offset="0.38" stop-color="#00ecff"/><stop offset="0.5" stop-color="#00a1ff"/><stop offset="0.62" stop-color="#75ff8a"/><stop offset="0.75" stop-color="#ffb500"/><stop offset="0.88" stop-color="#b7ff48"/><stop offset="1" stop-color="#9aff65"/></linearGradient>
<linearGradient id="ge57" gradientUnits="userSpaceOnUse" x1="52.16" y1="1863.93" x2="555.79" y2="1654.61"><stop offset="0" stop-color="#0036ff"/><stop offset="0.12" stop-color="#0055ff"/><stop offset="0.25" stop-color="#00efff"/><stop offset="0.38" stop-color="#00aaff"/><stop offset="0.5" stop-color="#0066ff"/><stop offset="0.62" stop-color="#3dffc2"/><stop offset="0.75" stop-color="#ffec00"/><stop offset="0.88" stop-color="#87ff78"/><stop offset="1" stop-color="#6bff94"/></linearGradient>
<linearGradient id="ge58" gradientUnits="userSpaceOnUse" x1="52.83" y1="1864.67" x2="556.53" y2="1655.3"><stop offset="0" stop-color="#0008ff"/><stop offset="0.12" stop-color="#0022ff"/><stop offset="0.25" stop-color="#00a5ff"/><stop offset="0.38" stop-color="#0068ff"/><stop offset="0.5" stop-color="#002bff"/><stop offset="0.62" stop-color="#00fcff"/><stop offset="0.75" stop-color="#ceff31"/><stop offset="0.88" stop-color="#5cffa3"/><stop offset="1" stop-color="#45ffba"/></linearGradient>
<linearGradient id="ge59" gradientUnits="userSpaceOnUse" x1="53.5" y1="1865.41" x2="557.27" y2="1655.98"><stop offset="0" stop-color="#0000d9"/><stop offset="0.12" stop-color="#0000ee"/><stop offset="0.25" stop-color="#0058ff"/><stop offset="0.38" stop-color="#002eff"/><stop offset="0.5" stop-color="#0005ff"/><stop offset="0.62" stop-color="#00c2ff"/><stop offset="0.75" stop-color="#80ff7f"/><stop offset="0.88" stop-color="#3dffc2"/><stop offset="1" stop-color="#30ffcf"/></linearGradient>
<linearGradient id="ge60" gradientUnits="userSpaceOnUse" x1="54.17" y1="1866.14" x2="558.01" y2="1656.66"><stop offset="0" stop-color="#0000ab"/><stop offset="0.12" stop-color="#0000bc"/><stop offset="0.25" stop-color="#0010ff"/><stop offset="0.38" stop-color="#0000f6"/><stop offset="0.5" stop-color="#0000dd"/><stop offset="0.62" stop-color="#0086ff"/><stop offset="0.75" stop-color="#2fffd0"/><stop offset="0.88" stop-color="#1effe1"/><stop offset="1" stop-color="#1bffe4"/></linearGradient>
<linearGradient id="ge61" gradientUnits="userSpaceOnUse" x1="54.84" y1="1866.88" x2="558.75" y2="1657.34"><stop offset="0" stop-color="#0000a8"/><stop offset="0.12" stop-color="#0000af"/><stop offset="0.25" stop-color="#0000ce"/><stop offset="0.38" stop-color="#0000c2"/><stop offset="0.5" stop-color="#0000b6"/><stop offset="0.62" stop-color="#0055ff"/><stop offset="0.75" stop-color="#00f4ff"/><stop offset="0.88" stop-color="#13ffec"/><stop offset="1" stop-color="#1affe5"/></linearGradient>
<linearGradient id="ge62" gradientUnits="userSpaceOnUse" x1="55.51" y1="1867.62" x2="559.5" y2="1658.03"><stop offset="0" stop-color="#0000a8"/><stop offset="0.12" stop-color="#0000a8"/><stop offset="0.25" stop-color="#0000a8"/><stop offset="0.38" stop-color="#0000ad"/><stop offset="0.5" stop-color="#0000b2"/><stop offset="0.62" stop-color="#0047ff"/><stop offset="0.75" stop-color="#00daff"/><stop offset="0.88" stop-color="#0ffff0"/><stop offset="1" stop-color="#1affe5"/></linearGradient>
<linearGradient id="ge63" gradientUnits="userSpaceOnUse" x1="56.18" y1="1868.36" x2="560.24" y2="1658.71"><stop offset="0" stop-color="#0000a8"/><stop offset="0.12" stop-color="#0000a8"/><stop offset="0.25" stop-color="#0000a8"/><stop offset="0.38" stop-color="#0000ad"/><stop offset="0.5" stop-color="#0000b2"/><stop offset="0.62" stop-color="#003aff"/><stop offset="0.75" stop-color="#00c0ff"/><stop offset="0.88" stop-color="#0bfff4"/><stop offset="1" stop-color="#1affe5"/></linearGradient>
<linearGradient id="gf0" gradientUnits="userSpaceOnUse" x1="874.7" y1="1822.3" x2="1374.49" y2="1615.74"><stop offset="0" stop-color="#0000a8"/><stop offset="0.12" stop-color="#0000a8"/><stop offset="0.25" stop-color="#0000a8"/><stop offset="0.38" stop-color="#0000c7"/><stop offset="0.5" stop-color="#0000e6"/><stop offset="0.62" stop-color="#002eff"/><stop offset="0.75" stop-color="#0075ff"/><stop offset="0.88" stop-color="#00c2ff"/><stop offset="1" stop-color="#00d1ff"/></linearGradient>
<linearGradient id="gf1" gradientUnits="userSpaceOnUse" x1="875.37" y1="1823.03" x2="1375.23" y2="1616.41"><stop offset="0" stop-color="#0000a8"/><stop offset="0.12" stop-color="#0000a8"/><stop offset="0.25" stop-color="#0000a8"/><stop offset="0.38" stop-color="#0000c7"/><stop offset="0.5" stop-color="#0000e6"/><stop offset="0.62" stop-color="#002eff"/><stop offset="0.75" stop-color="#0075ff"/><stop offset="0.88" stop-color="#00c2ff"/><stop offset="1" stop-color="#00d1ff"/></linearGradient>
<linearGradient id="gf2" gradientUnits="userSpaceOnUse" x1="876.04" y1="1823.76" x2="1375.98" y2="1617.08"><stop offset="0" stop-color="#0000a8"/><stop offset="0.12" stop-color="#0000a8"/><stop offset="0.25" stop-color="#0000a8"/><stop offset="0.38" stop-color="#0000c7"/><stop offset="0.5" stop-color="#0000e6"/><stop offset="0.62" stop-color="#002eff"/><stop offset="0.75" stop-color="#0075ff"/><stop offset="0.88" stop-color="#00c2ff"/><stop offset="1" stop-color="#00d1ff"/></linearGradient>
<linearGradient id="gf3" gradientUnits="userSpaceOnUse" x1="876.71" y1="1824.48" x2="1376.72" y2="1617.75"><stop offset="0" stop-color="#0000a8"/><stop offset="0.12" stop-color="#0000a8"/><stop offset="0.25" stop-color="#0000a8"/><stop offset="0.38" stop-color="#0000c7"/><stop offset="0.5" stop-color="#0000e6"/><stop offset="0.62" stop-color="#002eff"/><stop offset="0.75" stop-color="#0075ff"/><stop offset="0.88" stop-color="#00c2ff"/><stop offset="1" stop-color="#00d1ff"/></linearGradient>
<linearGradient id="gf4" gradientUnits="userSpaceOnUse" x1="877.39" y1="1825.21" x2="1377.46" y2="1618.42"><stop offset="0" stop-color="#0000a8"/><stop offset="0.12" stop-color="#0000a8"/><stop offset="0.25" stop-color="#0000a8"/><stop offset="0.38" stop-color="#0000c7"/><stop offset="0.5" stop-color="#0000e6"/><stop offset="0.62" stop-color="#002eff"/><stop offset="0.75" stop-color="#0075ff"/><stop offset="0.88" stop-color="#00c2ff"/><stop offset="1" stop-color="#00d1ff"/></linearGradient>
<linearGradient id="gf5" gradientUnits="userSpaceOnUse" x1="878.06" y1="1825.93" x2="1378.21" y2="1619.09"><stop offset="0" stop-color="#0000a8"/><stop offset="0.12" stop-color="#0000a8"/><stop offset="0.25" stop-color="#0000a8"/><stop offset="0.38" stop-color="#0000d7"/><stop offset="0.5" stop-color="#0006ff"/><stop offset="0.62" stop-color="#003fff"/><stop offset="0.75" stop-color="#0078ff"/><stop offset="0.88" stop-color="#00c3ff"/><stop offset="1" stop-color="#00d2ff"/></linearGradient>
<linearGradient id="gf6" gradientUnits="userSpaceOnUse" x1="878.73" y1="1826.66" x2="1378.95" y2="1619.76"><stop offset="0" stop-color="#0000a8"/><stop offset="0.12" stop-color="#0000a8"/><stop offset="0.25" stop-color="#0000a8"/><stop offset="0.38" stop-color="#0000ed"/><stop offset="0.5" stop-color="#0033ff"/><stop offset="0.62" stop-color="#006eff"/><stop offset="0.75" stop-color="#00a8ff"/><stop offset="0.88" stop-color="#00ddff"/><stop offset="1" stop-color="#00e7ff"/></linearGradient>
<linearGradient id="gf7" gradientUnits="userSpaceOnUse" x1="879.4" y1="1827.38" x2="1379.69" y2="1620.43"><stop offset="0" stop-color="#0000a8"/><stop offset="0.12" stop-color="#0000b0"/><stop offset="0.25" stop-color="#0000d5"/><stop offset="0.38" stop-color="#0022ff"/><stop offset="0.5" stop-color="#006eff"/><stop offset="0.62" stop-color="#00a6ff"/><stop offset="0.75" stop-color="#00deff"/><stop offset="0.88" stop-color="#00f9ff"/><stop offset="1" stop-color="#00feff"/></linearGradient>
<linearGradient id="gf8" gradientUnits="userSpaceOnUse" x1="880.07" y1="1828.11" x2="1380.44" y2="1621.1"><stop offset="0" stop-color="#0000c9"/><stop offset="0.12" stop-color="#0000d6"/><stop offset="0.25" stop-color="#0013ff"/><stop offset="0.38" stop-color="#0065ff"/><stop offset="0.5" stop-color="#00b7ff"/><stop offset="0.62" stop-color="#00ebff"/><stop offset="0.75" stop-color="#20ffdf"/><stop offset="0.88" stop-color="#42ffbd"/><stop offset="1" stop-color="#49ffb6"/></linearGradient>
<linearGradient id="gf9" gradientUnits="userSpaceOnUse" x1="880.74" y1="1828.83" x2="1381.18" y2="1621.77"><stop offset="0" stop-color="#0002ff"/><stop offset="0.12" stop-color="#0012ff"/><stop offset="0.25" stop-color="#005fff"/><stop offset="0.38" stop-color="#00b2ff"/><stop offset="0.5" stop-color="#07fff8"/><stop offset="0.62" stop-color="#3cffc3"/><stop offset="0.75" stop-color="#72ff8d"/><stop offset="0.88" stop-color="#91ff6e"/><stop offset="1" stop-color="#98ff67"/></linearGradient>
<linearGradient id="gf10" gradientUnits="userSpaceOnUse" x1="881.41" y1="1829.56" x2="1381.92" y2="1622.44"><stop offset="0" stop-color="#006dff"/><stop offset="0.12" stop-color="#007aff"/><stop offset="0.25" stop-color="#00b7ff"/><stop offset="0.38" stop-color="#0cfff3"/><stop offset="0.5" stop-color="#61ff9e"/><stop offset="0.62" stop-color="#8dff72"/><stop offset="0.75" stop-color="#baff45"/><stop offset="0.88" stop-color="#deff21"/><stop offset="1" stop-color="#e5ff1a"/></linearGradient>
<linearGradient id="gf11" gradientUnits="userSpaceOnUse" x1="882.08" y1="1830.28" x2="1382.67" y2="1623.11"><stop offset="0" stop-color="#00ffff"/><stop offset="0.12" stop-color="#04fffb"/><stop offset="0.25" stop-color="#16ffe9"/><stop offset="0.38" stop-color="#6bff94"/><stop offset="0.5" stop-color="#c0ff3f"/><stop offset="0.62" stop-color="#e2ff1d"/><stop offset="0.75" stop-color="#fffa00"/><stop offset="0.88" stop-color="#ffd600"/><stop offset="1" stop-color="#ffcf00"/></linearGradient>
<linearGradient id="gf12" gradientUnits="userSpaceOnUse" x1="882.75" y1="1831.01" x2="1383.41" y2="1623.78"><stop offset="0" stop-color="#3dffc2"/><stop offset="0.12" stop-color="#47ffb8"/><stop offset="0.25" stop-color="#7aff85"/><stop offset="0.38" stop-color="#c6ff39"/><stop offset="0.5" stop-color="#ffec00"/><stop offset="0.62" stop-color="#ffc300"/><stop offset="0.75" stop-color="#ff9900"/><stop offset="0.88" stop-color="#ff8700"/><stop offset="1" stop-color="#ff8400"/></linearGradient>
<linearGradient id="gf13" gradientUnits="userSpaceOnUse" x1="883.42" y1="1831.74" x2="1384.15" y2="1624.45"><stop offset="0" stop-color="#7cff83"/><stop offset="0.12" stop-color="#85ff7a"/><stop offset="0.25" stop-color="#b3ff4c"/><stop offset="0.38" stop-color="#fcff03"/><stop offset="0.5" stop-color="#ffb800"/><stop offset="0.62" stop-color="#ff6d00"/><stop offset="0.75" stop-color="#ff2100"/><stop offset="0.88" stop-color="#ff1700"/><stop offset="1" stop-color="#ff1500"/></linearGradient>
<linearGradient id="gf14" gradientUnits="userSpaceOnUse" x1="884.09" y1="1832.46" x2="1384.9" y2="1625.12"><stop offset="0" stop-color="#ffd000"/><stop offset="0.12" stop-color="#ffc100"/><stop offset="0.25" stop-color="#ff7500"/><stop offset="0.38" stop-color="#ff4200"/><stop offset="0.5" stop-color="#ff0f00"/><stop offset="0.62" stop-color="#ed0000"/><stop offset="0.75" stop-color="#cc0000"/><stop offset="0.88" stop-color="#c00000"/><stop offset="1" stop-color="#bd0000"/></linearGradient>
<linearGradient id="gf15" gradientUnits="userSpaceOnUse" x1="884.76" y1="1833.19" x2="1385.64" y2="1625.79"><stop offset="0" stop-color="#ffb300"/><stop offset="0.12" stop-color="#ffa800"/><stop offset="0.25" stop-color="#ff7500"/><stop offset="0.38" stop-color="#ff4200"/><stop offset="0.5" stop-color="#ff0f00"/><stop offset="0.62" stop-color="#ed0000"/><stop offset="0.75" stop-color="#cc0000"/><stop offset="0.88" stop-color="#b70000"/><stop offset="1" stop-color="#b30000"/></linearGradient>
<linearGradient id="gf16" gradientUnits="userSpaceOnUse" x1="885.43" y1="1833.91" x2="1386.38" y2="1626.46"><stop offset="0" stop-color="#ffb300"/><stop offset="0.12" stop-color="#ffa800"/><stop offset="0.25" stop-color="#ff7500"/><stop offset="0.38" stop-color="#ff4200"/><stop offset="0.5" stop-color="#ff0f00"/><stop offset="0.62" stop-color="#ed0000"/><stop offset="0.75" stop-color="#cc0000"/><stop offset="0.88" stop-color="#b70000"/><stop offset="1" stop-color="#b30000"/></linearGradient>
<linearGradient id="gf17" gradientUnits="userSpaceOnUse" x1="886.1" y1="1834.64" x2="1387.12" y2="1627.13"><stop offset="0" stop-color="#ffb300"/><stop offset="0.12" stop-color="#ffa800"/><stop offset="0.25" stop-color="#ff7500"/><stop offset="0.38" stop-color="#ff4200"/><stop offset="0.5" stop-color="#ff0f00"/><stop offset="0.62" stop-color="#ed0000"/><stop offset="0.75" stop-color="#cc0000"/><stop offset="0.88" stop-color="#b70000"/><stop offset="1" stop-color="#b30000"/></linearGradient>
<linearGradient id="gf18" gradientUnits="userSpaceOnUse" x1="886.77" y1="1835.36" x2="1387.87" y2="1627.8"><stop offset="0" stop-color="#ffb300"/><stop offset="0.12" stop-color="#ffa800"/><stop offset="0.25" stop-color="#ff7500"/><stop offset="0.38" stop-color="#ff4200"/><stop offset="0.5" stop-color="#ff0f00"/><stop offset="0.62" stop-color="#ed0000"/><stop offset="0.75" stop-color="#cc0000"/><stop offset="0.88" stop-color="#b70000"/><stop offset="1" stop-color="#b30000"/></linearGradient>
<linearGradient id="gf19" gradientUnits="userSpaceOnUse" x1="887.44" y1="1836.09" x2="1388.61" y2="1628.47"><stop offset="0" stop-color="#ffb300"/><stop offset="0.12" stop-color="#ffa800"/><stop offset="0.25" stop-color="#ff7500"/><stop offset="0.38" stop-color="#ff4200"/><stop offset="0.5" stop-color="#ff0f00"/><stop offset="0.62" stop-color="#ed0000"/><stop offset="0.75" stop-color="#cc0000"/><stop offset="0.88" stop-color="#b70000"/><stop offset="1" stop-color="#b30000"/></linearGradient>
<linearGradient id="gf20" gradientUnits="userSpaceOnUse" x1="888.12" y1="1836.81" x2="1389.35" y2="1629.14"><stop offset="0" stop-color="#ffb300"/><stop offset="0.12" stop-color="#ffa800"/><stop offset="0.25" stop-color="#ff7500"/><stop offset="0.38" stop-color="#ff4200"/><stop offset="0.5" stop-color="#ff0f00"/><stop offset="0.62" stop-color="#ed0000"/><stop offset="0.75" stop-color="#cc0000"/><stop offset="0.88" stop-color="#b70000"/><stop offset="1" stop-color="#b30000"/></linearGradient>
<linearGradient id="gf21" gradientUnits="userSpaceOnUse" x1="888.79" y1="1837.54" x2="1390.1" y2="1629.81"><stop offset="0" stop-color="#ffb300"/><stop offset="0.12" stop-color="#ffa800"/><stop offset="0.25" stop-color="#ff7500"/><stop offset="0.38" stop-color="#ff4200"/><stop offset="0.5" stop-color="#ff0f00"/><stop offset="0.62" stop-color="#ed0000"/><stop offset="0.75" stop-color="#cc0000"/><stop offset="0.88" stop-color="#b70000"/><stop offset="1" stop-color="#b30000"/></linearGradient>
<linearGradient id="gf22" gradientUnits="userSpaceOnUse" x1="889.46" y1="1838.27" x2="1390.84" y2="1630.48"><stop offset="0" stop-color="#ffb300"/><stop offset="0.12" stop-color="#ffa800"/><stop offset="0.25" stop-color="#ff7500"/><stop offset="0.38" stop-color="#ff4200"/><stop offset="0.5" stop-color="#ff0f00"/><stop offset="0.62" stop-color="#ed0000"/><stop offset="0.75" stop-color="#cc0000"/><stop offset="0.88" stop-color="#b70000"/><stop offset="1" stop-color="#b30000"/></linearGradient>
<linearGradient id="gf23" gradientUnits="userSpaceOnUse" x1="890.13" y1="1838.99" x2="1391.58" y2="1631.15"><stop offset="0" stop-color="#ffae00"/><stop offset="0.12" stop-color="#ffa400"/><stop offset="0.25" stop-color="#ff7200"/><stop offset="0.38" stop-color="#ff4000"/><stop offset="0.5" stop-color="#ff0f00"/><stop offset="0.62" stop-color="#ee0000"/><stop offset="0.75" stop-color="#ce0000"/><stop offset="0.88" stop-color="#b70000"/><stop offset="1" stop-color="#b30000"/></linearGradient>
<linearGradient id="gf24" gradientUnits="userSpaceOnUse" x1="890.8" y1="1839.72" x2="1392.33" y2="1631.82"><stop offset="0" stop-color="#ffa500"/><stop offset="0.12" stop-color="#ff9b00"/><stop offset="0.25" stop-color="#ff6900"/><stop offset="0.38" stop-color="#ff3c00"/><stop offset="0.5" stop-color="#ff0f00"/><stop offset="0.62" stop-color="#f00000"/><stop offset="0.75" stop-color="#d20000"/><stop offset="0.88" stop-color="#b90000"/><stop offset="1" stop-color="#b40000"/></linearGradient>
<linearGradient id="gf25" gradientUnits="userSpaceOnUse" x1="891.47" y1="1840.44" x2="1393.07" y2="1632.49"><stop offset="0" stop-color="#ff9c00"/><stop offset="0.12" stop-color="#ff9200"/><stop offset="0.25" stop-color="#ff6100"/><stop offset="0.38" stop-color="#ff3800"/><stop offset="0.5" stop-color="#ff0f00"/><stop offset="0.62" stop-color="#f20000"/><stop offset="0.75" stop-color="#d60000"/><stop offset="0.88" stop-color="#bb0000"/><stop offset="1" stop-color="#b50000"/></linearGradient>
<linearGradient id="gf26" gradientUnits="userSpaceOnUse" x1="892.14" y1="1841.17" x2="1393.81" y2="1633.16"><stop offset="0" stop-color="#ff9200"/><stop offset="0.12" stop-color="#ff8900"/><stop offset="0.25" stop-color="#ff5900"/><stop offset="0.38" stop-color="#ff3400"/><stop offset="0.5" stop-color="#ff0f00"/><stop offset="0.62" stop-color="#f40000"/><stop offset="0.75" stop-color="#da0000"/><stop offset="0.88" stop-color="#bc0000"/><stop offset="1" stop-color="#b70000"/></linearGradient>
<linearGradient id="gf27" gradientUnits="userSpaceOnUse" x1="892.81" y1="1841.89" x2="1394.56" y2="1633.83"><stop offset="0" stop-color="#ff8a00"/><stop offset="0.12" stop-color="#ff8100"/><stop offset="0.25" stop-color="#ff5700"/><stop offset="0.38" stop-color="#ff3300"/><stop offset="0.5" stop-color="#ff0f00"/><stop offset="0.62" stop-color="#f50000"/><stop offset="0.75" stop-color="#db0000"/><stop offset="0.88" stop-color="#be0000"/><stop offset="1" stop-color="#b80000"/></linearGradient>
<linearGradient id="gf28" gradientUnits="userSpaceOnUse" x1="893.48" y1="1842.62" x2="1395.3" y2="1634.5"><stop offset="0" stop-color="#ff8a00"/><stop offset="0.12" stop-color="#ff8100"/><stop offset="0.25" stop-color="#ff5700"/><stop offset="0.38" stop-color="#ff3300"/><stop offset="0.5" stop-color="#ff0f00"/><stop offset="0.62" stop-color="#f50000"/><stop offset="0.75" stop-color="#db0000"/><stop offset="0.88" stop-color="#be0000"/><stop offset="1" stop-color="#b80000"/></linearGradient>
<linearGradient id="gf29" gradientUnits="userSpaceOnUse" x1="894.15" y1="1843.34" x2="1396.04" y2="1635.17"><stop offset="0" stop-color="#ff8a00"/><stop offset="0.12" stop-color="#ff8100"/><stop offset="0.25" stop-color="#ff5700"/><stop offset="0.38" stop-color="#ff3300"/><stop offset="0.5" stop-color="#ff0f00"/><stop offset="0.62" stop-color="#f50000"/><stop offset="0.75" stop-color="#db0000"/><stop offset="0.88" stop-color="#be0000"/><stop offset="1" stop-color="#b80000"/></linearGradient>
<linearGradient id="gf30" gradientUnits="userSpaceOnUse" x1="894.82" y1="1844.07" x2="1396.79" y2="1635.84"><stop offset="0" stop-color="#ff8a00"/><stop offset="0.12" stop-color="#ff8100"/><stop offset="0.25" stop-color="#ff5700"/><stop offset="0.38" stop-color="#ff3300"/><stop offset="0.5" stop-color="#ff0f00"/><stop offset="0.62" stop-color="#f50000"/><stop offset="0.75" stop-color="#db0000"/><stop offset="0.88" stop-color="#be0000"/><stop offset="1" stop-color="#b80000"/></linearGradient>
<linearGradient id="gf31" gradientUnits="userSpaceOnUse" x1="895.49" y1="1844.79" x2="1397.53" y2="1636.51"><stop offset="0" stop-color="#ff8a00"/><stop offset="0.12" stop-color="#ff8100"/><stop offset="0.25" stop-color="#ff5700"/><stop offset="0.38" stop-color="#ff3300"/><stop offset="0.5" stop-color="#ff0f00"/><stop offset="0.62" stop-color="#f50000"/><stop offset="0.75" stop-color="#db0000"/><stop offset="0.88" stop-color="#be0000"/><stop offset="1" stop-color="#b80000"/></linearGradient>
<linearGradient id="gf32" gradientUnits="userSpaceOnUse" x1="896.16" y1="1845.52" x2="1398.27" y2="1637.18"><stop offset="0" stop-color="#ff8a00"/><stop offset="0.12" stop-color="#ff8100"/><stop offset="0.25" stop-color="#ff5700"/><stop offset="0.38" stop-color="#ff3300"/><stop offset="0.5" stop-color="#ff0f00"/><stop offset="0.62" stop-color="#f50000"/><stop offset="0.75" stop-color="#db0000"/><stop offset="0.88" stop-color="#be0000"/><stop offset="1" stop-color="#b80000"/></linearGradient>
<linearGradient id="gf33" gradientUnits="userSpaceOnUse" x1="896.83" y1="1846.25" x2="1399.02" y2="1637.85"><stop offset="0" stop-color="#ff8a00"/><stop offset="0.12" stop-color="#ff8100"/><stop offset="0.25" stop-color="#ff5700"/><stop offset="0.38" stop-color="#ff3300"/><stop offset="0.5" stop-color="#ff0f00"/><stop offset="0.62" stop-color="#f50000"/><stop offset="0.75" stop-color="#db0000"/><stop offset="0.88" stop-color="#be0000"/><stop offset="1" stop-color="#b80000"/></linearGradient>
<linearGradient id="gf34" gradientUnits="userSpaceOnUse" x1="897.5" y1="1846.97" x2="1399.76" y2="1638.52"><stop offset="0" stop-color="#ff8a00"/><stop offset="0.12" stop-color="#ff8100"/><stop offset="0.25" stop-color="#ff5700"/><stop offset="0.38" stop-color="#ff3300"/><stop offset="0.5" stop-color="#ff0f00"/><stop offset="0.62" stop-color="#f50000"/><stop offset="0.75" stop-color="#db0000"/><stop offset="0.88" stop-color="#be0000"/><stop offset="1" stop-color="#b80000"/></linearGradient>
<linearGradient id="gf35" gradientUnits="userSpaceOnUse" x1="898.17" y1="1847.7" x2="1400.5" y2="1639.19"><stop offset="0" stop-color="#ff8a00"/><stop offset="0.12" stop-color="#ff8100"/><stop offset="0.25" stop-color="#ff5700"/><stop offset="0.38" stop-color="#ff3300"/><stop offset="0.5" stop-color="#ff0f00"/><stop offset="0.62" stop-color="#f50000"/><stop offset="0.75" stop-color="#db0000"/><stop offset="0.88" stop-color="#be0000"/><stop offset="1" stop-color="#b80000"/></linearGradient>
<linearGradient id="gf36" gradientUnits="userSpaceOnUse" x1="898.84" y1="1848.42" x2="1401.25" y2="1639.86"><stop offset="0" stop-color="#ff8a00"/><stop offset="0.12" stop-color="#ff8100"/><stop offset="0.25" stop-color="#ff5700"/><stop offset="0.38" stop-color="#ff3300"/><stop offset="0.5" stop-color="#ff0f00"/><stop offset="0.62" stop-color="#f50000"/><stop offset="0.75" stop-color="#db0000"/><stop offset="0.88" stop-color="#be0000"/><stop offset="1" stop-color="#b80000"/></linearGradient>
<linearGradient id="gf37" gradientUnits="userSpaceOnUse" x1="899.52" y1="1849.15" x2="1401.99" y2="1640.53"><stop offset="0" stop-color="#ff8a00"/><stop offset="0.12" stop-color="#ff8100"/><stop offset="0.25" stop-color="#ff5700"/><stop offset="0.38" stop-color="#ff3300"/><stop offset="0.5" stop-color="#ff0f00"/><stop offset="0.62" stop-color="#f50000"/><stop offset="0.75" stop-color="#db0000"/><stop offset="0.88" stop-color="#be0000"/><stop offset="1" stop-color="#b80000"/></linearGradient>
<linearGradient id="gf38" gradientUnits="userSpaceOnUse" x1="900.19" y1="1849.87" x2="1402.73" y2="1641.2"><stop offset="0" stop-color="#ff8a00"/><stop offset="0.12" stop-color="#ff8100"/><stop offset="0.25" stop-color="#ff5700"/><stop offset="0.38" stop-color="#ff3300"/><stop offset="0.5" stop-color="#ff0f00"/><stop offset="0.62" stop-color="#f50000"/><stop offset="0.75" stop-color="#db0000"/><stop offset="0.88" stop-color="#be0000"/><stop offset="1" stop-color="#b80000"/></linearGradient>
<linearGradient id="gf39" gradientUnits="userSpaceOnUse" x1="900.86" y1="1850.6" x2="1403.48" y2="1641.87"><stop offset="0" stop-color="#ff8a00"/><stop offset="0.12" stop-color="#ff8100"/><stop offset="0.25" stop-color="#ff5700"/><stop offset="0.38" stop-color="#ff3300"/><stop offset="0.5" stop-color="#ff0f00"/><stop offset="0.62" stop-color="#f50000"/><stop offset="0.75" stop-color="#db0000"/><stop offset="0.88" stop-color="#be0000"/><stop offset="1" stop-color="#b80000"/></linearGradient>
<linearGradient id="gf40" gradientUnits="userSpaceOnUse" x1="901.53" y1="1851.32" x2="1404.22" y2="1642.54"><stop offset="0" stop-color="#ff8a00"/><stop offset="0.12" stop-color="#ff8100"/><stop offset="0.25" stop-color="#ff5700"/><stop offset="0.38" stop-color="#ff3300"/><stop offset="0.5" stop-color="#ff0f00"/><stop offset="0.62" stop-color="#f50000"/><stop offset="0.75" stop-color="#db0000"/><stop offset="0.88" stop-color="#be0000"/><stop offset="1" stop-color="#b80000"/></linearGradient>
<linearGradient id="gf41" gradientUnits="userSpaceOnUse" x1="902.2" y1="1852.05" x2="1404.96" y2="1643.21"><stop offset="0" stop-color="#ff8a00"/><stop offset="0.12" stop-color="#ff8100"/><stop offset="0.25" stop-color="#ff5700"/><stop offset="0.38" stop-color="#ff3300"/><stop offset="0.5" stop-color="#ff0f00"/><stop offset="0.62" stop-color="#f50000"/><stop offset="0.75" stop-color="#db0000"/><stop offset="0.88" stop-color="#be0000"/><stop offset="1" stop-color="#b80000"/></linearGradient>
<linearGradient id="gf42" gradientUnits="userSpaceOnUse" x1="902.87" y1="1852.77" x2="1405.7" y2="1643.88"><stop offset="0" stop-color="#ff8a00"/><stop offset="0.12" stop-color="#ff8100"/><stop offset="0.25" stop-color="#ff5700"/><stop offset="0.38" stop-color="#ff3300"/><stop offset="0.5" stop-color="#ff0f00"/><stop offset="0.62" stop-color="#f50000"/><stop offset="0.75" stop-color="#db0000"/><stop offset="0.88" stop-color="#b10000"/><stop offset="1" stop-color="#a80000"/></linearGradient>
<linearGradient id="gf43" gradientUnits="userSpaceOnUse" x1="903.54" y1="1853.5" x2="1406.45" y2="1644.55"><stop offset="0" stop-color="#ff8a00"/><stop offset="0.12" stop-color="#ff8100"/><stop offset="0.25" stop-color="#ff5700"/><stop offset="0.38" stop-color="#ff3b00"/><stop offset="0.5" stop-color="#ff2000"/><stop offset="0.62" stop-color="#fd0000"/><stop offset="0.75" stop-color="#db0000"/><stop offset="0.88" stop-color="#b90000"/><stop offset="1" stop-color="#b20000"/></linearGradient>
<linearGradient id="gf44" gradientUnits="userSpaceOnUse" x1="904.21" y1="1854.23" x2="1407.19" y2="1645.22"><stop offset="0" stop-color="#ff8a00"/><stop offset="0.12" stop-color="#ff8100"/><stop offset="0.25" stop-color="#ff5700"/><stop offset="0.38" stop-color="#ff4d00"/><stop offset="0.5" stop-color="#ff4400"/><stop offset="0.62" stop-color="#ff1000"/><stop offset="0.75" stop-color="#db0000"/><stop offset="0.88" stop-color="#d90000"/><stop offset="1" stop-color="#d90000"/></linearGradient>
<linearGradient id="gf45" gradientUnits="userSpaceOnUse" x1="904.88" y1="1854.95" x2="1407.93" y2="1645.89"><stop offset="0" stop-color="#ffab00"/><stop offset="0.12" stop-color="#ff9d00"/><stop offset="0.25" stop-color="#ff5700"/><stop offset="0.38" stop-color="#ff5b00"/><stop offset="0.5" stop-color="#ff5e00"/><stop offset="0.62" stop-color="#ff1a00"/><stop offset="0.75" stop-color="#d40000"/><stop offset="0.88" stop-color="#f00000"/><stop offset="1" stop-color="#f50000"/></linearGradient>
<linearGradient id="gf46" gradientUnits="userSpaceOnUse" x1="905.55" y1="1855.68" x2="1408.68" y2="1646.56"><stop offset="0" stop-color="#ffc500"/><stop offset="0.12" stop-color="#ffb300"/><stop offset="0.25" stop-color="#ff5700"/><stop offset="0.38" stop-color="#ff6000"/><stop offset="0.5" stop-color="#ff6900"/><stop offset="0.62" stop-color="#ff1c00"/><stop offset="0.75" stop-color="#ce0000"/><stop offset="0.88" stop-color="#f80000"/><stop offset="1" stop-color="#ff0100"/></linearGradient>
<linearGradient id="gf47" gradientUnits="userSpaceOnUse" x1="906.22" y1="1856.4" x2="1409.42" y2="1647.23"><stop offset="0" stop-color="#ffed00"/><stop offset="0.12" stop-color="#ffd900"/><stop offset="0.25" stop-color="#ff7800"/><stop offset="0.38" stop-color="#ff7800"/><stop offset="0.5" stop-color="#ff7800"/><stop offset="0.62" stop-color="#ff2200"/><stop offset="0.75" stop-color="#cb0000"/><stop offset="0.88" stop-color="#ff0600"/><stop offset="1" stop-color="#ff1200"/></linearGradient>
<linearGradient id="gf48" gradientUnits="userSpaceOnUse" x1="906.89" y1="1857.13" x2="1410.16" y2="1647.9"><stop offset="0" stop-color="#ddff22"/><stop offset="0.12" stop-color="#f2ff0d"/><stop offset="0.25" stop-color="#ff9f00"/><stop offset="0.38" stop-color="#ff9800"/><stop offset="0.5" stop-color="#ff9100"/><stop offset="0.62" stop-color="#ff3800"/><stop offset="0.75" stop-color="#df0000"/><stop offset="0.88" stop-color="#ff1b00"/><stop offset="1" stop-color="#ff2700"/></linearGradient>
<linearGradient id="gf49" gradientUnits="userSpaceOnUse" x1="907.56" y1="1857.85" x2="1410.91" y2="1648.57"><stop offset="0" stop-color="#9eff61"/><stop offset="0.12" stop-color="#bbff44"/><stop offset="0.25" stop-color="#ffb400"/><stop offset="0.38" stop-color="#ffb200"/><stop offset="0.5" stop-color="#ffb000"/><stop offset="0.62" stop-color="#ff5400"/><stop offset="0.75" stop-color="#f60000"/><stop offset="0.88" stop-color="#ff3400"/><stop offset="1" stop-color="#ff4000"/></linearGradient>
<linearGradient id="gf50" gradientUnits="userSpaceOnUse" x1="908.23" y1="1858.58" x2="1411.65" y2="1649.24"><stop offset="0" stop-color="#6eff91"/><stop offset="0.12" stop-color="#8eff71"/><stop offset="0.25" stop-color="#ffcc00"/><stop offset="0.38" stop-color="#ffd000"/><stop offset="0.5" stop-color="#ffd300"/><stop offset="0.62" stop-color="#ff7200"/><stop offset="0.75" stop-color="#ff1100"/><stop offset="0.88" stop-color="#ff5000"/><stop offset="1" stop-color="#ff5d00"/></linearGradient>
<linearGradient id="gf51" gradientUnits="userSpaceOnUse" x1="908.9" y1="1859.3" x2="1412.39" y2="1649.91"><stop offset="0" stop-color="#4bffb4"/><stop offset="0.12" stop-color="#6dff92"/><stop offset="0.25" stop-color="#ffe600"/><stop offset="0.38" stop-color="#fff000"/><stop offset="0.5" stop-color="#fffa00"/><stop offset="0.62" stop-color="#ff9300"/><stop offset="0.75" stop-color="#ff2b00"/><stop offset="0.88" stop-color="#ff6e00"/><stop offset="1" stop-color="#ff7c00"/></linearGradient>
<linearGradient id="gf52" gradientUnits="userSpaceOnUse" x1="909.57" y1="1860.03" x2="1413.14" y2="1650.58"><stop offset="0" stop-color="#26ffd9"/><stop offset="0.12" stop-color="#49ffb6"/><stop offset="0.25" stop-color="#f8ff07"/><stop offset="0.38" stop-color="#e3ff1c"/><stop offset="0.5" stop-color="#cdff32"/><stop offset="0.62" stop-color="#ffbb00"/><stop offset="0.75" stop-color="#ff4600"/><stop offset="0.88" stop-color="#ff9500"/><stop offset="1" stop-color="#ffa500"/></linearGradient>
<linearGradient id="gf53" gradientUnits="userSpaceOnUse" x1="910.24" y1="1860.76" x2="1413.88" y2="1651.25"><stop offset="0" stop-color="#00fbff"/><stop offset="0.12" stop-color="#1cffe3"/><stop offset="0.25" stop-color="#bcff43"/><stop offset="0.38" stop-color="#a6ff59"/><stop offset="0.5" stop-color="#91ff6e"/><stop offset="0.62" stop-color="#ffe800"/><stop offset="0.75" stop-color="#ff6300"/><stop offset="0.88" stop-color="#ffbf00"/><stop offset="1" stop-color="#ffd200"/></linearGradient>
<linearGradient id="gf54" gradientUnits="userSpaceOnUse" x1="910.92" y1="1861.48" x2="1414.62" y2="1651.92"><stop offset="0" stop-color="#00b5ff"/><stop offset="0.12" stop-color="#00d6ff"/><stop offset="0.25" stop-color="#7cff83"/><stop offset="0.38" stop-color="#67ff98"/><stop offset="0.5" stop-color="#51ffae"/><stop offset="0.62" stop-color="#e6ff19"/><stop offset="0.75" stop-color="#ff8300"/><stop offset="0.88" stop-color="#ffed00"/><stop offset="1" stop-color="#fbff04"/></linearGradient>
<linearGradient id="gf55" gradientUnits="userSpaceOnUse" x1="911.59" y1="1862.21" x2="1415.37" y2="1652.59"><stop offset="0" stop-color="#006cff"/><stop offset="0.12" stop-color="#008eff"/><stop offset="0.25" stop-color="#39ffc6"/><stop offset="0.38" stop-color="#23ffdc"/><stop offset="0.5" stop-color="#0efff1"/><stop offset="0.62" stop-color="#a3ff5c"/><stop offset="0.75" stop-color="#ffc600"/><stop offset="0.88" stop-color="#cdff32"/><stop offset="1" stop-color="#b8ff47"/></linearGradient>
<linearGradient id="gf56" gradientUnits="userSpaceOnUse" x1="912.26" y1="1862.93" x2="1416.11" y2="1653.26"><stop offset="0" stop-color="#0025ff"/><stop offset="0.12" stop-color="#0047ff"/><stop offset="0.25" stop-color="#00f1ff"/><stop offset="0.38" stop-color="#00e1ff"/><stop offset="0.5" stop-color="#00d1ff"/><stop offset="0.62" stop-color="#60ff9f"/><stop offset="0.75" stop-color="#eeff11"/><stop offset="0.88" stop-color="#86ff79"/><stop offset="1" stop-color="#72ff8d"/></linearGradient>
<linearGradient id="gf57" gradientUnits="userSpaceOnUse" x1="912.93" y1="1863.66" x2="1416.85" y2="1653.93"><stop offset="0" stop-color="#0000f2"/><stop offset="0.12" stop-color="#0011ff"/><stop offset="0.25" stop-color="#00a9ff"/><stop offset="0.38" stop-color="#009eff"/><stop offset="0.5" stop-color="#0094ff"/><stop offset="0.62" stop-color="#15ffea"/><stop offset="0.75" stop-color="#96ff69"/><stop offset="0.88" stop-color="#3affc5"/><stop offset="1" stop-color="#28ffd7"/></linearGradient>
<linearGradient id="gf58" gradientUnits="userSpaceOnUse" x1="913.6" y1="1864.38" x2="1417.6" y2="1654.6"><stop offset="0" stop-color="#0000be"/><stop offset="0.12" stop-color="#0000d9"/><stop offset="0.25" stop-color="#005dff"/><stop offset="0.38" stop-color="#0059ff"/><stop offset="0.5" stop-color="#0055ff"/><stop offset="0.62" stop-color="#00c7ff"/><stop offset="0.75" stop-color="#39ffc6"/><stop offset="0.88" stop-color="#00f2ff"/><stop offset="1" stop-color="#00e3ff"/></linearGradient>
<linearGradient id="gf59" gradientUnits="userSpaceOnUse" x1="914.27" y1="1865.11" x2="1418.34" y2="1655.27"><stop offset="0" stop-color="#00009e"/><stop offset="0.12" stop-color="#0000b3"/><stop offset="0.25" stop-color="#001aff"/><stop offset="0.38" stop-color="#0015ff"/><stop offset="0.5" stop-color="#000fff"/><stop offset="0.62" stop-color="#0073ff"/><stop offset="0.75" stop-color="#00d8ff"/><stop offset="0.88" stop-color="#00b0ff"/><stop offset="1" stop-color="#00a8ff"/></linearGradient>
<linearGradient id="gf60" gradientUnits="userSpaceOnUse" x1="914.94" y1="1865.83" x2="1419.08" y2="1655.94"><stop offset="0" stop-color="#00009e"/><stop offset="0.12" stop-color="#0000aa"/><stop offset="0.25" stop-color="#0000e5"/><stop offset="0.38" stop-color="#0000d2"/><stop offset="0.5" stop-color="#0000bf"/><stop offset="0.62" stop-color="#0019ff"/><stop offset="0.75" stop-color="#0072ff"/><stop offset="0.88" stop-color="#006cff"/><stop offset="1" stop-color="#006aff"/></linearGradient>
<linearGradient id="gf61" gradientUnits="userSpaceOnUse" x1="915.61" y1="1866.56" x2="1419.83" y2="1656.61"><stop offset="0" stop-color="#00009e"/><stop offset="0.12" stop-color="#0000a1"/><stop offset="0.25" stop-color="#0000b0"/><stop offset="0.38" stop-color="#0000b1"/><stop offset="0.5" stop-color="#0000b2"/><stop offset="0.62" stop-color="#0000e2"/><stop offset="0.75" stop-color="#0013ff"/><stop offset="0.88" stop-color="#0054ff"/><stop offset="1" stop-color="#0061ff"/></linearGradient>
<linearGradient id="gf62" gradientUnits="userSpaceOnUse" x1="916.28" y1="1867.28" x2="1420.57" y2="1657.28"><stop offset="0" stop-color="#00009e"/><stop offset="0.12" stop-color="#0000a0"/><stop offset="0.25" stop-color="#0000a8"/><stop offset="0.38" stop-color="#0000ad"/><stop offset="0.5" stop-color="#0000b2"/><stop offset="0.62" stop-color="#0000bc"/><stop offset="0.75" stop-color="#0000c5"/><stop offset="0.88" stop-color="#0047ff"/><stop offset="1" stop-color="#0061ff"/></linearGradient>
<linearGradient id="gf63" gradientUnits="userSpaceOnUse" x1="916.95" y1="1868.01" x2="1421.31" y2="1657.95"><stop offset="0" stop-color="#00009e"/><stop offset="0.12" stop-color="#0000a0"/><stop offset="0.25" stop-color="#0000a8"/><stop offset="0.38" stop-color="#0000ad"/><stop offset="0.5" stop-color="#0000b2"/><stop offset="0.62" stop-color="#0000b8"/><stop offset="0.75" stop-color="#0000bd"/><stop offset="0.88" stop-color="#0046ff"/><stop offset="1" stop-color="#0061ff"/></linearGradient></defs>
<rect width="1600" height="2075" fill="#fff"/>
<path d="M15.4 363.1L514 163.5M15.4 363.1L17 445.6M17 445.6L60.5 492.7M60.5 492.7L556.6 280.8M514 163.5L562.1 203.2M562.1 203.2L556.6 280.8M514 163.5L508.2 241.5M508.2 241.5L556.6 280.8M26.6 394L524.5 191.4M524.5 191.4L546.4 209.3M524.5 191.4L523.2 209.3M546.4 209.3L544.5 253.5M26.6 394L27.8 439.5M27.8 439.5L49.3 462.6M548.1 211.1L546.8 229.4M17 445.6L48.6 431.5M49.3 462.6L60.5 457.8M17 405.9L59.4 450.2M17 408.3L59.4 452.6M17 410.7L59.4 455" stroke="#222" stroke-width="0.95" fill="none"/>
<path d="M17 402.7L511.6 199" stroke="#444" stroke-width="1" fill="none"/>
<path d="M59.61 449.9L558.6 242.7" stroke="#444" stroke-width="1" fill="none"/>
<path d="M59.91 451.9L558.6 244.7" stroke="#333" stroke-width="1" fill="none"/>
<path d="M60.21 453.9L558.6 246.7" stroke="#333" stroke-width="1" fill="none"/>
<g><path d="M17 403.7 L18.06 404.82 L512.77 201.03 L511.6 200Z" fill="url(#ga0)"/><path d="M17.66 404.4 L18.72 405.52 L513.51 201.68 L512.33 200.65Z" fill="url(#ga1)"/><path d="M18.32 405.1 L19.38 406.22 L514.24 202.32 L513.07 201.29Z" fill="url(#ga2)"/><path d="M18.99 405.8 L20.05 406.92 L514.98 202.97 L513.8 201.94Z" fill="url(#ga3)"/><path d="M19.65 406.5 L20.71 407.62 L515.71 203.61 L514.54 202.58Z" fill="url(#ga4)"/><path d="M20.31 407.2 L21.37 408.32 L516.45 204.26 L515.27 203.23Z" fill="url(#ga5)"/><path d="M20.98 407.9 L22.04 409.02 L517.18 204.9 L516.01 203.87Z" fill="url(#ga6)"/><path d="M21.64 408.6 L22.7 409.72 L517.92 205.55 L516.74 204.52Z" fill="url(#ga7)"/><path d="M22.3 409.3 L23.36 410.42 L518.65 206.19 L517.48 205.16Z" fill="url(#ga8)"/><path d="M22.96 410 L24.02 411.12 L519.38 206.84 L518.21 205.81Z" fill="url(#ga9)"/><path d="M23.62 410.7 L24.68 411.82 L520.12 207.49 L518.94 206.45Z" fill="url(#ga10)"/><path d="M24.29 411.4 L25.35 412.52 L520.85 208.13 L519.68 207.1Z" fill="url(#ga11)"/><path d="M24.95 412.1 L26.01 413.22 L521.59 208.78 L520.41 207.74Z" fill="url(#ga12)"/><path d="M25.61 412.8 L26.67 413.92 L522.32 209.42 L521.15 208.39Z" fill="url(#ga13)"/><path d="M26.27 413.5 L27.34 414.62 L523.06 210.07 L521.88 209.03Z" fill="url(#ga14)"/><path d="M26.94 414.2 L28 415.32 L523.79 210.71 L522.62 209.68Z" fill="url(#ga15)"/><path d="M27.6 414.9 L28.66 416.02 L524.52 211.36 L523.35 210.32Z" fill="url(#ga16)"/><path d="M28.26 415.6 L29.32 416.72 L525.26 212 L524.08 210.97Z" fill="url(#ga17)"/><path d="M28.92 416.3 L29.98 417.42 L525.99 212.65 L524.82 211.62Z" fill="url(#ga18)"/><path d="M29.59 417 L30.65 418.12 L526.73 213.29 L525.55 212.26Z" fill="url(#ga19)"/><path d="M30.25 417.7 L31.31 418.82 L527.46 213.94 L526.29 212.91Z" fill="url(#ga20)"/><path d="M30.91 418.4 L31.97 419.52 L528.2 214.58 L527.02 213.55Z" fill="url(#ga21)"/><path d="M31.57 419.1 L32.63 420.22 L528.93 215.23 L527.76 214.2Z" fill="url(#ga22)"/><path d="M32.24 419.8 L33.3 420.92 L529.67 215.87 L528.49 214.84Z" fill="url(#ga23)"/><path d="M32.9 420.5 L33.96 421.62 L530.4 216.52 L529.23 215.49Z" fill="url(#ga24)"/><path d="M33.56 421.2 L34.62 422.32 L531.13 217.17 L529.96 216.13Z" fill="url(#ga25)"/><path d="M34.22 421.9 L35.28 423.02 L531.87 217.81 L530.69 216.78Z" fill="url(#ga26)"/><path d="M34.89 422.6 L35.95 423.72 L532.6 218.46 L531.43 217.42Z" fill="url(#ga27)"/><path d="M35.55 423.3 L36.61 424.42 L533.34 219.1 L532.16 218.07Z" fill="url(#ga28)"/><path d="M36.21 424 L37.27 425.12 L534.07 219.75 L532.9 218.71Z" fill="url(#ga29)"/><path d="M36.88 424.7 L37.94 425.82 L534.81 220.39 L533.63 219.36Z" fill="url(#ga30)"/><path d="M37.54 425.4 L38.6 426.52 L535.54 221.04 L534.37 220Z" fill="url(#ga31)"/><path d="M38.2 426.1 L39.26 427.22 L536.27 221.68 L535.1 220.65Z" fill="url(#ga32)"/><path d="M38.86 426.8 L39.92 427.92 L537.01 222.33 L535.83 221.3Z" fill="url(#ga33)"/><path d="M39.52 427.5 L40.59 428.62 L537.74 222.97 L536.57 221.94Z" fill="url(#ga34)"/><path d="M40.19 428.2 L41.25 429.32 L538.48 223.62 L537.3 222.59Z" fill="url(#ga35)"/><path d="M40.85 428.9 L41.91 430.02 L539.21 224.26 L538.04 223.23Z" fill="url(#ga36)"/><path d="M41.51 429.6 L42.57 430.72 L539.95 224.91 L538.77 223.88Z" fill="url(#ga37)"/><path d="M42.17 430.3 L43.23 431.42 L540.68 225.55 L539.51 224.52Z" fill="url(#ga38)"/><path d="M42.84 431 L43.9 432.12 L541.42 226.2 L540.24 225.17Z" fill="url(#ga39)"/><path d="M43.5 431.7 L44.56 432.82 L542.15 226.84 L540.98 225.81Z" fill="url(#ga40)"/><path d="M44.16 432.4 L45.22 433.52 L542.88 227.49 L541.71 226.46Z" fill="url(#ga41)"/><path d="M44.83 433.1 L45.89 434.22 L543.62 228.14 L542.44 227.1Z" fill="url(#ga42)"/><path d="M45.49 433.8 L46.55 434.92 L544.35 228.78 L543.18 227.75Z" fill="url(#ga43)"/><path d="M46.15 434.5 L47.21 435.62 L545.09 229.43 L543.91 228.39Z" fill="url(#ga44)"/><path d="M46.81 435.2 L47.87 436.32 L545.82 230.07 L544.65 229.04Z" fill="url(#ga45)"/><path d="M47.47 435.9 L48.53 437.02 L546.56 230.72 L545.38 229.68Z" fill="url(#ga46)"/><path d="M48.14 436.6 L49.2 437.72 L547.29 231.36 L546.12 230.33Z" fill="url(#ga47)"/><path d="M48.8 437.3 L49.86 438.42 L548.02 232.01 L546.85 230.98Z" fill="url(#ga48)"/><path d="M49.46 438 L50.52 439.12 L548.76 232.65 L547.58 231.62Z" fill="url(#ga49)"/><path d="M50.12 438.7 L51.19 439.82 L549.49 233.3 L548.32 232.27Z" fill="url(#ga50)"/><path d="M50.79 439.4 L51.85 440.52 L550.23 233.94 L549.05 232.91Z" fill="url(#ga51)"/><path d="M51.45 440.1 L52.51 441.22 L550.96 234.59 L549.79 233.56Z" fill="url(#ga52)"/><path d="M52.11 440.8 L53.17 441.92 L551.7 235.23 L550.52 234.2Z" fill="url(#ga53)"/><path d="M52.77 441.5 L53.84 442.62 L552.43 235.88 L551.26 234.85Z" fill="url(#ga54)"/><path d="M53.44 442.2 L54.5 443.32 L553.17 236.52 L551.99 235.49Z" fill="url(#ga55)"/><path d="M54.1 442.9 L55.16 444.02 L553.9 237.17 L552.73 236.14Z" fill="url(#ga56)"/><path d="M54.76 443.6 L55.82 444.72 L554.63 237.82 L553.46 236.78Z" fill="url(#ga57)"/><path d="M55.42 444.3 L56.48 445.42 L555.37 238.46 L554.19 237.43Z" fill="url(#ga58)"/><path d="M56.09 445 L57.15 446.12 L556.1 239.11 L554.93 238.07Z" fill="url(#ga59)"/><path d="M56.75 445.7 L57.81 446.82 L556.84 239.75 L555.66 238.72Z" fill="url(#ga60)"/><path d="M57.41 446.4 L58.47 447.52 L557.57 240.4 L556.4 239.36Z" fill="url(#ga61)"/><path d="M58.07 447.1 L59.13 448.22 L558.31 241.04 L557.13 240.01Z" fill="url(#ga62)"/><path d="M58.74 447.8 L59.4 448.5 L558.6 241.3 L557.87 240.65Z" fill="url(#ga63)"/></g>
<path d="M59.4 445.9L558.6 238.7M59.4 447.6L558.6 240.4M17 404.5L511.6 200.8" stroke="#002" stroke-width="1" fill="none" stroke-opacity="0.45"/>
<path d="M15.4 363.1L59.4 410.2M59.4 410.2L60.5 492.7M26.6 394L48.6 417.1M48.6 417.1L49.3 462.6M529.3 215.7L546.4 208.6M531.5 217.9L548.1 210.4M511.6 200L558.6 240.8" stroke="#222" stroke-width="0.95" fill="none" stroke-opacity="0.8"/>
<path d="M59.4 410.2L529.3 215.7M48.6 417.1L531.5 217.9M26.41 413.53L522.03 209.06M47.74 435.82L545.68 229.58" stroke="#300" stroke-width="1.3" fill="none" stroke-opacity="0.45"/>
<path d="M875.4 364.7L1376 164.5M875.4 364.7L876.98 447.52M876.98 447.52L920.63 494.82M920.63 494.82L1418.72 282.27M1376 164.5L1424.27 204.37M1424.27 204.37L1418.72 282.27M1376 164.5L1370.15 242.8M1370.15 242.8L1418.72 282.27M886.63 395.72L1386.53 192.51M1386.53 192.51L1408.51 210.49M1386.53 192.51L1385.22 210.48M1408.51 210.49L1406.59 254.86M886.63 395.72L887.82 441.4M887.82 441.4L909.4 464.6M1410.22 212.3L1408.9 230.67M876.98 447.52L908.7 433.38M909.4 464.6L920.64 459.78M876.99 407.67L919.54 452.15M876.99 410.08L919.54 454.56M876.99 412.48L919.54 456.97" stroke="#222" stroke-width="0.95" fill="none"/>
<path d="M876.99 404.45L1373.58 200.14" stroke="#444" stroke-width="1" fill="none"/>
<path d="M919.75 453.05L1420.75 245.22" stroke="#444" stroke-width="1" fill="none"/>
<path d="M920.05 455.06L1420.74 247.23" stroke="#333" stroke-width="1" fill="none"/>
<path d="M920.35 457.07L1420.74 249.24" stroke="#333" stroke-width="1" fill="none"/>
<g><path d="M876.99 405.46 L878.06 406.61 L1374.76 202.21 L1373.58 201.14Z" fill="url(#gb0)"/><path d="M877.66 406.18 L878.72 407.33 L1375.49 202.87 L1374.32 201.81Z" fill="url(#gb1)"/><path d="M878.32 406.9 L879.39 408.06 L1376.23 203.54 L1375.05 202.47Z" fill="url(#gb2)"/><path d="M878.99 407.62 L880.05 408.78 L1376.97 204.21 L1375.79 203.14Z" fill="url(#gb3)"/><path d="M879.65 408.34 L880.72 409.5 L1377.71 204.87 L1376.53 203.81Z" fill="url(#gb4)"/><path d="M880.32 409.07 L881.38 410.22 L1378.44 205.54 L1377.26 204.47Z" fill="url(#gb5)"/><path d="M880.98 409.79 L882.04 410.94 L1379.18 206.21 L1378 205.14Z" fill="url(#gb6)"/><path d="M881.65 410.51 L882.71 411.66 L1379.92 206.87 L1378.74 205.81Z" fill="url(#gb7)"/><path d="M882.31 411.23 L883.37 412.39 L1380.65 207.54 L1379.47 206.47Z" fill="url(#gb8)"/><path d="M882.98 411.95 L884.04 413.11 L1381.39 208.21 L1380.21 207.14Z" fill="url(#gb9)"/><path d="M883.64 412.67 L884.7 413.83 L1382.13 208.88 L1380.95 207.81Z" fill="url(#gb10)"/><path d="M884.31 413.4 L885.37 414.55 L1382.86 209.54 L1381.69 208.48Z" fill="url(#gb11)"/><path d="M884.97 414.12 L886.03 415.27 L1383.6 210.21 L1382.42 209.14Z" fill="url(#gb12)"/><path d="M885.63 414.84 L886.7 415.99 L1384.34 210.88 L1383.16 209.81Z" fill="url(#gb13)"/><path d="M886.3 415.56 L887.36 416.72 L1385.08 211.54 L1383.9 210.48Z" fill="url(#gb14)"/><path d="M886.96 416.28 L888.03 417.44 L1385.81 212.21 L1384.63 211.14Z" fill="url(#gb15)"/><path d="M887.63 417 L888.69 418.16 L1386.55 212.88 L1385.37 211.81Z" fill="url(#gb16)"/><path d="M888.29 417.73 L889.36 418.88 L1387.29 213.54 L1386.11 212.48Z" fill="url(#gb17)"/><path d="M888.96 418.45 L890.02 419.6 L1388.02 214.21 L1386.84 213.14Z" fill="url(#gb18)"/><path d="M889.62 419.17 L890.69 420.32 L1388.76 214.88 L1387.58 213.81Z" fill="url(#gb19)"/><path d="M890.29 419.89 L891.35 421.05 L1389.5 215.54 L1388.32 214.48Z" fill="url(#gb20)"/><path d="M890.95 420.61 L892.02 421.77 L1390.23 216.21 L1389.05 215.14Z" fill="url(#gb21)"/><path d="M891.62 421.33 L892.68 422.49 L1390.97 216.88 L1389.79 215.81Z" fill="url(#gb22)"/><path d="M892.28 422.06 L893.35 423.21 L1391.71 217.54 L1390.53 216.48Z" fill="url(#gb23)"/><path d="M892.95 422.78 L894.01 423.93 L1392.45 218.21 L1391.27 217.14Z" fill="url(#gb24)"/><path d="M893.61 423.5 L894.68 424.65 L1393.18 218.88 L1392 217.81Z" fill="url(#gb25)"/><path d="M894.28 424.22 L895.34 425.38 L1393.92 219.54 L1392.74 218.48Z" fill="url(#gb26)"/><path d="M894.94 424.94 L896.01 426.1 L1394.66 220.21 L1393.48 219.14Z" fill="url(#gb27)"/><path d="M895.61 425.66 L896.67 426.82 L1395.39 220.88 L1394.21 219.81Z" fill="url(#gb28)"/><path d="M896.27 426.39 L897.34 427.54 L1396.13 221.54 L1394.95 220.48Z" fill="url(#gb29)"/><path d="M896.94 427.11 L898 428.26 L1396.87 222.21 L1395.69 221.14Z" fill="url(#gb30)"/><path d="M897.6 427.83 L898.67 428.98 L1397.6 222.88 L1396.42 221.81Z" fill="url(#gb31)"/><path d="M898.27 428.55 L899.33 429.71 L1398.34 223.54 L1397.16 222.48Z" fill="url(#gb32)"/><path d="M898.93 429.27 L900 430.43 L1399.08 224.21 L1397.9 223.14Z" fill="url(#gb33)"/><path d="M899.6 429.99 L900.66 431.15 L1399.82 224.88 L1398.64 223.81Z" fill="url(#gb34)"/><path d="M900.26 430.72 L901.32 431.87 L1400.55 225.54 L1399.37 224.48Z" fill="url(#gb35)"/><path d="M900.93 431.44 L901.99 432.59 L1401.29 226.21 L1400.11 225.14Z" fill="url(#gb36)"/><path d="M901.59 432.16 L902.65 433.31 L1402.03 226.88 L1400.85 225.81Z" fill="url(#gb37)"/><path d="M902.26 432.88 L903.32 434.04 L1402.76 227.55 L1401.58 226.48Z" fill="url(#gb38)"/><path d="M902.92 433.6 L903.98 434.76 L1403.5 228.21 L1402.32 227.15Z" fill="url(#gb39)"/><path d="M903.59 434.32 L904.65 435.48 L1404.24 228.88 L1403.06 227.81Z" fill="url(#gb40)"/><path d="M904.25 435.05 L905.31 436.2 L1404.97 229.55 L1403.79 228.48Z" fill="url(#gb41)"/><path d="M904.91 435.77 L905.98 436.92 L1405.71 230.21 L1404.53 229.15Z" fill="url(#gb42)"/><path d="M905.58 436.49 L906.64 437.64 L1406.45 230.88 L1405.27 229.81Z" fill="url(#gb43)"/><path d="M906.24 437.21 L907.31 438.37 L1407.19 231.55 L1406.01 230.48Z" fill="url(#gb44)"/><path d="M906.91 437.93 L907.97 439.09 L1407.92 232.21 L1406.74 231.15Z" fill="url(#gb45)"/><path d="M907.57 438.65 L908.64 439.81 L1408.66 232.88 L1407.48 231.81Z" fill="url(#gb46)"/><path d="M908.24 439.38 L909.3 440.53 L1409.4 233.55 L1408.22 232.48Z" fill="url(#gb47)"/><path d="M908.9 440.1 L909.97 441.25 L1410.13 234.21 L1408.95 233.15Z" fill="url(#gb48)"/><path d="M909.57 440.82 L910.63 441.97 L1410.87 234.88 L1409.69 233.81Z" fill="url(#gb49)"/><path d="M910.23 441.54 L911.3 442.7 L1411.61 235.55 L1410.43 234.48Z" fill="url(#gb50)"/><path d="M910.9 442.26 L911.96 443.42 L1412.34 236.21 L1411.16 235.15Z" fill="url(#gb51)"/><path d="M911.56 442.98 L912.63 444.14 L1413.08 236.88 L1411.9 235.81Z" fill="url(#gb52)"/><path d="M912.23 443.71 L913.29 444.86 L1413.82 237.55 L1412.64 236.48Z" fill="url(#gb53)"/><path d="M912.89 444.43 L913.96 445.58 L1414.56 238.21 L1413.38 237.15Z" fill="url(#gb54)"/><path d="M913.56 445.15 L914.62 446.3 L1415.29 238.88 L1414.11 237.81Z" fill="url(#gb55)"/><path d="M914.22 445.87 L915.29 447.03 L1416.03 239.55 L1414.85 238.48Z" fill="url(#gb56)"/><path d="M914.89 446.59 L915.95 447.75 L1416.77 240.21 L1415.59 239.15Z" fill="url(#gb57)"/><path d="M915.55 447.31 L916.62 448.47 L1417.5 240.88 L1416.32 239.81Z" fill="url(#gb58)"/><path d="M916.22 448.04 L917.28 449.19 L1418.24 241.55 L1417.06 240.48Z" fill="url(#gb59)"/><path d="M916.88 448.76 L917.95 449.91 L1418.98 242.21 L1417.8 241.15Z" fill="url(#gb60)"/><path d="M917.55 449.48 L918.61 450.63 L1419.71 242.88 L1418.53 241.81Z" fill="url(#gb61)"/><path d="M918.21 450.2 L919.28 451.36 L1420.45 243.55 L1419.27 242.48Z" fill="url(#gb62)"/><path d="M918.88 450.92 L919.54 451.64 L1420.75 243.81 L1420.01 243.15Z" fill="url(#gb63)"/></g>
<path d="M919.54 449.03L1420.75 241.2M919.54 450.74L1420.75 242.91M876.99 406.26L1373.58 201.94" stroke="#002" stroke-width="1" fill="none" stroke-opacity="0.45"/>
<path d="M875.4 364.7L919.55 412M919.55 412L920.63 494.82M886.63 395.72L908.71 418.92M908.71 418.92L909.4 464.6M1391.34 216.91L1408.51 209.79M1393.55 219.12L1410.22 211.59M1373.58 201.14L1420.75 242.11" stroke="#222" stroke-width="0.95" fill="none" stroke-opacity="0.8"/>
<path d="M919.55 412L1391.34 216.91M908.71 418.92L1393.55 219.12M886.44 415.33L1384.05 210.24M907.84 437.71L1407.77 230.85" stroke="#300" stroke-width="1.3" fill="none" stroke-opacity="0.45"/>
<path d="M13.9 1072.4L514.5 871.8M13.9 1072.4L15.54 1155.24M15.54 1155.24L59.23 1202.52M59.23 1202.52L557.32 989.57M514.5 871.8L562.81 911.65M562.81 911.65L557.32 989.57M514.5 871.8L508.7 950.13M508.7 950.13L557.32 989.57M25.16 1103.42L525.05 899.81M525.05 899.81L547.05 917.78M525.05 899.81L523.75 917.79M547.05 917.78L545.16 962.16M25.16 1103.42L26.38 1149.11M26.38 1149.11L47.97 1172.3M548.76 919.59L547.46 937.96M15.54 1155.24L47.26 1141.07M47.97 1172.3L59.22 1167.48M15.52 1115.38L58.11 1159.85M15.52 1117.79L58.11 1162.26M15.52 1120.2L58.11 1164.67" stroke="#222" stroke-width="0.95" fill="none"/>
<path d="M15.52 1112.16L512.1 907.45" stroke="#444" stroke-width="1" fill="none"/>
<path d="M58.32 1162.24L559.31 954.01" stroke="#444" stroke-width="1" fill="none"/>
<path d="M58.63 1164.25L559.31 956.02" stroke="#333" stroke-width="1" fill="none"/>
<path d="M58.93 1166.26L559.31 958.03" stroke="#333" stroke-width="1" fill="none"/>
<g><path d="M15.52 1113.17 L16.59 1114.36 L513.28 909.56 L512.1 908.45Z" fill="url(#gc0)"/><path d="M16.19 1113.91 L17.25 1115.1 L514.02 910.25 L512.84 909.14Z" fill="url(#gc1)"/><path d="M16.85 1114.66 L17.92 1115.85 L514.76 910.94 L513.58 909.83Z" fill="url(#gc2)"/><path d="M17.52 1115.4 L18.58 1116.59 L515.5 911.63 L514.32 910.52Z" fill="url(#gc3)"/><path d="M18.18 1116.15 L19.25 1117.34 L516.23 912.32 L515.05 911.21Z" fill="url(#gc4)"/><path d="M18.85 1116.89 L19.91 1118.08 L516.97 913.01 L515.79 911.9Z" fill="url(#gc5)"/><path d="M19.51 1117.64 L20.58 1118.83 L517.71 913.7 L516.53 912.59Z" fill="url(#gc6)"/><path d="M20.18 1118.38 L21.24 1119.57 L518.45 914.39 L517.27 913.28Z" fill="url(#gc7)"/><path d="M20.84 1119.13 L21.91 1120.32 L519.18 915.08 L518 913.97Z" fill="url(#gc8)"/><path d="M21.51 1119.87 L22.57 1121.06 L519.92 915.77 L518.74 914.66Z" fill="url(#gc9)"/><path d="M22.18 1120.62 L23.24 1121.81 L520.66 916.46 L519.48 915.35Z" fill="url(#gc10)"/><path d="M22.84 1121.36 L23.91 1122.55 L521.4 917.14 L520.22 916.04Z" fill="url(#gc11)"/><path d="M23.51 1122.11 L24.57 1123.3 L522.13 917.83 L520.95 916.73Z" fill="url(#gc12)"/><path d="M24.17 1122.85 L25.24 1124.04 L522.87 918.52 L521.69 917.42Z" fill="url(#gc13)"/><path d="M24.84 1123.6 L25.9 1124.79 L523.61 919.21 L522.43 918.11Z" fill="url(#gc14)"/><path d="M25.5 1124.34 L26.57 1125.53 L524.35 919.9 L523.17 918.8Z" fill="url(#gc15)"/><path d="M26.17 1125.09 L27.23 1126.28 L525.09 920.59 L523.9 919.49Z" fill="url(#gc16)"/><path d="M26.83 1125.83 L27.9 1127.02 L525.82 921.28 L524.64 920.18Z" fill="url(#gc17)"/><path d="M27.5 1126.57 L28.56 1127.77 L526.56 921.97 L525.38 920.87Z" fill="url(#gc18)"/><path d="M28.16 1127.32 L29.23 1128.51 L527.3 922.66 L526.12 921.56Z" fill="url(#gc19)"/><path d="M28.83 1128.06 L29.9 1129.26 L528.04 923.35 L526.86 922.25Z" fill="url(#gc20)"/><path d="M29.5 1128.81 L30.56 1130 L528.77 924.04 L527.59 922.94Z" fill="url(#gc21)"/><path d="M30.16 1129.55 L31.23 1130.75 L529.51 924.73 L528.33 923.63Z" fill="url(#gc22)"/><path d="M30.83 1130.3 L31.89 1131.49 L530.25 925.42 L529.07 924.32Z" fill="url(#gc23)"/><path d="M31.49 1131.04 L32.56 1132.24 L530.99 926.11 L529.81 925.01Z" fill="url(#gc24)"/><path d="M32.16 1131.79 L33.22 1132.98 L531.72 926.8 L530.54 925.7Z" fill="url(#gc25)"/><path d="M32.82 1132.53 L33.89 1133.73 L532.46 927.49 L531.28 926.39Z" fill="url(#gc26)"/><path d="M33.49 1133.28 L34.55 1134.47 L533.2 928.18 L532.02 927.08Z" fill="url(#gc27)"/><path d="M34.15 1134.02 L35.22 1135.21 L533.94 928.87 L532.76 927.77Z" fill="url(#gc28)"/><path d="M34.82 1134.77 L35.88 1135.96 L534.67 929.56 L533.49 928.46Z" fill="url(#gc29)"/><path d="M35.49 1135.51 L36.55 1136.7 L535.41 930.25 L534.23 929.15Z" fill="url(#gc30)"/><path d="M36.15 1136.26 L37.22 1137.45 L536.15 930.94 L534.97 929.84Z" fill="url(#gc31)"/><path d="M36.82 1137 L37.88 1138.19 L536.89 931.63 L535.71 930.53Z" fill="url(#gc32)"/><path d="M37.48 1137.75 L38.55 1138.94 L537.63 932.32 L536.44 931.22Z" fill="url(#gc33)"/><path d="M38.15 1138.49 L39.21 1139.68 L538.36 933.01 L537.18 931.91Z" fill="url(#gc34)"/><path d="M38.81 1139.24 L39.88 1140.43 L539.1 933.7 L537.92 932.6Z" fill="url(#gc35)"/><path d="M39.48 1139.98 L40.54 1141.17 L539.84 934.39 L538.66 933.29Z" fill="url(#gc36)"/><path d="M40.14 1140.73 L41.21 1141.92 L540.58 935.08 L539.4 933.98Z" fill="url(#gc37)"/><path d="M40.81 1141.47 L41.87 1142.66 L541.31 935.77 L540.13 934.67Z" fill="url(#gc38)"/><path d="M41.47 1142.22 L42.54 1143.41 L542.05 936.46 L540.87 935.36Z" fill="url(#gc39)"/><path d="M42.14 1142.96 L43.2 1144.15 L542.79 937.15 L541.61 936.05Z" fill="url(#gc40)"/><path d="M42.81 1143.71 L43.87 1144.9 L543.53 937.84 L542.35 936.74Z" fill="url(#gc41)"/><path d="M43.47 1144.45 L44.54 1145.64 L544.26 938.53 L543.08 937.43Z" fill="url(#gc42)"/><path d="M44.14 1145.2 L45.2 1146.39 L545 939.22 L543.82 938.12Z" fill="url(#gc43)"/><path d="M44.8 1145.94 L45.87 1147.13 L545.74 939.91 L544.56 938.81Z" fill="url(#gc44)"/><path d="M45.47 1146.69 L46.53 1147.88 L546.48 940.6 L545.3 939.5Z" fill="url(#gc45)"/><path d="M46.13 1147.43 L47.2 1148.62 L547.21 941.29 L546.03 940.19Z" fill="url(#gc46)"/><path d="M46.8 1148.17 L47.86 1149.37 L547.95 941.98 L546.77 940.88Z" fill="url(#gc47)"/><path d="M47.46 1148.92 L48.53 1150.11 L548.69 942.67 L547.51 941.57Z" fill="url(#gc48)"/><path d="M48.13 1149.66 L49.19 1150.86 L549.43 943.36 L548.25 942.26Z" fill="url(#gc49)"/><path d="M48.79 1150.41 L49.86 1151.6 L550.16 944.05 L548.98 942.95Z" fill="url(#gc50)"/><path d="M49.46 1151.15 L50.53 1152.35 L550.9 944.74 L549.72 943.64Z" fill="url(#gc51)"/><path d="M50.13 1151.9 L51.19 1153.09 L551.64 945.43 L550.46 944.33Z" fill="url(#gc52)"/><path d="M50.79 1152.64 L51.86 1153.84 L552.38 946.12 L551.2 945.02Z" fill="url(#gc53)"/><path d="M51.46 1153.39 L52.52 1154.58 L553.12 946.81 L551.94 945.71Z" fill="url(#gc54)"/><path d="M52.12 1154.13 L53.19 1155.33 L553.85 947.5 L552.67 946.4Z" fill="url(#gc55)"/><path d="M52.79 1154.88 L53.85 1156.07 L554.59 948.19 L553.41 947.09Z" fill="url(#gc56)"/><path d="M53.45 1155.62 L54.52 1156.82 L555.33 948.88 L554.15 947.78Z" fill="url(#gc57)"/><path d="M54.12 1156.37 L55.18 1157.56 L556.07 949.57 L554.89 948.47Z" fill="url(#gc58)"/><path d="M54.78 1157.11 L55.85 1158.3 L556.8 950.26 L555.62 949.16Z" fill="url(#gc59)"/><path d="M55.45 1157.86 L56.51 1159.05 L557.54 950.95 L556.36 949.85Z" fill="url(#gc60)"/><path d="M56.12 1158.6 L57.18 1159.79 L558.28 951.64 L557.1 950.54Z" fill="url(#gc61)"/><path d="M56.78 1159.35 L57.85 1160.54 L559.02 952.33 L557.84 951.23Z" fill="url(#gc62)"/><path d="M57.45 1160.09 L58.11 1160.84 L559.31 952.61 L558.57 951.92Z" fill="url(#gc63)"/></g>
<path d="M58.11 1158.23L559.31 949.99M58.11 1159.93L559.31 951.7M15.52 1113.97L512.1 909.26" stroke="#002" stroke-width="1" fill="none" stroke-opacity="0.45"/>
<path d="M13.9 1072.4L58.1 1119.68M58.1 1119.68L59.23 1202.52M25.16 1103.42L47.26 1126.61M47.26 1126.61L47.97 1172.3M529.88 924.21L547.05 917.08M532.09 926.42L548.76 918.88M512.1 908.45L559.31 949.41" stroke="#222" stroke-width="0.95" fill="none" stroke-opacity="0.8"/>
<path d="M58.1 1119.68L529.88 924.21M47.26 1126.61L532.09 926.42M24.98 1123.04L522.58 917.54M46.4 1145.41L546.33 938.14" stroke="#300" stroke-width="1.3" fill="none" stroke-opacity="0.45"/>
<path d="M872.7 1073.2L1376.5 870.3M872.7 1073.2L874.49 1156.63M874.49 1156.63L918.58 1204.17M918.58 1204.17L1419.83 988.83M1376.5 870.3L1425.23 910.35M1425.23 910.35L1419.83 988.83M1376.5 870.3L1370.8 949.19M1370.8 949.19L1419.83 988.83M884.09 1104.42L1387.18 898.49M1387.18 898.49L1409.36 916.55M1387.18 898.49L1385.9 916.6M1409.36 916.55L1407.53 961.25M884.09 1104.42L885.4 1150.44M885.4 1150.44L907.19 1173.75M1411.08 918.36L1409.81 936.87M874.49 1156.63L906.42 1142.3M907.19 1173.75L918.51 1168.87M874.41 1116.48L917.38 1161.19M874.41 1118.91L917.38 1163.62M874.42 1121.33L917.39 1166.04" stroke="#222" stroke-width="0.95" fill="none"/>
<path d="M874.4 1113.24L1374.15 906.21" stroke="#444" stroke-width="1" fill="none"/>
<path d="M917.59 1162.38L1421.77 951.79" stroke="#444" stroke-width="1" fill="none"/>
<path d="M917.9 1164.4L1421.77 953.82" stroke="#333" stroke-width="1" fill="none"/>
<path d="M918.21 1166.42L1421.78 955.84" stroke="#333" stroke-width="1" fill="none"/>
<g><path d="M874.4 1114.25 L875.48 1115.42 L1375.34 908.3 L1374.15 907.22Z" fill="url(#gd0)"/><path d="M875.07 1114.98 L876.15 1116.15 L1376.08 908.97 L1374.89 907.89Z" fill="url(#gd1)"/><path d="M875.75 1115.71 L876.82 1116.88 L1376.83 909.64 L1375.64 908.57Z" fill="url(#gd2)"/><path d="M876.42 1116.44 L877.49 1117.61 L1377.57 910.32 L1376.38 909.24Z" fill="url(#gd3)"/><path d="M877.09 1117.17 L878.16 1118.34 L1378.32 910.99 L1377.13 909.91Z" fill="url(#gd4)"/><path d="M877.76 1117.9 L878.83 1119.07 L1379.06 911.67 L1377.87 910.59Z" fill="url(#gd5)"/><path d="M878.43 1118.63 L879.51 1119.8 L1379.8 912.34 L1378.61 911.26Z" fill="url(#gd6)"/><path d="M879.1 1119.36 L880.18 1120.53 L1380.55 913.02 L1379.36 911.94Z" fill="url(#gd7)"/><path d="M879.77 1120.09 L880.85 1121.26 L1381.29 913.69 L1380.1 912.61Z" fill="url(#gd8)"/><path d="M880.45 1120.82 L881.52 1121.99 L1382.04 914.37 L1380.85 913.29Z" fill="url(#gd9)"/><path d="M881.12 1121.55 L882.19 1122.72 L1382.78 915.04 L1381.59 913.96Z" fill="url(#gd10)"/><path d="M881.79 1122.28 L882.86 1123.45 L1383.52 915.71 L1382.33 914.63Z" fill="url(#gd11)"/><path d="M882.46 1123.01 L883.53 1124.18 L1384.27 916.39 L1383.08 915.31Z" fill="url(#gd12)"/><path d="M883.13 1123.74 L884.21 1124.91 L1385.01 917.06 L1383.82 915.98Z" fill="url(#gd13)"/><path d="M883.8 1124.47 L884.88 1125.64 L1385.76 917.74 L1384.57 916.66Z" fill="url(#gd14)"/><path d="M884.47 1125.2 L885.55 1126.37 L1386.5 918.41 L1385.31 917.33Z" fill="url(#gd15)"/><path d="M885.15 1125.93 L886.22 1127.1 L1387.24 919.09 L1386.05 918.01Z" fill="url(#gd16)"/><path d="M885.82 1126.66 L886.89 1127.83 L1387.99 919.76 L1386.8 918.68Z" fill="url(#gd17)"/><path d="M886.49 1127.39 L887.56 1128.56 L1388.73 920.43 L1387.54 919.36Z" fill="url(#gd18)"/><path d="M887.16 1128.12 L888.23 1129.29 L1389.48 921.11 L1388.29 920.03Z" fill="url(#gd19)"/><path d="M887.83 1128.85 L888.91 1130.02 L1390.22 921.78 L1389.03 920.7Z" fill="url(#gd20)"/><path d="M888.5 1129.58 L889.58 1130.75 L1390.96 922.46 L1389.77 921.38Z" fill="url(#gd21)"/><path d="M889.17 1130.31 L890.25 1131.48 L1391.71 923.13 L1390.52 922.05Z" fill="url(#gd22)"/><path d="M889.85 1131.04 L890.92 1132.21 L1392.45 923.81 L1391.26 922.73Z" fill="url(#gd23)"/><path d="M890.52 1131.77 L891.59 1132.94 L1393.2 924.48 L1392.01 923.4Z" fill="url(#gd24)"/><path d="M891.19 1132.5 L892.26 1133.67 L1393.94 925.16 L1392.75 924.08Z" fill="url(#gd25)"/><path d="M891.86 1133.23 L892.93 1134.4 L1394.68 925.83 L1393.49 924.75Z" fill="url(#gd26)"/><path d="M892.53 1133.96 L893.61 1135.13 L1395.43 926.5 L1394.24 925.43Z" fill="url(#gd27)"/><path d="M893.2 1134.69 L894.28 1135.86 L1396.17 927.18 L1394.98 926.1Z" fill="url(#gd28)"/><path d="M893.87 1135.42 L894.95 1136.59 L1396.92 927.85 L1395.73 926.77Z" fill="url(#gd29)"/><path d="M894.55 1136.15 L895.62 1137.32 L1397.66 928.53 L1396.47 927.45Z" fill="url(#gd30)"/><path d="M895.22 1136.88 L896.29 1138.05 L1398.4 929.2 L1397.21 928.12Z" fill="url(#gd31)"/><path d="M895.89 1137.61 L896.96 1138.78 L1399.15 929.88 L1397.96 928.8Z" fill="url(#gd32)"/><path d="M896.56 1138.34 L897.63 1139.51 L1399.89 930.55 L1398.7 929.47Z" fill="url(#gd33)"/><path d="M897.23 1139.07 L898.31 1140.24 L1400.64 931.22 L1399.45 930.15Z" fill="url(#gd34)"/><path d="M897.9 1139.8 L898.98 1140.97 L1401.38 931.9 L1400.19 930.82Z" fill="url(#gd35)"/><path d="M898.57 1140.53 L899.65 1141.7 L1402.12 932.57 L1400.93 931.49Z" fill="url(#gd36)"/><path d="M899.25 1141.26 L900.32 1142.43 L1402.87 933.25 L1401.68 932.17Z" fill="url(#gd37)"/><path d="M899.92 1141.99 L900.99 1143.16 L1403.61 933.92 L1402.42 932.84Z" fill="url(#gd38)"/><path d="M900.59 1142.72 L901.66 1143.89 L1404.36 934.6 L1403.17 933.52Z" fill="url(#gd39)"/><path d="M901.26 1143.45 L902.33 1144.62 L1405.1 935.27 L1403.91 934.19Z" fill="url(#gd40)"/><path d="M901.93 1144.18 L903.01 1145.35 L1405.84 935.95 L1404.65 934.87Z" fill="url(#gd41)"/><path d="M902.6 1144.91 L903.68 1146.08 L1406.59 936.62 L1405.4 935.54Z" fill="url(#gd42)"/><path d="M903.27 1145.64 L904.35 1146.81 L1407.33 937.29 L1406.14 936.22Z" fill="url(#gd43)"/><path d="M903.95 1146.37 L905.02 1147.54 L1408.08 937.97 L1406.89 936.89Z" fill="url(#gd44)"/><path d="M904.62 1147.1 L905.69 1148.27 L1408.82 938.64 L1407.63 937.56Z" fill="url(#gd45)"/><path d="M905.29 1147.83 L906.36 1148.99 L1409.56 939.32 L1408.37 938.24Z" fill="url(#gd46)"/><path d="M905.96 1148.56 L907.03 1149.72 L1410.31 939.99 L1409.12 938.91Z" fill="url(#gd47)"/><path d="M906.63 1149.29 L907.71 1150.45 L1411.05 940.67 L1409.86 939.59Z" fill="url(#gd48)"/><path d="M907.3 1150.02 L908.38 1151.18 L1411.8 941.34 L1410.61 940.26Z" fill="url(#gd49)"/><path d="M907.97 1150.75 L909.05 1151.91 L1412.54 942.01 L1411.35 940.94Z" fill="url(#gd50)"/><path d="M908.65 1151.48 L909.72 1152.64 L1413.28 942.69 L1412.09 941.61Z" fill="url(#gd51)"/><path d="M909.32 1152.21 L910.39 1153.37 L1414.03 943.36 L1412.84 942.28Z" fill="url(#gd52)"/><path d="M909.99 1152.94 L911.06 1154.1 L1414.77 944.04 L1413.58 942.96Z" fill="url(#gd53)"/><path d="M910.66 1153.67 L911.73 1154.83 L1415.52 944.71 L1414.33 943.63Z" fill="url(#gd54)"/><path d="M911.33 1154.4 L912.41 1155.56 L1416.26 945.39 L1415.07 944.31Z" fill="url(#gd55)"/><path d="M912 1155.13 L913.08 1156.29 L1417 946.06 L1415.81 944.98Z" fill="url(#gd56)"/><path d="M912.67 1155.86 L913.75 1157.02 L1417.75 946.74 L1416.56 945.66Z" fill="url(#gd57)"/><path d="M913.35 1156.59 L914.42 1157.75 L1418.49 947.41 L1417.3 946.33Z" fill="url(#gd58)"/><path d="M914.02 1157.32 L915.09 1158.48 L1419.24 948.08 L1418.05 947.01Z" fill="url(#gd59)"/><path d="M914.69 1158.04 L915.76 1159.21 L1419.98 948.76 L1418.79 947.68Z" fill="url(#gd60)"/><path d="M915.36 1158.77 L916.43 1159.94 L1420.72 949.43 L1419.53 948.35Z" fill="url(#gd61)"/><path d="M916.03 1159.5 L917.11 1160.67 L1421.47 950.11 L1420.28 949.03Z" fill="url(#gd62)"/><path d="M916.7 1160.23 L917.37 1160.96 L1421.77 950.38 L1421.02 949.7Z" fill="url(#gd63)"/></g>
<path d="M917.37 1158.34L1421.76 947.75M917.37 1160.05L1421.76 949.47M874.41 1115.06L1374.15 908.03" stroke="#002" stroke-width="1" fill="none" stroke-opacity="0.45"/>
<path d="M872.7 1073.2L917.3 1120.74M917.3 1120.74L918.58 1204.17M884.09 1104.42L906.39 1127.74M906.39 1127.74L907.19 1173.75M1392.08 923.06L1409.36 915.84M1394.31 925.28L1411.08 917.66M1374.15 907.22L1421.77 948.38" stroke="#222" stroke-width="0.95" fill="none" stroke-opacity="0.8"/>
<path d="M917.3 1120.74L1392.08 923.06M906.39 1127.74L1394.31 925.28M883.94 1124.18L1384.72 916.35M905.56 1146.67L1408.67 937.06" stroke="#300" stroke-width="1.3" fill="none" stroke-opacity="0.45"/>
<path d="M12 1780.5L515.5 1578.5M12 1780.5L13.68 1863.83M13.68 1863.83L57.66 1911.38M57.66 1911.38L558.62 1696.96M515.5 1578.5L564.12 1618.57M564.12 1618.57L558.62 1696.96M515.5 1578.5L509.7 1657.29M509.7 1657.29L558.62 1696.96M23.34 1811.7L526.13 1606.67M526.13 1606.67L548.26 1624.74M526.13 1606.67L524.83 1624.76M548.26 1624.74L546.38 1669.39M23.34 1811.7L24.58 1857.66M24.58 1857.66L46.32 1880.98M549.98 1626.56L548.68 1645.04M13.68 1863.83L45.59 1849.57M46.32 1880.98L57.63 1876.13M13.65 1823.73L56.51 1868.45M13.65 1826.16L56.51 1870.87M13.65 1828.58L56.52 1873.3" stroke="#222" stroke-width="0.95" fill="none"/>
<path d="M13.65 1820.5L513.1 1614.36" stroke="#444" stroke-width="1" fill="none"/>
<path d="M56.72 1870.14L560.61 1660.46" stroke="#444" stroke-width="1" fill="none"/>
<path d="M57.03 1872.16L560.61 1662.48" stroke="#333" stroke-width="1" fill="none"/>
<path d="M57.33 1874.18L560.61 1664.5" stroke="#333" stroke-width="1" fill="none"/>
<g><path d="M13.65 1821.51 L14.72 1822.69 L514.29 1616.46 L513.1 1615.37Z" fill="url(#ge0)"/><path d="M14.32 1822.25 L15.39 1823.43 L515.03 1617.15 L513.85 1616.05Z" fill="url(#ge1)"/><path d="M14.99 1822.99 L16.06 1824.17 L515.78 1617.83 L514.59 1616.74Z" fill="url(#ge2)"/><path d="M15.66 1823.72 L16.73 1824.9 L516.52 1618.51 L515.33 1617.42Z" fill="url(#ge3)"/><path d="M16.33 1824.46 L17.4 1825.64 L517.26 1619.19 L516.07 1618.1Z" fill="url(#ge4)"/><path d="M17 1825.2 L18.07 1826.38 L518 1619.88 L516.81 1618.78Z" fill="url(#ge5)"/><path d="M17.67 1825.94 L18.74 1827.12 L518.74 1620.56 L517.56 1619.47Z" fill="url(#ge6)"/><path d="M18.34 1826.67 L19.41 1827.85 L519.49 1621.24 L518.3 1620.15Z" fill="url(#ge7)"/><path d="M19 1827.41 L20.08 1828.59 L520.23 1621.92 L519.04 1620.83Z" fill="url(#ge8)"/><path d="M19.67 1828.15 L20.75 1829.33 L520.97 1622.61 L519.78 1621.51Z" fill="url(#ge9)"/><path d="M20.34 1828.89 L21.42 1830.07 L521.71 1623.29 L520.53 1622.2Z" fill="url(#ge10)"/><path d="M21.01 1829.63 L22.09 1830.81 L522.46 1623.97 L521.27 1622.88Z" fill="url(#ge11)"/><path d="M21.68 1830.36 L22.76 1831.54 L523.2 1624.65 L522.01 1623.56Z" fill="url(#ge12)"/><path d="M22.35 1831.1 L23.43 1832.28 L523.94 1625.34 L522.75 1624.24Z" fill="url(#ge13)"/><path d="M23.02 1831.84 L24.09 1833.02 L524.68 1626.02 L523.5 1624.93Z" fill="url(#ge14)"/><path d="M23.69 1832.58 L24.76 1833.76 L525.43 1626.7 L524.24 1625.61Z" fill="url(#ge15)"/><path d="M24.36 1833.31 L25.43 1834.49 L526.17 1627.38 L524.98 1626.29Z" fill="url(#ge16)"/><path d="M25.03 1834.05 L26.1 1835.23 L526.91 1628.07 L525.72 1626.97Z" fill="url(#ge17)"/><path d="M25.7 1834.79 L26.77 1835.97 L527.65 1628.75 L526.46 1627.66Z" fill="url(#ge18)"/><path d="M26.37 1835.53 L27.44 1836.71 L528.39 1629.43 L527.21 1628.34Z" fill="url(#ge19)"/><path d="M27.04 1836.27 L28.11 1837.45 L529.14 1630.11 L527.95 1629.02Z" fill="url(#ge20)"/><path d="M27.71 1837 L28.78 1838.18 L529.88 1630.8 L528.69 1629.7Z" fill="url(#ge21)"/><path d="M28.38 1837.74 L29.45 1838.92 L530.62 1631.48 L529.43 1630.39Z" fill="url(#ge22)"/><path d="M29.05 1838.48 L30.12 1839.66 L531.36 1632.16 L530.18 1631.07Z" fill="url(#ge23)"/><path d="M29.72 1839.22 L30.79 1840.4 L532.11 1632.84 L530.92 1631.75Z" fill="url(#ge24)"/><path d="M30.39 1839.95 L31.46 1841.13 L532.85 1633.53 L531.66 1632.43Z" fill="url(#ge25)"/><path d="M31.06 1840.69 L32.13 1841.87 L533.59 1634.21 L532.4 1633.12Z" fill="url(#ge26)"/><path d="M31.73 1841.43 L32.8 1842.61 L534.33 1634.89 L533.15 1633.8Z" fill="url(#ge27)"/><path d="M32.4 1842.17 L33.47 1843.35 L535.08 1635.57 L533.89 1634.48Z" fill="url(#ge28)"/><path d="M33.07 1842.91 L34.14 1844.09 L535.82 1636.26 L534.63 1635.16Z" fill="url(#ge29)"/><path d="M33.74 1843.64 L34.81 1844.82 L536.56 1636.94 L535.37 1635.85Z" fill="url(#ge30)"/><path d="M34.41 1844.38 L35.48 1845.56 L537.3 1637.62 L536.11 1636.53Z" fill="url(#ge31)"/><path d="M35.08 1845.12 L36.15 1846.3 L538.04 1638.3 L536.86 1637.21Z" fill="url(#ge32)"/><path d="M35.75 1845.86 L36.82 1847.04 L538.79 1638.98 L537.6 1637.89Z" fill="url(#ge33)"/><path d="M36.42 1846.59 L37.49 1847.77 L539.53 1639.67 L538.34 1638.58Z" fill="url(#ge34)"/><path d="M37.09 1847.33 L38.16 1848.51 L540.27 1640.35 L539.08 1639.26Z" fill="url(#ge35)"/><path d="M37.76 1848.07 L38.83 1849.25 L541.01 1641.03 L539.83 1639.94Z" fill="url(#ge36)"/><path d="M38.43 1848.81 L39.5 1849.99 L541.76 1641.71 L540.57 1640.62Z" fill="url(#ge37)"/><path d="M39.1 1849.54 L40.17 1850.73 L542.5 1642.4 L541.31 1641.31Z" fill="url(#ge38)"/><path d="M39.77 1850.28 L40.84 1851.46 L543.24 1643.08 L542.05 1641.99Z" fill="url(#ge39)"/><path d="M40.44 1851.02 L41.51 1852.2 L543.98 1643.76 L542.8 1642.67Z" fill="url(#ge40)"/><path d="M41.11 1851.76 L42.18 1852.94 L544.73 1644.44 L543.54 1643.35Z" fill="url(#ge41)"/><path d="M41.78 1852.5 L42.85 1853.68 L545.47 1645.13 L544.28 1644.04Z" fill="url(#ge42)"/><path d="M42.45 1853.23 L43.52 1854.41 L546.21 1645.81 L545.02 1644.72Z" fill="url(#ge43)"/><path d="M43.12 1853.97 L44.19 1855.15 L546.95 1646.49 L545.76 1645.4Z" fill="url(#ge44)"/><path d="M43.79 1854.71 L44.86 1855.89 L547.69 1647.17 L546.51 1646.08Z" fill="url(#ge45)"/><path d="M44.45 1855.45 L45.53 1856.63 L548.44 1647.86 L547.25 1646.76Z" fill="url(#ge46)"/><path d="M45.12 1856.18 L46.2 1857.37 L549.18 1648.54 L547.99 1647.45Z" fill="url(#ge47)"/><path d="M45.79 1856.92 L46.87 1858.1 L549.92 1649.22 L548.73 1648.13Z" fill="url(#ge48)"/><path d="M46.46 1857.66 L47.54 1858.84 L550.66 1649.9 L549.48 1648.81Z" fill="url(#ge49)"/><path d="M47.13 1858.4 L48.21 1859.58 L551.41 1650.59 L550.22 1649.49Z" fill="url(#ge50)"/><path d="M47.8 1859.14 L48.88 1860.32 L552.15 1651.27 L550.96 1650.18Z" fill="url(#ge51)"/><path d="M48.47 1859.87 L49.54 1861.05 L552.89 1651.95 L551.7 1650.86Z" fill="url(#ge52)"/><path d="M49.14 1860.61 L50.21 1861.79 L553.63 1652.63 L552.45 1651.54Z" fill="url(#ge53)"/><path d="M49.81 1861.35 L50.88 1862.53 L554.38 1653.32 L553.19 1652.22Z" fill="url(#ge54)"/><path d="M50.48 1862.09 L51.55 1863.27 L555.12 1654 L553.93 1652.91Z" fill="url(#ge55)"/><path d="M51.15 1862.82 L52.22 1864.01 L555.86 1654.68 L554.67 1653.59Z" fill="url(#ge56)"/><path d="M51.82 1863.56 L52.89 1864.74 L556.6 1655.36 L555.41 1654.27Z" fill="url(#ge57)"/><path d="M52.49 1864.3 L53.56 1865.48 L557.34 1656.05 L556.16 1654.95Z" fill="url(#ge58)"/><path d="M53.16 1865.04 L54.23 1866.22 L558.09 1656.73 L556.9 1655.64Z" fill="url(#ge59)"/><path d="M53.83 1865.78 L54.9 1866.96 L558.83 1657.41 L557.64 1656.32Z" fill="url(#ge60)"/><path d="M54.5 1866.51 L55.57 1867.69 L559.57 1658.09 L558.38 1657Z" fill="url(#ge61)"/><path d="M55.17 1867.25 L56.24 1868.43 L560.31 1658.78 L559.13 1657.68Z" fill="url(#ge62)"/><path d="M55.84 1867.99 L56.51 1868.73 L560.61 1659.05 L559.87 1658.37Z" fill="url(#ge63)"/></g>
<path d="M56.51 1866.1L560.61 1656.42M56.51 1867.82L560.61 1658.14M13.65 1822.32L513.1 1616.18" stroke="#002" stroke-width="1" fill="none" stroke-opacity="0.45"/>
<path d="M12 1780.5L56.48 1828.04M56.48 1828.04L57.66 1911.38M23.34 1811.7L45.58 1835.02M45.58 1835.02L46.32 1880.98M530.99 1631.22L548.26 1624.03M533.22 1633.44L549.98 1625.85M513.1 1615.37L560.61 1656.55" stroke="#222" stroke-width="0.95" fill="none" stroke-opacity="0.8"/>
<path d="M56.48 1828.04L530.99 1631.22M45.58 1835.02L533.22 1633.44M23.16 1831.44L523.65 1624.51M44.72 1853.93L547.55 1645.23" stroke="#300" stroke-width="1.3" fill="none" stroke-opacity="0.45"/>
<path d="M872.7 1780.9L1376.5 1578.5M872.7 1780.9L874.42 1864.3M874.42 1864.3L918.45 1911.86M918.45 1911.86L1419.71 1697.03M1376.5 1578.5L1425.17 1618.57M1425.17 1618.57L1419.71 1697.03M1376.5 1578.5L1370.73 1657.36M1370.73 1657.36L1419.71 1697.03M884.06 1812.12L1387.15 1606.69M1387.15 1606.69L1409.31 1624.76M1387.15 1606.69L1385.86 1624.79M1409.31 1624.76L1407.45 1669.45M884.06 1812.12L885.33 1858.12M885.33 1858.12L907.09 1881.45M1411.03 1626.58L1409.74 1645.08M874.42 1864.3L906.35 1850.01M907.09 1881.45L918.41 1876.58M874.37 1824.17L917.29 1868.9M874.37 1826.59L917.29 1871.32M874.38 1829.02L917.29 1873.75" stroke="#222" stroke-width="0.95" fill="none"/>
<path d="M874.37 1820.93L1374.12 1614.39" stroke="#444" stroke-width="1" fill="none"/>
<path d="M917.5 1869.79L1421.69 1659.7" stroke="#444" stroke-width="1" fill="none"/>
<path d="M917.81 1871.81L1421.69 1661.73" stroke="#333" stroke-width="1" fill="none"/>
<path d="M918.11 1873.83L1421.69 1663.75" stroke="#333" stroke-width="1" fill="none"/>
<g><path d="M874.37 1821.94 L875.44 1823.1 L1375.31 1616.47 L1374.12 1615.4Z" fill="url(#gf0)"/><path d="M875.04 1822.67 L876.11 1823.83 L1376.05 1617.14 L1374.86 1616.07Z" fill="url(#gf1)"/><path d="M875.71 1823.39 L876.78 1824.55 L1376.79 1617.81 L1375.61 1616.74Z" fill="url(#gf2)"/><path d="M876.38 1824.12 L877.45 1825.28 L1377.54 1618.48 L1376.35 1617.41Z" fill="url(#gf3)"/><path d="M877.05 1824.84 L878.12 1826 L1378.28 1619.15 L1377.09 1618.08Z" fill="url(#gf4)"/><path d="M877.72 1825.57 L878.79 1826.73 L1379.02 1619.82 L1377.84 1618.75Z" fill="url(#gf5)"/><path d="M878.39 1826.29 L879.46 1827.46 L1379.77 1620.49 L1378.58 1619.42Z" fill="url(#gf6)"/><path d="M879.06 1827.02 L880.14 1828.18 L1380.51 1621.16 L1379.32 1620.09Z" fill="url(#gf7)"/><path d="M879.73 1827.75 L880.81 1828.91 L1381.25 1621.83 L1380.06 1620.76Z" fill="url(#gf8)"/><path d="M880.4 1828.47 L881.48 1829.63 L1382 1622.51 L1380.81 1621.43Z" fill="url(#gf9)"/><path d="M881.07 1829.2 L882.15 1830.36 L1382.74 1623.18 L1381.55 1622.1Z" fill="url(#gf10)"/><path d="M881.74 1829.92 L882.82 1831.08 L1383.48 1623.85 L1382.29 1622.77Z" fill="url(#gf11)"/><path d="M882.42 1830.65 L883.49 1831.81 L1384.23 1624.52 L1383.04 1623.44Z" fill="url(#gf12)"/><path d="M883.09 1831.37 L884.16 1832.53 L1384.97 1625.19 L1383.78 1624.11Z" fill="url(#gf13)"/><path d="M883.76 1832.1 L884.83 1833.26 L1385.71 1625.86 L1384.52 1624.78Z" fill="url(#gf14)"/><path d="M884.43 1832.82 L885.5 1833.98 L1386.46 1626.53 L1385.27 1625.45Z" fill="url(#gf15)"/><path d="M885.1 1833.55 L886.17 1834.71 L1387.2 1627.2 L1386.01 1626.12Z" fill="url(#gf16)"/><path d="M885.77 1834.27 L886.84 1835.44 L1387.94 1627.87 L1386.75 1626.79Z" fill="url(#gf17)"/><path d="M886.44 1835 L887.51 1836.16 L1388.69 1628.54 L1387.5 1627.46Z" fill="url(#gf18)"/><path d="M887.11 1835.73 L888.18 1836.89 L1389.43 1629.21 L1388.24 1628.13Z" fill="url(#gf19)"/><path d="M887.78 1836.45 L888.85 1837.61 L1390.17 1629.88 L1388.98 1628.8Z" fill="url(#gf20)"/><path d="M888.45 1837.18 L889.52 1838.34 L1390.92 1630.55 L1389.73 1629.47Z" fill="url(#gf21)"/><path d="M889.12 1837.9 L890.19 1839.06 L1391.66 1631.22 L1390.47 1630.14Z" fill="url(#gf22)"/><path d="M889.79 1838.63 L890.86 1839.79 L1392.4 1631.89 L1391.21 1630.81Z" fill="url(#gf23)"/><path d="M890.46 1839.35 L891.54 1840.51 L1393.14 1632.56 L1391.96 1631.48Z" fill="url(#gf24)"/><path d="M891.13 1840.08 L892.21 1841.24 L1393.89 1633.23 L1392.7 1632.15Z" fill="url(#gf25)"/><path d="M891.8 1840.8 L892.88 1841.97 L1394.63 1633.9 L1393.44 1632.82Z" fill="url(#gf26)"/><path d="M892.47 1841.53 L893.55 1842.69 L1395.37 1634.57 L1394.19 1633.49Z" fill="url(#gf27)"/><path d="M893.14 1842.26 L894.22 1843.42 L1396.12 1635.24 L1394.93 1634.17Z" fill="url(#gf28)"/><path d="M893.82 1842.98 L894.89 1844.14 L1396.86 1635.91 L1395.67 1634.84Z" fill="url(#gf29)"/><path d="M894.49 1843.71 L895.56 1844.87 L1397.6 1636.58 L1396.41 1635.51Z" fill="url(#gf30)"/><path d="M895.16 1844.43 L896.23 1845.59 L1398.35 1637.25 L1397.16 1636.18Z" fill="url(#gf31)"/><path d="M895.83 1845.16 L896.9 1846.32 L1399.09 1637.92 L1397.9 1636.85Z" fill="url(#gf32)"/><path d="M896.5 1845.88 L897.57 1847.04 L1399.83 1638.59 L1398.64 1637.52Z" fill="url(#gf33)"/><path d="M897.17 1846.61 L898.24 1847.77 L1400.58 1639.26 L1399.39 1638.19Z" fill="url(#gf34)"/><path d="M897.84 1847.33 L898.91 1848.49 L1401.32 1639.93 L1400.13 1638.86Z" fill="url(#gf35)"/><path d="M898.51 1848.06 L899.58 1849.22 L1402.06 1640.6 L1400.87 1639.53Z" fill="url(#gf36)"/><path d="M899.18 1848.78 L900.25 1849.95 L1402.81 1641.27 L1401.62 1640.2Z" fill="url(#gf37)"/><path d="M899.85 1849.51 L900.92 1850.67 L1403.55 1641.94 L1402.36 1640.87Z" fill="url(#gf38)"/><path d="M900.52 1850.24 L901.59 1851.4 L1404.29 1642.61 L1403.1 1641.54Z" fill="url(#gf39)"/><path d="M901.19 1850.96 L902.26 1852.12 L1405.04 1643.28 L1403.85 1642.21Z" fill="url(#gf40)"/><path d="M901.86 1851.69 L902.94 1852.85 L1405.78 1643.95 L1404.59 1642.88Z" fill="url(#gf41)"/><path d="M902.53 1852.41 L903.61 1853.57 L1406.52 1644.62 L1405.33 1643.55Z" fill="url(#gf42)"/><path d="M903.2 1853.14 L904.28 1854.3 L1407.27 1645.29 L1406.08 1644.22Z" fill="url(#gf43)"/><path d="M903.87 1853.86 L904.95 1855.02 L1408.01 1645.96 L1406.82 1644.89Z" fill="url(#gf44)"/><path d="M904.54 1854.59 L905.62 1855.75 L1408.75 1646.63 L1407.56 1645.56Z" fill="url(#gf45)"/><path d="M905.22 1855.31 L906.29 1856.47 L1409.49 1647.3 L1408.31 1646.23Z" fill="url(#gf46)"/><path d="M905.89 1856.04 L906.96 1857.2 L1410.24 1647.97 L1409.05 1646.9Z" fill="url(#gf47)"/><path d="M906.56 1856.77 L907.63 1857.93 L1410.98 1648.64 L1409.79 1647.57Z" fill="url(#gf48)"/><path d="M907.23 1857.49 L908.3 1858.65 L1411.72 1649.31 L1410.54 1648.24Z" fill="url(#gf49)"/><path d="M907.9 1858.22 L908.97 1859.38 L1412.47 1649.98 L1411.28 1648.91Z" fill="url(#gf50)"/><path d="M908.57 1858.94 L909.64 1860.1 L1413.21 1650.65 L1412.02 1649.58Z" fill="url(#gf51)"/><path d="M909.24 1859.67 L910.31 1860.83 L1413.95 1651.32 L1412.77 1650.25Z" fill="url(#gf52)"/><path d="M909.91 1860.39 L910.98 1861.55 L1414.7 1651.99 L1413.51 1650.92Z" fill="url(#gf53)"/><path d="M910.58 1861.12 L911.65 1862.28 L1415.44 1652.66 L1414.25 1651.59Z" fill="url(#gf54)"/><path d="M911.25 1861.84 L912.32 1863 L1416.18 1653.33 L1414.99 1652.26Z" fill="url(#gf55)"/><path d="M911.92 1862.57 L912.99 1863.73 L1416.93 1654 L1415.74 1652.93Z" fill="url(#gf56)"/><path d="M912.59 1863.29 L913.66 1864.46 L1417.67 1654.67 L1416.48 1653.6Z" fill="url(#gf57)"/><path d="M913.26 1864.02 L914.34 1865.18 L1418.41 1655.34 L1417.22 1654.27Z" fill="url(#gf58)"/><path d="M913.93 1864.75 L915.01 1865.91 L1419.16 1656.01 L1417.97 1654.94Z" fill="url(#gf59)"/><path d="M914.6 1865.47 L915.68 1866.63 L1419.9 1656.68 L1418.71 1655.61Z" fill="url(#gf60)"/><path d="M915.27 1866.2 L916.35 1867.36 L1420.64 1657.35 L1419.45 1656.28Z" fill="url(#gf61)"/><path d="M915.94 1866.92 L917.02 1868.08 L1421.39 1658.02 L1420.2 1656.95Z" fill="url(#gf62)"/><path d="M916.62 1867.65 L917.29 1868.37 L1421.68 1658.29 L1420.94 1657.62Z" fill="url(#gf63)"/></g>
<path d="M917.28 1865.74L1421.68 1655.66M917.29 1867.46L1421.68 1657.38M874.37 1822.75L1374.12 1616.21" stroke="#002" stroke-width="1" fill="none" stroke-opacity="0.45"/>
<path d="M872.7 1780.9L917.24 1828.46M917.24 1828.46L918.45 1911.86M884.06 1812.12L906.33 1835.45M906.33 1835.45L907.09 1881.45M1392.03 1631.25L1409.31 1624.05M1394.26 1633.47L1411.03 1625.87M1374.12 1615.4L1421.68 1656.59" stroke="#222" stroke-width="0.95" fill="none" stroke-opacity="0.8"/>
<path d="M917.24 1828.46L1392.03 1631.25M906.33 1835.45L1394.26 1633.47M883.9 1831.87L1384.68 1624.55M905.48 1854.37L1408.6 1645.26" stroke="#300" stroke-width="1.3" fill="none" stroke-opacity="0.45"/>
<rect x="585" y="108.1" width="10.5" height="481.3" fill="url(#jetv)"/>
<path d="M585.6 108.1V589.4M594.9 108.1V589.4" stroke="#000" stroke-opacity="0.55" stroke-width="1.2" fill="none"/>
<path d="M585 173.1h2.2M595.5 173.1h-2.2M585 243.1h2.2M595.5 243.1h-2.2M585 313.1h2.2M595.5 313.1h-2.2M585 383.1h2.2M595.5 383.1h-2.2M585 453.1h2.2M595.5 453.1h-2.2M585 523.1h2.2M595.5 523.1h-2.2" stroke="#000" stroke-opacity="0.8" stroke-width="0.9" fill="none"/>
<text transform="translate(598.11 185.68) scale(0.9300 1)" font-size="38.4">1150</text>
<text transform="translate(598.11 255.68) scale(0.9300 1)" font-size="38.4">1100</text>
<text transform="translate(598.11 325.68) scale(0.9300 1)" font-size="38.4">1050</text>
<text transform="translate(598.11 395.68) scale(0.9300 1)" font-size="38.4">1000</text>
<text transform="translate(600.1 465.68) scale(0.9300 1)" font-size="38.4">950</text>
<text transform="translate(600.1 535.68) scale(0.9300 1)" font-size="38.4">900</text>
<path d="M595 10.6L613.1 45.6L576.9 45.6Z" fill="#000"/>
<path d="M576.9 610.6L613.1 610.6L595 645.6Z" fill="#000"/>
<text transform="translate(623.9 47.72) scale(0.8762 1)" font-size="39">1197</text>
<text transform="translate(623.66 642.55) scale(0.9124 1)" font-size="38.57">853.16</text>
<path d="M66 15.75Q39 36.92 66 58.1L66.2 57.5Q45.1 36.92 66.2 16.35Z" fill="#000"/>
<text transform="translate(73.3 57.22) scale(0.8960 1)" font-size="53.97">a</text>
<path d="M101.6 15.75Q129.4 36.92 101.6 58.1L101.4 57.5Q123.3 36.92 101.4 16.35Z" fill="#000"/>
<rect x="1447.5" y="108.75" width="10.5" height="482.85" fill="url(#jetv)"/>
<path d="M1448.1 108.75V591.6M1457.4 108.75V591.6" stroke="#000" stroke-opacity="0.55" stroke-width="1.2" fill="none"/>
<path d="M1447.5 117.3h2.2M1458 117.3h-2.2M1447.5 164.74h2.2M1458 164.74h-2.2M1447.5 212.18h2.2M1458 212.18h-2.2M1447.5 259.62h2.2M1458 259.62h-2.2M1447.5 307.06h2.2M1458 307.06h-2.2M1447.5 354.5h2.2M1458 354.5h-2.2M1447.5 401.94h2.2M1458 401.94h-2.2M1447.5 449.38h2.2M1458 449.38h-2.2M1447.5 496.82h2.2M1458 496.82h-2.2M1447.5 544.26h2.2M1458 544.26h-2.2" stroke="#000" stroke-opacity="0.8" stroke-width="0.9" fill="none"/>
<text transform="translate(1462.18 129.88) scale(0.9300 1)" font-size="38.4">2400</text>
<text transform="translate(1462.18 177.32) scale(0.9300 1)" font-size="38.4">2300</text>
<text transform="translate(1462.18 224.76) scale(0.9300 1)" font-size="38.4">2200</text>
<text transform="translate(1462.18 272.2) scale(0.9300 1)" font-size="38.4">2100</text>
<text transform="translate(1462.18 319.64) scale(0.9300 1)" font-size="38.4">2000</text>
<text transform="translate(1460.61 367.08) scale(0.9300 1)" font-size="38.4">1900</text>
<text transform="translate(1460.61 414.52) scale(0.9300 1)" font-size="38.4">1800</text>
<text transform="translate(1460.61 461.96) scale(0.9300 1)" font-size="38.4">1700</text>
<text transform="translate(1460.61 509.4) scale(0.9300 1)" font-size="38.4">1600</text>
<text transform="translate(1460.61 556.84) scale(0.9300 1)" font-size="38.4">1500</text>
<path d="M1457.5 10.6L1475.6 45.6L1439.4 45.6Z" fill="#000"/>
<path d="M1439.4 613.1L1475.6 613.1L1457.5 647.5Z" fill="#000"/>
<text transform="translate(1484.7 47.55) scale(0.9126 1)" font-size="38.57">2418.1</text>
<text transform="translate(1486.32 645.07) scale(0.9287 1)" font-size="37.69">1401.8</text>
<path d="M927.5 21Q901.3 41.45 927.5 61.9L927.7 61.3Q907.4 41.45 927.7 21.6Z" fill="#000"/>
<text transform="translate(935 60.49) scale(0.8954 1)" font-size="52.59">b</text>
<path d="M965 21Q992 41.45 965 61.9L964.8 61.3Q985.9 41.45 964.8 21.6Z" fill="#000"/>
<rect x="586" y="816.25" width="10.25" height="482.5" fill="url(#jetv)"/>
<path d="M586.6 816.25V1298.75M595.65 816.25V1298.75" stroke="#000" stroke-opacity="0.55" stroke-width="1.2" fill="none"/>
<path d="M586 849.4h2.2M596.25 849.4h-2.2M586 953.45h2.2M596.25 953.45h-2.2M586 1057.5h2.2M596.25 1057.5h-2.2M586 1161.55h2.2M596.25 1161.55h-2.2M586 1265.6h2.2M596.25 1265.6h-2.2" stroke="#000" stroke-opacity="0.8" stroke-width="0.9" fill="none"/>
<text transform="translate(600.79 861.98) scale(0.9300 1)" font-size="38.4">3500</text>
<text transform="translate(600.79 966.03) scale(0.9300 1)" font-size="38.4">3000</text>
<text transform="translate(600.93 1070.08) scale(0.9300 1)" font-size="38.4">2500</text>
<text transform="translate(600.93 1174.13) scale(0.9300 1)" font-size="38.4">2000</text>
<text transform="translate(599.36 1278.18) scale(0.9300 1)" font-size="38.4">1500</text>
<path d="M595.9 718.1L614.1 753.1L577.9 753.1Z" fill="#000"/>
<path d="M577.9 1320.25L614.1 1320.25L595.9 1355Z" fill="#000"/>
<text transform="translate(623.31 755.05) scale(0.9095 1)" font-size="38.74">3661.1</text>
<text transform="translate(625.02 1352.55) scale(0.9043 1)" font-size="38.74">1342.5</text>
<path d="M67.9 728.9Q42.3 749.5 67.9 770.1L68.1 769.5Q48.4 749.5 68.1 729.5Z" fill="#000"/>
<text transform="translate(75.07 768.88) scale(0.9053 1)" font-size="53.02">c</text>
<path d="M103.1 728.9Q130.9 749.5 103.1 770.1L102.9 769.5Q124.8 749.5 102.9 729.5Z" fill="#000"/>
<rect x="1448.1" y="815" width="10.4" height="486.5" fill="url(#jetv)"/>
<path d="M1448.7 815V1301.5M1457.9 815V1301.5" stroke="#000" stroke-opacity="0.55" stroke-width="1.2" fill="none"/>
<path d="M1448.1 863.1h2.2M1458.5 863.1h-2.2M1448.1 920.83h2.2M1458.5 920.83h-2.2M1448.1 978.56h2.2M1458.5 978.56h-2.2M1448.1 1036.29h2.2M1458.5 1036.29h-2.2M1448.1 1094.02h2.2M1458.5 1094.02h-2.2M1448.1 1151.75h2.2M1458.5 1151.75h-2.2M1448.1 1209.48h2.2M1458.5 1209.48h-2.2M1448.1 1267.21h2.2M1458.5 1267.21h-2.2" stroke="#000" stroke-opacity="0.8" stroke-width="0.9" fill="none"/>
<text transform="translate(1464 875.68) scale(0.9300 1)" font-size="38.4">4500</text>
<text transform="translate(1464 933.41) scale(0.9300 1)" font-size="38.4">4000</text>
<text transform="translate(1462.99 991.14) scale(0.9300 1)" font-size="38.4">3500</text>
<text transform="translate(1462.99 1048.87) scale(0.9300 1)" font-size="38.4">3000</text>
<text transform="translate(1463.13 1106.6) scale(0.9300 1)" font-size="38.4">2500</text>
<text transform="translate(1463.13 1164.33) scale(0.9300 1)" font-size="38.4">2000</text>
<text transform="translate(1461.56 1222.06) scale(0.9300 1)" font-size="38.4">1500</text>
<text transform="translate(1461.56 1279.79) scale(0.9300 1)" font-size="38.4">1000</text>
<path d="M1458.4 716L1476.25 751L1440 751Z" fill="#000"/>
<path d="M1440 1323.1L1476.25 1323.1L1458.4 1357.75Z" fill="#000"/>
<text transform="translate(1486.8 753.19) scale(0.8976 1)" font-size="39.7">4917.6</text>
<text transform="translate(1485.09 1355.05) scale(0.9491 1)" font-size="38.57">707.62</text>
<path d="M926.4 723.25Q899.4 742.17 926.4 761.1L926.6 760.5Q905.5 742.17 926.6 723.85Z" fill="#000"/>
<text transform="translate(933.17 759.53) scale(1.0462 1)" font-size="48.46">d</text>
<path d="M965 723.25Q993.5 742.17 965 761.1L964.8 760.5Q987.4 742.17 964.8 723.85Z" fill="#000"/>
<rect x="587.25" y="1523.1" width="10.25" height="486.3" fill="url(#jetv)"/>
<path d="M587.85 1523.1V2009.4M596.9 1523.1V2009.4" stroke="#000" stroke-opacity="0.55" stroke-width="1.2" fill="none"/>
<path d="M587.25 1537.2h2.2M597.5 1537.2h-2.2M587.25 1618.64h2.2M597.5 1618.64h-2.2M587.25 1700.08h2.2M597.5 1700.08h-2.2M587.25 1781.52h2.2M597.5 1781.52h-2.2M587.25 1862.96h2.2M597.5 1862.96h-2.2M587.25 1944.4h2.2M597.5 1944.4h-2.2" stroke="#000" stroke-opacity="0.8" stroke-width="0.9" fill="none"/>
<text transform="translate(602.22 1549.78) scale(0.9300 1)" font-size="38.4">6000</text>
<text transform="translate(601.67 1631.22) scale(0.9300 1)" font-size="38.4">5000</text>
<text transform="translate(603.05 1712.66) scale(0.9300 1)" font-size="38.4">4000</text>
<text transform="translate(602.04 1794.1) scale(0.9300 1)" font-size="38.4">3000</text>
<text transform="translate(602.18 1875.54) scale(0.9300 1)" font-size="38.4">2000</text>
<text transform="translate(600.61 1956.98) scale(0.9300 1)" font-size="38.4">1000</text>
<path d="M597.25 1424L615.4 1458.75L579 1458.75Z" fill="#000"/>
<path d="M579 2030.6L615.4 2030.6L597.25 2065.6Z" fill="#000"/>
<text transform="translate(625.35 1461.34) scale(0.9111 1)" font-size="39.61">6182.9</text>
<text transform="translate(624.64 2063.2) scale(0.9473 1)" font-size="38.65">206.2</text>
<path d="M66.4 1422.9Q40.1 1441.83 66.4 1460.75L66.6 1460.15Q46.2 1441.83 66.6 1423.5Z" fill="#000"/>
<text transform="translate(72.98 1459.53) scale(1.0675 1)" font-size="48.34">e</text>
<path d="M102.4 1422.9Q131.6 1441.83 102.4 1460.75L102.2 1460.15Q125.5 1441.83 102.2 1423.5Z" fill="#000"/>
<rect x="1448.1" y="1523.1" width="10.4" height="486.3" fill="url(#jetv)"/>
<path d="M1448.7 1523.1V2009.4M1457.9 1523.1V2009.4" stroke="#000" stroke-opacity="0.55" stroke-width="1.2" fill="none"/>
<path d="M1448.1 1552.2h2.2M1458.5 1552.2h-2.2M1448.1 1617.82h2.2M1458.5 1617.82h-2.2M1448.1 1683.44h2.2M1458.5 1683.44h-2.2M1448.1 1749.06h2.2M1458.5 1749.06h-2.2M1448.1 1814.68h2.2M1458.5 1814.68h-2.2M1448.1 1880.3h2.2M1458.5 1880.3h-2.2M1448.1 1945.92h2.2M1458.5 1945.92h-2.2" stroke="#000" stroke-opacity="0.8" stroke-width="0.9" fill="none"/>
<text transform="translate(1462.35 1564.78) scale(0.9300 1)" font-size="38.4">7000</text>
<text transform="translate(1463.17 1630.4) scale(0.9300 1)" font-size="38.4">6000</text>
<text transform="translate(1462.62 1696.02) scale(0.9300 1)" font-size="38.4">5000</text>
<text transform="translate(1464 1761.64) scale(0.9300 1)" font-size="38.4">4000</text>
<text transform="translate(1462.99 1827.26) scale(0.9300 1)" font-size="38.4">3000</text>
<text transform="translate(1463.13 1892.88) scale(0.9300 1)" font-size="38.4">2000</text>
<text transform="translate(1461.56 1958.5) scale(0.9300 1)" font-size="38.4">1000</text>
<path d="M1458.4 1424L1476.25 1459L1440 1459Z" fill="#000"/>
<path d="M1440 2030.6L1476.25 2030.6L1458.4 2065.6Z" fill="#000"/>
<text transform="translate(1485.74 1461.33) scale(0.8959 1)" font-size="40.01">7454.4</text>
<text transform="translate(1486.41 2063.2) scale(0.9074 1)" font-size="38.82">39.393</text>
<path d="M930 1422.9Q904 1441.83 930 1460.75L930.2 1460.15Q910.1 1441.83 930.2 1423.5Z" fill="#000"/>
<text transform="translate(937.07 1459.6) scale(1.3437 1)" font-size="49">f</text>
<path d="M960.9 1422.9Q989.3 1441.83 960.9 1460.75L960.7 1460.15Q983.2 1441.83 960.7 1423.5Z" fill="#000"/>
</svg></body></html>
